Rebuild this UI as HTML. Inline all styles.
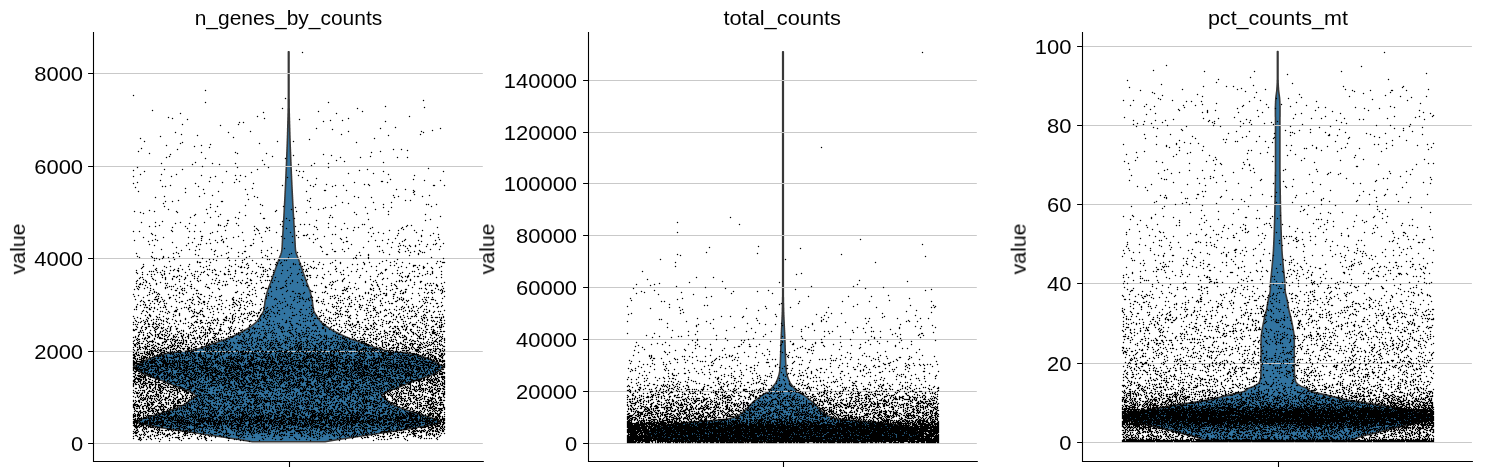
<!DOCTYPE html><html><head><meta charset="utf-8"><title>violin</title><style>html,body{margin:0;padding:0;background:#fff}svg{display:block}text{font-family:"Liberation Sans",sans-serif;fill:#000}.t{opacity:.999}</style></head><body>
<svg width="1502" height="476" viewBox="0 0 1502 476">
<rect width="1502" height="476" fill="#fff"/>
<path d="M288.4,51.7L288.4,52.2L288.4,52.7L288.4,53.2L288.4,53.7L288.4,54.2L288.4,54.7L288.4,55.2L288.4,55.7L288.4,56.2L288.4,56.7L288.4,57.2L288.4,57.7L288.4,58.2L288.4,58.7L288.4,59.2L288.4,59.7L288.4,60.2L288.4,60.7L288.4,61.2L288.4,61.7L288.4,62.2L288.4,62.7L288.4,63.2L288.4,63.7L288.4,64.2L288.4,64.7L288.4,65.2L288.4,65.7L288.4,66.2L288.4,66.7L288.4,67.2L288.4,67.7L288.4,68.2L288.4,68.7L288.4,69.2L288.4,69.7L288.4,70.2L288.4,70.7L288.4,71.2L288.4,71.7L288.4,72.2L288.4,72.7L288.4,73.2L288.4,73.7L288.4,74.2L288.4,74.7L288.4,75.2L288.4,75.7L288.4,76.2L288.4,76.7L288.4,77.2L288.4,77.7L288.4,78.2L288.4,78.7L288.4,79.2L288.4,79.7L288.4,80.2L288.4,80.7L288.4,81.2L288.4,81.7L288.4,82.2L288.4,82.7L288.4,83.2L288.4,83.7L288.4,84.2L288.4,84.7L288.4,85.2L288.4,85.7L288.4,86.2L288.4,86.7L288.4,87.2L288.4,87.7L288.4,88.2L288.4,88.7L288.4,89.2L288.4,89.7L288.4,90.2L288.4,90.7L288.4,91.2L288.4,91.7L288.4,92.2L288.4,92.7L288.4,93.2L288.4,93.7L288.4,94.2L288.4,94.7L288.4,95.2L288.4,95.7L288.4,96.2L288.4,96.7L288.4,97.2L288.4,97.7L288.4,98.2L288.4,98.7L288.3,99.2L288.3,99.7L288.3,100.2L288.3,100.7L288.3,101.2L288.3,101.7L288.3,102.2L288.3,102.7L288.3,103.2L288.3,103.7L288.3,104.2L288.3,104.7L288.3,105.2L288.3,105.7L288.3,106.2L288.3,106.7L288.3,107.2L288.3,107.7L288.3,108.2L288.2,108.7L288.2,109.2L288.2,109.7L288.2,110.2L288.2,110.7L288.2,111.2L288.2,111.7L288.2,112.2L288.2,112.7L288.2,113.2L288.1,113.7L288.1,114.2L288.1,114.7L288.1,115.2L288.1,115.7L288.1,116.2L288.1,116.7L288.1,117.2L288.0,117.7L288.0,118.2L288.0,118.7L288.0,119.2L288.0,119.7L288.0,120.2L288.0,120.7L287.9,121.2L287.9,121.7L287.9,122.2L287.9,122.7L287.9,123.2L287.9,123.7L287.9,124.2L287.8,124.7L287.8,125.2L287.8,125.7L287.8,126.2L287.8,126.7L287.8,127.2L287.8,127.7L287.7,128.2L287.7,128.7L287.7,129.2L287.7,129.7L287.7,130.2L287.7,130.7L287.7,131.2L287.7,131.7L287.6,132.2L287.6,132.7L287.6,133.2L287.6,133.7L287.6,134.2L287.6,134.7L287.6,135.2L287.5,135.7L287.5,136.2L287.5,136.7L287.5,137.2L287.5,137.7L287.5,138.2L287.4,138.7L287.4,139.2L287.4,139.7L287.4,140.2L287.4,140.7L287.4,141.2L287.3,141.7L287.3,142.2L287.3,142.7L287.3,143.2L287.3,143.7L287.3,144.2L287.2,144.7L287.2,145.2L287.2,145.7L287.2,146.2L287.2,146.7L287.1,147.2L287.1,147.7L287.1,148.2L287.1,148.7L287.1,149.2L287.0,149.7L287.0,150.2L287.0,150.7L287.0,151.2L287.0,151.7L286.9,152.2L286.9,152.7L286.9,153.2L286.9,153.7L286.9,154.2L286.8,154.7L286.8,155.2L286.8,155.7L286.8,156.2L286.8,156.7L286.7,157.2L286.7,157.7L286.7,158.2L286.7,158.7L286.7,159.2L286.6,159.7L286.6,160.2L286.6,160.7L286.6,161.2L286.6,161.7L286.5,162.2L286.5,162.7L286.5,163.2L286.5,163.7L286.5,164.2L286.4,164.7L286.4,165.2L286.4,165.7L286.4,166.2L286.4,166.7L286.3,167.2L286.3,167.7L286.3,168.2L286.3,168.7L286.2,169.2L286.2,169.7L286.2,170.2L286.2,170.7L286.2,171.2L286.1,171.7L286.1,172.2L286.1,172.7L286.1,173.2L286.1,173.7L286.0,174.2L286.0,174.7L286.0,175.2L286.0,175.7L285.9,176.2L285.9,176.7L285.9,177.2L285.9,177.7L285.9,178.2L285.8,178.7L285.8,179.2L285.8,179.7L285.8,180.2L285.7,180.7L285.7,181.2L285.7,181.7L285.7,182.2L285.6,182.7L285.6,183.2L285.6,183.7L285.6,184.2L285.6,184.7L285.5,185.2L285.5,185.7L285.5,186.2L285.5,186.7L285.4,187.2L285.4,187.7L285.4,188.2L285.4,188.7L285.3,189.2L285.3,189.7L285.3,190.2L285.3,190.7L285.2,191.2L285.2,191.7L285.2,192.2L285.2,192.7L285.1,193.2L285.1,193.7L285.1,194.2L285.1,194.7L285.0,195.2L285.0,195.7L285.0,196.2L285.0,196.7L284.9,197.2L284.9,197.7L284.9,198.2L284.9,198.7L284.8,199.2L284.8,199.7L284.8,200.2L284.8,200.7L284.7,201.2L284.7,201.7L284.7,202.2L284.7,202.7L284.6,203.2L284.6,203.7L284.6,204.2L284.6,204.7L284.5,205.2L284.5,205.7L284.5,206.2L284.4,206.7L284.4,207.2L284.4,207.7L284.4,208.2L284.3,208.7L284.3,209.2L284.3,209.7L284.3,210.2L284.2,210.7L284.2,211.2L284.2,211.7L284.2,212.2L284.1,212.7L284.1,213.2L284.1,213.7L284.0,214.2L284.0,214.7L284.0,215.2L284.0,215.7L283.9,216.2L283.9,216.7L283.9,217.2L283.8,217.7L283.8,218.2L283.8,218.7L283.8,219.2L283.7,219.7L283.7,220.2L283.7,220.7L283.6,221.2L283.6,221.7L283.6,222.2L283.6,222.7L283.5,223.2L283.5,223.7L283.5,224.2L283.4,224.7L283.4,225.2L283.4,225.7L283.3,226.2L283.3,226.7L283.3,227.2L283.3,227.7L283.2,228.2L283.2,228.7L283.2,229.2L283.1,229.7L283.1,230.2L283.1,230.7L283.0,231.2L283.0,231.7L283.0,232.2L282.9,232.7L282.9,233.2L282.9,233.7L282.9,234.2L282.8,234.7L282.8,235.2L282.8,235.7L282.7,236.2L282.7,236.7L282.7,237.2L282.6,237.7L282.6,238.2L282.6,238.7L282.5,239.2L282.5,239.7L282.5,240.2L282.5,240.7L282.4,241.2L282.4,241.7L282.4,242.2L282.4,242.7L282.3,243.2L282.3,243.7L282.3,244.2L282.3,244.7L282.2,245.2L282.2,245.7L282.2,246.2L282.2,246.7L282.1,247.2L282.1,247.7L282.1,248.2L282.0,248.7L282.0,249.2L281.9,249.7L281.9,250.2L281.8,250.7L281.7,251.2L281.6,251.7L281.5,252.2L281.4,252.7L281.2,253.2L281.0,253.7L280.9,254.2L280.7,254.7L280.5,255.2L280.3,255.7L280.1,256.2L279.9,256.7L279.7,257.2L279.5,257.7L279.3,258.2L279.1,258.7L278.9,259.2L278.7,259.7L278.5,260.2L278.3,260.7L278.2,261.2L278.0,261.7L277.8,262.2L277.6,262.7L277.5,263.2L277.3,263.7L277.1,264.2L276.9,264.7L276.8,265.2L276.6,265.7L276.4,266.2L276.2,266.7L276.0,267.2L275.9,267.7L275.7,268.2L275.5,268.7L275.3,269.2L275.2,269.7L275.0,270.2L274.8,270.7L274.6,271.2L274.5,271.7L274.3,272.2L274.1,272.7L273.9,273.2L273.8,273.7L273.6,274.2L273.4,274.7L273.2,275.2L273.0,275.7L272.9,276.2L272.7,276.7L272.5,277.2L272.3,277.7L272.2,278.2L272.0,278.7L271.8,279.2L271.6,279.7L271.5,280.2L271.3,280.7L271.1,281.2L270.9,281.7L270.7,282.2L270.6,282.7L270.4,283.2L270.2,283.7L270.0,284.2L269.8,284.7L269.6,285.2L269.4,285.7L269.2,286.2L269.0,286.7L268.8,287.2L268.6,287.7L268.5,288.2L268.3,288.7L268.1,289.2L267.9,289.7L267.8,290.2L267.6,290.7L267.4,291.2L267.3,291.7L267.1,292.2L267.0,292.7L266.9,293.2L266.7,293.7L266.6,294.2L266.5,294.7L266.3,295.2L266.2,295.7L266.1,296.2L266.0,296.7L265.9,297.2L265.8,297.7L265.7,298.2L265.6,298.7L265.5,299.2L265.4,299.7L265.3,300.2L265.2,300.7L265.1,301.2L265.0,301.7L265.0,302.2L264.9,302.7L264.8,303.2L264.8,303.7L264.7,304.2L264.7,304.7L264.6,305.2L264.5,305.7L264.5,306.2L264.4,306.7L264.3,307.2L264.3,307.7L264.2,308.2L264.1,308.7L264.0,309.2L263.9,309.7L263.8,310.2L263.7,310.7L263.5,311.2L263.3,311.7L263.1,312.2L262.8,312.7L262.5,313.2L262.2,313.7L261.9,314.2L261.6,314.7L261.2,315.2L260.9,315.7L260.6,316.2L260.3,316.7L259.9,317.2L259.6,317.7L259.3,318.2L258.9,318.7L258.6,319.2L258.2,319.7L257.8,320.2L257.5,320.7L257.0,321.2L256.6,321.7L256.2,322.2L255.7,322.7L255.2,323.2L254.6,323.7L254.0,324.2L253.4,324.7L252.7,325.2L252.0,325.7L251.3,326.2L250.5,326.7L249.7,327.2L249.0,327.7L248.2,328.2L247.4,328.7L246.5,329.2L245.7,329.7L244.8,330.2L244.0,330.7L243.0,331.2L242.1,331.7L241.2,332.2L240.2,332.7L239.2,333.2L238.2,333.7L237.2,334.2L236.2,334.7L235.1,335.2L234.1,335.7L233.0,336.2L231.9,336.7L230.8,337.2L229.6,337.7L228.4,338.2L227.2,338.7L225.9,339.2L224.6,339.7L223.2,340.2L221.7,340.7L220.2,341.2L218.7,341.7L217.3,342.2L215.8,342.7L214.4,343.2L213.0,343.7L211.6,344.2L210.2,344.7L208.7,345.2L207.3,345.7L205.8,346.2L204.3,346.7L202.9,347.2L201.5,347.7L200.0,348.2L198.4,348.7L196.7,349.2L194.8,349.7L192.5,350.2L189.6,350.7L185.9,351.2L181.9,351.7L177.7,352.2L173.4,352.7L169.5,353.2L166.0,353.7L163.2,354.2L161.1,354.7L159.2,355.2L157.4,355.7L155.8,356.2L154.3,356.7L152.8,357.2L151.5,357.7L150.2,358.2L149.0,358.7L147.8,359.2L146.7,359.7L145.6,360.2L144.5,360.7L143.5,361.2L142.6,361.7L141.7,362.2L140.8,362.7L139.9,363.2L139.0,363.7L138.1,364.2L137.1,364.7L136.0,365.2L135.0,365.7L134.2,366.2L133.7,366.7L133.6,367.2L134.0,367.7L134.6,368.2L135.3,368.7L136.1,369.2L136.8,369.7L137.4,370.2L138.1,370.7L138.8,371.2L139.5,371.7L140.3,372.2L141.1,372.7L142.1,373.2L143.1,373.7L144.2,374.2L145.4,374.7L146.7,375.2L148.1,375.7L149.4,376.2L150.9,376.7L152.3,377.2L153.8,377.7L155.3,378.2L156.8,378.7L158.2,379.2L159.6,379.7L161.0,380.2L162.4,380.7L163.7,381.2L164.9,381.7L166.2,382.2L167.5,382.7L168.7,383.2L170.0,383.7L171.2,384.2L172.5,384.7L173.7,385.2L174.9,385.7L176.1,386.2L177.4,386.7L178.6,387.2L179.8,387.7L181.1,388.2L182.4,388.7L183.8,389.2L185.1,389.7L186.5,390.2L187.8,390.7L189.0,391.2L190.2,391.7L191.3,392.2L192.2,392.7L193.0,393.2L193.7,393.7L194.3,394.2L194.9,394.7L195.3,395.2L195.5,395.7L195.4,396.2L194.9,396.7L194.1,397.2L193.4,397.7L192.8,398.2L192.2,398.7L191.6,399.2L191.0,399.7L190.4,400.2L189.8,400.7L189.1,401.2L188.5,401.7L187.8,402.2L187.1,402.7L186.4,403.2L185.6,403.7L184.8,404.2L183.9,404.7L183.0,405.2L181.9,405.7L180.8,406.2L179.7,406.7L178.4,407.2L177.2,407.7L175.8,408.2L174.4,408.7L173.0,409.2L171.6,409.7L170.1,410.2L168.6,410.7L167.1,411.2L165.6,411.7L164.1,412.2L162.6,412.7L161.0,413.2L159.4,413.7L157.7,414.2L156.0,414.7L154.2,415.2L152.5,415.7L150.8,416.2L149.1,416.7L147.5,417.2L146.0,417.7L144.4,418.2L142.8,418.7L141.3,419.2L140.1,419.7L139.1,420.2L138.2,420.7L137.5,421.2L137.3,421.7L137.9,422.2L138.9,422.7L140.2,423.2L141.7,423.7L143.7,424.2L146.0,424.7L148.6,425.2L151.2,425.7L153.7,426.2L156.4,426.7L159.2,427.2L162.0,427.7L165.0,428.2L168.0,428.7L171.0,429.2L174.1,429.7L177.3,430.2L180.6,430.7L184.0,431.2L187.4,431.7L190.8,432.2L194.1,432.7L197.5,433.2L200.8,433.7L204.1,434.2L207.4,434.7L210.8,435.2L214.1,435.7L217.4,436.2L220.8,436.7L224.2,437.2L227.6,437.7L230.9,438.2L234.2,438.7L237.4,439.2L240.5,439.7L243.5,440.2L246.5,440.7L249.4,441.2L252.3,441.7L252.3,441.8L325.1,441.8L325.1,441.7L328.0,441.2L330.9,440.7L333.9,440.2L336.9,439.7L340.0,439.2L343.2,438.7L346.5,438.2L349.8,437.7L353.2,437.2L356.6,436.7L360.0,436.2L363.3,435.7L366.6,435.2L370.0,434.7L373.3,434.2L376.6,433.7L379.9,433.2L383.3,432.7L386.6,432.2L390.0,431.7L393.4,431.2L396.8,430.7L400.1,430.2L403.3,429.7L406.4,429.2L409.4,428.7L412.4,428.2L415.4,427.7L418.2,427.2L421.0,426.7L423.7,426.2L426.2,425.7L428.8,425.2L431.4,424.7L433.7,424.2L435.7,423.7L437.2,423.2L438.5,422.7L439.5,422.2L440.1,421.7L439.9,421.2L439.2,420.7L438.3,420.2L437.3,419.7L436.1,419.2L434.6,418.7L433.0,418.2L431.4,417.7L429.9,417.2L428.3,416.7L426.6,416.2L424.9,415.7L423.2,415.2L421.4,414.7L419.7,414.2L418.0,413.7L416.4,413.2L414.8,412.7L413.3,412.2L411.8,411.7L410.3,411.2L408.8,410.7L407.3,410.2L405.8,409.7L404.4,409.2L403.0,408.7L401.6,408.2L400.2,407.7L399.0,407.2L397.7,406.7L396.6,406.2L395.5,405.7L394.4,405.2L393.5,404.7L392.6,404.2L391.8,403.7L391.0,403.2L390.3,402.7L389.6,402.2L388.9,401.7L388.3,401.2L387.6,400.7L387.0,400.2L386.4,399.7L385.8,399.2L385.2,398.7L384.6,398.2L384.0,397.7L383.3,397.2L382.5,396.7L382.0,396.2L381.9,395.7L382.1,395.2L382.5,394.7L383.1,394.2L383.7,393.7L384.4,393.2L385.2,392.7L386.1,392.2L387.2,391.7L388.4,391.2L389.6,390.7L390.9,390.2L392.3,389.7L393.6,389.2L395.0,388.7L396.3,388.2L397.6,387.7L398.8,387.2L400.0,386.7L401.3,386.2L402.5,385.7L403.7,385.2L404.9,384.7L406.2,384.2L407.4,383.7L408.7,383.2L409.9,382.7L411.2,382.2L412.5,381.7L413.7,381.2L415.0,380.7L416.4,380.2L417.8,379.7L419.2,379.2L420.6,378.7L422.1,378.2L423.6,377.7L425.1,377.2L426.5,376.7L428.0,376.2L429.3,375.7L430.7,375.2L432.0,374.7L433.2,374.2L434.3,373.7L435.3,373.2L436.3,372.7L437.1,372.2L437.9,371.7L438.6,371.2L439.3,370.7L440.0,370.2L440.6,369.7L441.3,369.2L442.1,368.7L442.8,368.2L443.4,367.7L443.8,367.2L443.7,366.7L443.2,366.2L442.4,365.7L441.4,365.2L440.3,364.7L439.3,364.2L438.4,363.7L437.5,363.2L436.6,362.7L435.7,362.2L434.8,361.7L433.9,361.2L432.9,360.7L431.8,360.2L430.7,359.7L429.6,359.2L428.4,358.7L427.2,358.2L425.9,357.7L424.6,357.2L423.1,356.7L421.6,356.2L420.0,355.7L418.2,355.2L416.3,354.7L414.2,354.2L411.4,353.7L407.9,353.2L404.0,352.7L399.7,352.2L395.5,351.7L391.5,351.2L387.8,350.7L384.9,350.2L382.6,349.7L380.7,349.2L379.0,348.7L377.4,348.2L375.9,347.7L374.5,347.2L373.1,346.7L371.6,346.2L370.1,345.7L368.7,345.2L367.2,344.7L365.8,344.2L364.4,343.7L363.0,343.2L361.6,342.7L360.1,342.2L358.7,341.7L357.2,341.2L355.7,340.7L354.2,340.2L352.8,339.7L351.5,339.2L350.2,338.7L349.0,338.2L347.8,337.7L346.6,337.2L345.5,336.7L344.4,336.2L343.3,335.7L342.3,335.2L341.2,334.7L340.2,334.2L339.2,333.7L338.2,333.2L337.2,332.7L336.2,332.2L335.3,331.7L334.4,331.2L333.4,330.7L332.6,330.2L331.7,329.7L330.9,329.2L330.0,328.7L329.2,328.2L328.4,327.7L327.7,327.2L326.9,326.7L326.1,326.2L325.4,325.7L324.7,325.2L324.0,324.7L323.4,324.2L322.8,323.7L322.2,323.2L321.7,322.7L321.2,322.2L320.8,321.7L320.4,321.2L319.9,320.7L319.6,320.2L319.2,319.7L318.8,319.2L318.5,318.7L318.1,318.2L317.8,317.7L317.5,317.2L317.1,316.7L316.8,316.2L316.5,315.7L316.2,315.2L315.8,314.7L315.5,314.2L315.2,313.7L314.9,313.2L314.6,312.7L314.3,312.2L314.1,311.7L313.9,311.2L313.7,310.7L313.6,310.2L313.5,309.7L313.4,309.2L313.3,308.7L313.2,308.2L313.1,307.7L313.1,307.2L313.0,306.7L312.9,306.2L312.9,305.7L312.8,305.2L312.7,304.7L312.7,304.2L312.6,303.7L312.6,303.2L312.5,302.7L312.4,302.2L312.4,301.7L312.3,301.2L312.2,300.7L312.1,300.2L312.0,299.7L311.9,299.2L311.8,298.7L311.7,298.2L311.6,297.7L311.5,297.2L311.4,296.7L311.3,296.2L311.2,295.7L311.1,295.2L310.9,294.7L310.8,294.2L310.7,293.7L310.5,293.2L310.4,292.7L310.3,292.2L310.1,291.7L310.0,291.2L309.8,290.7L309.6,290.2L309.5,289.7L309.3,289.2L309.1,288.7L308.9,288.2L308.8,287.7L308.6,287.2L308.4,286.7L308.2,286.2L308.0,285.7L307.8,285.2L307.6,284.7L307.4,284.2L307.2,283.7L307.0,283.2L306.8,282.7L306.7,282.2L306.5,281.7L306.3,281.2L306.1,280.7L305.9,280.2L305.8,279.7L305.6,279.2L305.4,278.7L305.2,278.2L305.1,277.7L304.9,277.2L304.7,276.7L304.5,276.2L304.4,275.7L304.2,275.2L304.0,274.7L303.8,274.2L303.6,273.7L303.5,273.2L303.3,272.7L303.1,272.2L302.9,271.7L302.8,271.2L302.6,270.7L302.4,270.2L302.2,269.7L302.1,269.2L301.9,268.7L301.7,268.2L301.5,267.7L301.4,267.2L301.2,266.7L301.0,266.2L300.8,265.7L300.6,265.2L300.5,264.7L300.3,264.2L300.1,263.7L299.9,263.2L299.8,262.7L299.6,262.2L299.4,261.7L299.2,261.2L299.1,260.7L298.9,260.2L298.7,259.7L298.5,259.2L298.3,258.7L298.1,258.2L297.9,257.7L297.7,257.2L297.5,256.7L297.3,256.2L297.1,255.7L296.9,255.2L296.7,254.7L296.5,254.2L296.4,253.7L296.2,253.2L296.0,252.7L295.9,252.2L295.8,251.7L295.7,251.2L295.6,250.7L295.5,250.2L295.5,249.7L295.4,249.2L295.4,248.7L295.3,248.2L295.3,247.7L295.3,247.2L295.2,246.7L295.2,246.2L295.2,245.7L295.2,245.2L295.1,244.7L295.1,244.2L295.1,243.7L295.1,243.2L295.0,242.7L295.0,242.2L295.0,241.7L295.0,241.2L294.9,240.7L294.9,240.2L294.9,239.7L294.9,239.2L294.8,238.7L294.8,238.2L294.8,237.7L294.7,237.2L294.7,236.7L294.7,236.2L294.6,235.7L294.6,235.2L294.6,234.7L294.5,234.2L294.5,233.7L294.5,233.2L294.5,232.7L294.4,232.2L294.4,231.7L294.4,231.2L294.3,230.7L294.3,230.2L294.3,229.7L294.2,229.2L294.2,228.7L294.2,228.2L294.1,227.7L294.1,227.2L294.1,226.7L294.1,226.2L294.0,225.7L294.0,225.2L294.0,224.7L293.9,224.2L293.9,223.7L293.9,223.2L293.8,222.7L293.8,222.2L293.8,221.7L293.8,221.2L293.7,220.7L293.7,220.2L293.7,219.7L293.6,219.2L293.6,218.7L293.6,218.2L293.6,217.7L293.5,217.2L293.5,216.7L293.5,216.2L293.4,215.7L293.4,215.2L293.4,214.7L293.4,214.2L293.3,213.7L293.3,213.2L293.3,212.7L293.2,212.2L293.2,211.7L293.2,211.2L293.2,210.7L293.1,210.2L293.1,209.7L293.1,209.2L293.1,208.7L293.0,208.2L293.0,207.7L293.0,207.2L293.0,206.7L292.9,206.2L292.9,205.7L292.9,205.2L292.8,204.7L292.8,204.2L292.8,203.7L292.8,203.2L292.7,202.7L292.7,202.2L292.7,201.7L292.7,201.2L292.6,200.7L292.6,200.2L292.6,199.7L292.6,199.2L292.5,198.7L292.5,198.2L292.5,197.7L292.5,197.2L292.4,196.7L292.4,196.2L292.4,195.7L292.4,195.2L292.3,194.7L292.3,194.2L292.3,193.7L292.3,193.2L292.2,192.7L292.2,192.2L292.2,191.7L292.2,191.2L292.1,190.7L292.1,190.2L292.1,189.7L292.1,189.2L292.0,188.7L292.0,188.2L292.0,187.7L292.0,187.2L291.9,186.7L291.9,186.2L291.9,185.7L291.9,185.2L291.8,184.7L291.8,184.2L291.8,183.7L291.8,183.2L291.8,182.7L291.7,182.2L291.7,181.7L291.7,181.2L291.7,180.7L291.6,180.2L291.6,179.7L291.6,179.2L291.6,178.7L291.5,178.2L291.5,177.7L291.5,177.2L291.5,176.7L291.5,176.2L291.4,175.7L291.4,175.2L291.4,174.7L291.4,174.2L291.3,173.7L291.3,173.2L291.3,172.7L291.3,172.2L291.3,171.7L291.2,171.2L291.2,170.7L291.2,170.2L291.2,169.7L291.2,169.2L291.1,168.7L291.1,168.2L291.1,167.7L291.1,167.2L291.0,166.7L291.0,166.2L291.0,165.7L291.0,165.2L291.0,164.7L290.9,164.2L290.9,163.7L290.9,163.2L290.9,162.7L290.9,162.2L290.8,161.7L290.8,161.2L290.8,160.7L290.8,160.2L290.8,159.7L290.7,159.2L290.7,158.7L290.7,158.2L290.7,157.7L290.7,157.2L290.6,156.7L290.6,156.2L290.6,155.7L290.6,155.2L290.6,154.7L290.5,154.2L290.5,153.7L290.5,153.2L290.5,152.7L290.5,152.2L290.4,151.7L290.4,151.2L290.4,150.7L290.4,150.2L290.4,149.7L290.3,149.2L290.3,148.7L290.3,148.2L290.3,147.7L290.3,147.2L290.2,146.7L290.2,146.2L290.2,145.7L290.2,145.2L290.2,144.7L290.1,144.2L290.1,143.7L290.1,143.2L290.1,142.7L290.1,142.2L290.1,141.7L290.0,141.2L290.0,140.7L290.0,140.2L290.0,139.7L290.0,139.2L290.0,138.7L289.9,138.2L289.9,137.7L289.9,137.2L289.9,136.7L289.9,136.2L289.9,135.7L289.8,135.2L289.8,134.7L289.8,134.2L289.8,133.7L289.8,133.2L289.8,132.7L289.8,132.2L289.7,131.7L289.7,131.2L289.7,130.7L289.7,130.2L289.7,129.7L289.7,129.2L289.7,128.7L289.7,128.2L289.6,127.7L289.6,127.2L289.6,126.7L289.6,126.2L289.6,125.7L289.6,125.2L289.6,124.7L289.5,124.2L289.5,123.7L289.5,123.2L289.5,122.7L289.5,122.2L289.5,121.7L289.5,121.2L289.4,120.7L289.4,120.2L289.4,119.7L289.4,119.2L289.4,118.7L289.4,118.2L289.4,117.7L289.3,117.2L289.3,116.7L289.3,116.2L289.3,115.7L289.3,115.2L289.3,114.7L289.3,114.2L289.3,113.7L289.2,113.2L289.2,112.7L289.2,112.2L289.2,111.7L289.2,111.2L289.2,110.7L289.2,110.2L289.2,109.7L289.2,109.2L289.2,108.7L289.1,108.2L289.1,107.7L289.1,107.2L289.1,106.7L289.1,106.2L289.1,105.7L289.1,105.2L289.1,104.7L289.1,104.2L289.1,103.7L289.1,103.2L289.1,102.7L289.1,102.2L289.1,101.7L289.1,101.2L289.1,100.7L289.1,100.2L289.1,99.7L289.1,99.2L289.0,98.7L289.0,98.2L289.0,97.7L289.0,97.2L289.0,96.7L289.0,96.2L289.0,95.7L289.0,95.2L289.0,94.7L289.0,94.2L289.0,93.7L289.0,93.2L289.0,92.7L289.0,92.2L289.0,91.7L289.0,91.2L289.0,90.7L289.0,90.2L289.0,89.7L289.0,89.2L289.0,88.7L289.0,88.2L289.0,87.7L289.0,87.2L289.0,86.7L289.0,86.2L289.0,85.7L289.0,85.2L289.0,84.7L289.0,84.2L289.0,83.7L289.0,83.2L289.0,82.7L289.0,82.2L289.0,81.7L289.0,81.2L289.0,80.7L289.0,80.2L289.0,79.7L289.0,79.2L289.0,78.7L289.0,78.2L289.0,77.7L289.0,77.2L289.0,76.7L289.0,76.2L289.0,75.7L289.0,75.2L289.0,74.7L289.0,74.2L289.0,73.7L289.0,73.2L289.0,72.7L289.0,72.2L289.0,71.7L289.0,71.2L289.0,70.7L289.0,70.2L289.0,69.7L289.0,69.2L289.0,68.7L289.0,68.2L289.0,67.7L289.0,67.2L289.0,66.7L289.0,66.2L289.0,65.7L289.0,65.2L289.0,64.7L289.0,64.2L289.0,63.7L289.0,63.2L289.0,62.7L289.0,62.2L289.0,61.7L289.0,61.2L289.0,60.7L289.0,60.2L289.0,59.7L289.0,59.2L289.0,58.7L289.0,58.2L289.0,57.7L289.0,57.2L289.0,56.7L289.0,56.2L289.0,55.7L289.0,55.2L289.0,54.7L289.0,54.2L289.0,53.7L289.0,53.2L289.0,52.7L289.0,52.2L289.0,51.7Z" fill="#3274a1" stroke="#383838" stroke-width="1.6" stroke-linejoin="round"/>
<path d="M94.0 443.5H482.8" stroke="#c9c9c9" stroke-width="1"/>
<path d="M94.0 351.5H482.8" stroke="#c9c9c9" stroke-width="1"/>
<path d="M94.0 258.5H482.8" stroke="#c9c9c9" stroke-width="1"/>
<path d="M94.0 166.5H482.8" stroke="#c9c9c9" stroke-width="1"/>
<path d="M94.0 73.5H482.8" stroke="#c9c9c9" stroke-width="1"/>
<g transform="translate(0,.5)" stroke="#000" stroke-width="1" fill="none" shape-rendering="crispEdges"><path id="d0" d="M205 90h1M133 95h1M285 98h1M423 100h1M205 102h1m122 0h1M385 106h1M424 107h1M282 108h1m74 0h1M152 110h1M318 111h1m43 0h1M263 112h1M180 113h1m155 0h1M257 116h1m151 0h1M168 117h1M172 118h1m91 0h1m83 0h1M187 119h1m111 0h1M330 120h1m11 0h1M323 121h1m61 0h1M239 122h1m3 0h1M182 124h1m55 0h1M220 125h1M395 127h1M316 128h1m63 0h1m59 0h1M332 129h1M432 130h1M250 131h1m97 0h1m72 0h1M175 132h1m52 0h1m194 0h1M181 134h1m159 0h1m78 0h1M197 135h1m190 0h1M160 136h1M233 137h1M140 138h1m233 0h1M309 139h1M144 141h1m132 0h1m15 0h1M182 142h1m173 0h1M180 143h1m78 0h1M210 144h1M166 145h1m34 0h1M194 146h1M209 147h1M141 148h1M177 149h1m215 0h1m7 0h1M407 150h1M138 151h1m241 0h1M201 152h1m33 0h1m135 0h1M149 153h1m87 0h1m28 0h1M170 154h1m152 0h1M293 155h1m37 0h1M169 156h1m102 0h1m97 0h1M166 157h1m173 0h1m19 0h1m36 0h1m9 0h1M205 158h1m79 0h1M262 160h1m73 0h1M344 161h1M195 162h1m187 0h1M161 163h1m50 0h1m22 0h1m78 0h1m13 0h1M192 164h1m26 0h1m44 0h1m33 0h1M311 165h1M202 166h1M137 167h1m99 0h1m30 0h1m59 0h1M428 168h1M164 169h1m17 0h1m74 0h1m109 0h1M133 170h1m162 0h1m62 0h1M144 171h1m81 0h1m72 0h1m3 0h1m79 0h1m59 0h1M251 172h1M348 173h1m24 0h1M140 174h1m20 0h1m14 0h1m211 0h1M201 175h1m33 0h1m4 0h1m57 0h1m115 0h1M133 176h1m37 0h1m43 0h1m29 0h1M210 177h1m76 0h1m14 0h1M316 178h1M236 179h1m153 0h1m22 0h1M160 180h1m146 0h1m116 0h1m15 0h1M209 181h1m29 0h1m141 0h2M137 182h1m84 0h1m11 0h1m119 0h1m32 0h1M133 183h1m61 0h1m57 0h1M315 184h1m10 0h1m37 0h1m3 0h1M170 185h1m111 0h1m27 0h1m24 0h1m7 0h1m25 0h1m63 0h2m9 0h1M162 186h1m2 0h1m32 0h1m114 0h1m18 0h1M135 187h1M185 188h1m66 0h1M203 189h1m41 0h1m150 0h1m8 0h1M324 190h2m20 0h1m66 0h1M138 191h1m79 0h1m87 0h1m107 0h1M185 192h1m227 0h1M204 193h1M247 194h1m166 0h1M212 195h1m180 0h1m35 0h1M164 196h1m34 0h1m54 0h1m81 0h1m17 0h1m43 0h1m23 0h1M155 197h1m101 0h1m100 0h1m12 0h1m22 0h1M310 198h1M248 199h1M178 200h1m128 0h1m97 0h1m4 0h1M165 201h1m6 0h1m48 0h2m86 0h1M342 202h1m30 0h1m17 0h1M163 203h1m184 0h1M210 204h1m49 0h1m122 0h1m42 0h1m1 0h1m7 0h1M245 205h1m16 0h1m72 0h1M164 206h1m52 0h1m65 0h1m147 0h1M210 207h1m84 0h1m14 0h1m14 0h1m5 0h1m33 0h1m17 0h1m7 0h1M323 208h1M168 209h1m37 0h1m84 0h1m26 0h1m56 0h1M149 210h1m126 0h1M134 211h1m19 0h1m21 0h1m38 0h1m59 0h1m20 0h1m91 0h1M140 212h1m36 0h1m61 0h1m66 0h1m47 0h1M143 213h1m63 0h1m52 0h1m106 0h1M195 214h1m24 0h1m135 0h1m31 0h1m36 0h1M194 215h1m50 0h1m84 0h1M218 216h1m221 0h1M190 217h1m19 0h1m24 0h1m93 0h1m2 0h1M238 218h1m24 0h2m21 0h1m7 0h1M368 219h1m61 0h1M227 220h2m60 0h1m26 0h1m108 0h1M162 221h1m119 0h1M141 222h1m13 0h1m24 0h1m23 0h1M175 223h1m13 0h1m37 0h1m8 0h1m91 0h1m15 0h1M218 224h1m61 0h1m19 0h1m3 0h1m4 0h1m52 0h1m1 0h1M159 225h1m35 0h1m22 0h1m1 0h1m5 0h1m11 0h1m168 0h1m3 0h1M149 226h1m5 0h1m29 0h1m38 0h1m29 0h1m27 0h1m12 0h1m18 0h1m20 0h1m70 0h1M172 227h1m93 0h1m2 0h1m46 0h1m11 0h1m25 0h1m3 0h1m13 0h1m29 0h1m34 0h1M187 228h1m68 0h1m10 0h1m18 0h1m60 0h1m22 0h1m30 0h1M257 229h1m59 0h1m23 0h1m61 0h1M171 230h1m53 0h1m28 0h1m3 0h1m10 0h1m83 0h1m35 0h1m8 0h1m15 0h1m7 0h1M133 231h1m5 0h1m32 0h1m16 0h1m4 0h1m5 0h1m16 0h1m47 0h1m32 0h1M212 232h1m29 0h1m33 0h1m13 0h1m77 0h1m9 0h1m37 0h1M151 233h1m58 0h1m48 0h1m113 0h1m9 0h1m14 0h1m34 0h1M152 234h1m102 0h1m51 0h1m5 0h1m18 0h1m2 0h1m102 0h1M155 235h1m140 0h1m6 0h2m1 0h1m90 0h1m23 0h1m8 0h1M201 236h2m18 0h1m16 0h1m42 0h1m10 0h1m31 0h1m46 0h1m49 0h1M143 237h1m19 0h1m24 0h1m44 0h1m27 0h1m36 0h1m47 0h1m91 0h1M194 238h1m6 0h1m24 0h1m57 0h1m24 0h1m7 0h1m22 0h1m54 0h1M155 239h1m53 0h1m12 0h1m30 0h1m61 0h1m25 0h1m46 0h1m16 0h1m33 0h1M134 240h1m17 0h1m4 0h1m43 0h1m13 0h1m5 0h1m21 0h1m131 0h1m6 0h1m21 0h1m13 0h1m16 0h1M148 241h1m74 0h1m38 0h1m83 0h2m20 0h1m33 0h1m18 0h1M172 242h1m19 0h1m24 0h1m5 0h1m68 0h1m20 0h1m29 0h1m48 0h1M188 243h1m17 0h1m3 0h1m42 0h1m77 0h1m55 0h1m11 0h1m36 0h1m6 0h1M149 244h1m48 0h1m1 0h1m150 0h1m67 0h1m7 0h1m5 0h1m1 0h1M154 245h1m31 0h1m63 0h2m148 0h1m2 0h1m5 0h1m5 0h1M196 246h1m30 0h1m17 0h1m74 0h1m56 0h1m1 0h1m18 0h1m6 0h1m4 0h1m4 0h1m10 0h1m13 0h1M176 247h1m94 0h1m49 0h1m41 0h1m27 0h1M231 248h1m52 0h1m63 0h1m58 0h1M161 249h1m27 0h1m9 0h1m11 0h1m120 0h1m9 0h1m56 0h1m30 0h1m8 0h1M181 250h1m13 0h1m19 0h1m45 0h1m5 0h1m9 0h1m104 0h1m25 0h1m10 0h1M214 251h1m29 0h2m76 0h1m11 0h2m8 0h1m34 0h1m18 0h1m6 0h1m8 0h1m5 0h1M152 252h1m23 0h1m51 0h1m9 0h1m22 0h1m35 0h1m61 0h1m23 0h1m15 0h1m10 0h1m11 0h1m1 0h1M136 253h1m36 0h1m4 0h1m47 0h1m15 0h1m28 0h1m19 0h1m126 0h1M195 254h1m18 0h1m74 0h1m36 0h2m40 0h1m20 0h1m28 0h1M198 255h1m22 0h1m43 0h1m90 0h1m3 0h1m7 0h1m40 0h1M137 256h1m13 0h1m11 0h1m15 0h1m37 0h1m20 0h1m10 0h1m17 0h1m32 0h1M139 257h1m12 0h1m10 0h1m4 0h1m4 0h1m54 0h1m17 0h1m15 0h1m25 0h1m66 0h1m12 0h1m62 0h1M154 258h1m1 0h1m5 0h1m39 0h1m24 0h1m125 0h1m2 0h1m11 0h1m74 0h1M159 259h1m14 0h1m34 0h1m3 0h1m30 0h1m22 0h1m1 0h1m4 0h1m122 0h1M154 260h1m61 0h1m12 0h1m5 0h1m6 0h1m9 0h1m26 0h1m4 0h1m1 0h1m48 0h1m50 0h1M169 261h1m27 0h1m8 0h1m106 0h1m68 0h1m11 0h1m42 0h1m2 0h1M197 262h1m1 0h2m9 0h1m31 0h1m33 0h1m4 0h1m22 0h1m14 0h1m12 0h1m7 0h1m22 0h1m5 0h1m20 0h1m11 0h1m39 0h3M247 263h1m8 0h1m20 0h1m2 0h1m12 0h1m6 0h1m29 0h1m9 0h1m23 0h1m14 0h1m16 0h1m12 0h1m17 0h1m8 0h1M143 264h1m45 0h1m45 0h1m10 0h1m14 0h1m8 0h1m4 0h1m17 0h1m1 0h1m3 0h1m7 0h1m10 0h1m4 0h1m28 0h1m4 0h1m6 0h1M153 265h1m26 0h1m28 0h1m19 0h1m18 0h1m27 0h1m5 0h1m21 0h1m85 0h1m3 0h1m18 0h3m3 0h1M143 266h1m20 0h1m5 0h1m17 0h1m11 0h1m5 0h1m24 0h1m6 0h1m2 0h1m16 0h1m43 0h1m7 0h1m24 0h1m35 0h1m4 0h1m24 0h1m11 0h1m9 0h1m17 0h1M142 267h1m23 0h1m36 0h1m21 0h1m14 0h2m2 0h1m3 0h1m11 0h1m1 0h2m26 0h1m20 0h1m2 0h1m32 0h1m50 0h1m7 0h1m10 0h1m5 0h2m6 0h1m7 0h1M141 268h1m14 0h1m21 0h1m68 0h1m21 0h1m38 0h1m4 0h1m2 0h1m5 0h1m13 0h1m25 0h1m60 0h1m8 0h1M155 269h1m18 0h1m7 0h1m6 0h1m17 0h1m1 0h1m4 0h1m13 0h1m36 0h1m4 0h1m28 0h1m3 0h1m2 0h1m28 0h1m21 0h1m27 0h2m31 0h1M136 270h1m19 0h1m5 0h1m7 0h1m2 0h1m3 0h2m33 0h1m2 0h1m19 0h1m27 0h1m3 0h1m5 0h1m8 0h1m4 0h1m18 0h1m36 0h1m32 0h1m8 0h1m11 0h1M149 271h1m1 0h1m1 0h1m10 0h1m13 0h1m16 0h1m1 0h1m6 0h1m15 0h1m7 0h2m5 0h1m16 0h1m10 0h1m1 0h1m39 0h1m1 0h1m20 0h1m7 0h1m14 0h1m4 0h1m9 0h1m45 0h1m1 0h1m12 0h1m4 0h1m8 0h1M136 272h1m5 0h1m14 0h1m2 0h1m24 0h1m15 0h1m1 0h1m8 0h1m28 0h2m13 0h1m16 0h1m27 0h1m38 0h1m40 0h1m20 0h1m29 0h1M137 273h1m26 0h1m4 0h1m21 0h1m32 0h1m10 0h1m11 0h1m3 0h1m3 0h1m25 0h1m9 0h1m6 0h1m81 0h1m1 0h1m9 0h1m4 0h1m2 0h1m8 0h1m9 0h1m7 0h1m4 0h1M142 274h1m4 0h1m3 0h1m2 0h1m6 0h1m2 0h1m29 0h1m5 0h1m6 0h1m7 0h2m7 0h2m2 0h1m1 0h1m15 0h1m14 0h1m1 0h1m3 0h1m5 0h1m23 0h1m26 0h1m5 0h1m10 0h1m1 0h1m34 0h1m46 0h1m4 0h1m10 0h1M162 275h1m16 0h1m7 0h1m4 0h1m15 0h1m9 0h1m71 0h1m11 0h1m3 0h2m1 0h2m6 0h1m30 0h1m11 0h1m38 0h1m8 0h1m13 0h1M151 276h1m21 0h2m2 0h1m3 0h1m12 0h1m3 0h1m35 0h1m22 0h1m4 0h1m4 0h2m2 0h1m35 0h1m62 0h1m6 0h1m23 0h1m3 0h1m1 0h2m5 0h1m2 0h2M140 277h1m1 0h1m19 0h1m2 0h1m10 0h1m8 0h1m74 0h1m14 0h1m12 0h1m21 0h1m5 0h1m5 0h1m36 0h1m42 0h1m4 0h1m28 0h1m4 0h1M139 278h1m12 0h1m12 0h1m6 0h1m12 0h1m8 0h1m2 0h1m18 0h1m13 0h1m1 0h1m14 0h1m24 0h1m50 0h1m20 0h1m38 0h1m3 0h1M143 279h1m9 0h1m11 0h1m6 0h1m6 0h1m4 0h1m27 0h1m37 0h1m50 0h1m5 0h1m35 0h1m26 0h1m11 0h1m27 0h1M137 280h1m7 0h1m9 0h1m41 0h1m2 0h1m14 0h1m3 0h1m13 0h1m4 0h1m3 0h1m7 0h2m8 0h1m4 0h1m1 0h1m1 0h1m1 0h1m2 0h1m11 0h1m5 0h1m9 0h1m3 0h1m30 0h1m4 0h1m32 0h1m23 0h1m1 0h1m4 0h1m3 0h1M136 281h1m9 0h1m32 0h1m10 0h1m7 0h1m24 0h1m2 0h1m9 0h1m41 0h1m6 0h1m6 0h1m39 0h1m2 0h1m6 0h1m22 0h1m7 0h1m22 0h1m2 0h1m2 0h1m2 0h1m14 0h2M143 282h1m2 0h1m13 0h1m57 0h2m20 0h1m5 0h2m13 0h1m10 0h1m24 0h1m32 0h1m2 0h1m15 0h1m15 0h1m10 0h1m37 0h1m5 0h1m23 0h1M136 283h1m3 0h1m8 0h1m6 0h1m8 0h1m1 0h1m16 0h1m26 0h1m2 0h1m26 0h1m3 0h1m5 0h1m4 0h1m29 0h1m3 0h1m12 0h1m17 0h1m33 0h1m35 0h1m35 0h1m2 0h1m2 0h1m7 0h1M139 284h2m1 0h1m13 0h1m18 0h1m15 0h1m14 0h1m10 0h1m7 0h1m1 0h1m101 0h1m2 0h1m38 0h1m5 0h1m4 0h1m11 0h1m19 0h1m10 0h1m10 0h1M145 285h1m4 0h1m15 0h1m20 0h1m34 0h1m2 0h1m10 0h1m11 0h2m35 0h1m17 0h1m2 0h1m7 0h1m1 0h1m14 0h1m40 0h1m4 0h1m13 0h1m3 0h1m12 0h1m16 0h1m3 0h1m1 0h1m4 0h2M136 286h1m1 0h1m30 0h1m1 0h1m1 0h1m6 0h1m9 0h2m13 0h1m64 0h1m15 0h1m20 0h1m17 0h1m22 0h1m29 0h1m7 0h1m9 0h1m40 0h1m4 0h1M139 287h1m7 0h1m17 0h1m1 0h1m39 0h2m38 0h1m6 0h1m7 0h2m6 0h1m5 0h1m5 0h2m41 0h2m17 0h1m9 0h1m57 0h1M137 288h1m6 0h1m5 0h1m14 0h1m11 0h1m4 0h1m1 0h1m6 0h1m2 0h1m14 0h1m8 0h1m42 0h1m3 0h2m1 0h1m11 0h2m49 0h1m14 0h2m2 0h1m7 0h1m11 0h1m2 0h1m5 0h1m16 0h2m21 0h1m1 0h1m3 0h1m9 0h1m7 0h1M134 289h1m3 0h1m14 0h1m17 0h1m9 0h1m37 0h1m32 0h1m23 0h1m58 0h1m8 0h1m1 0h1m9 0h1m13 0h2m7 0h1m6 0h1m5 0h1m12 0h2m19 0h1m11 0h1m2 0h1M150 290h1m24 0h2m5 0h1m1 0h1m11 0h2m57 0h1m31 0h1m22 0h1m31 0h2m1 0h1m27 0h1m16 0h1m10 0h1m29 0h2m7 0h1m1 0h1M154 291h1m82 0h1m11 0h1m21 0h1m14 0h1m5 0h2m17 0h2m12 0h1m21 0h1m32 0h1m19 0h1m4 0h1m36 0h1m1 0h1M149 292h1m4 0h1m1 0h1m22 0h1m6 0h1m25 0h1m22 0h2m6 0h1m60 0h1m10 0h1m6 0h1m1 0h1m40 0h1m2 0h1m26 0h1m7 0h1m1 0h1m18 0h1m3 0h1m2 0h1m2 0h1m7 0h1M152 293h1m5 0h1m20 0h1m2 0h1m13 0h1m1 0h1m56 0h1m8 0h1m3 0h1m26 0h1m2 0h2m3 0h1m23 0h1m14 0h2m8 0h1m12 0h1m2 0h1m14 0h2m1 0h1m13 0h1m1 0h2m8 0h1m5 0h1m8 0h1m4 0h1m8 0h1M133 294h1m15 0h1m7 0h1m1 0h1m8 0h1m14 0h1m9 0h1m6 0h2m39 0h1m5 0h2m3 0h1m29 0h1m17 0h1m70 0h1m4 0h1m3 0h1m5 0h1m6 0h2M138 295h1m8 0h1m25 0h1m2 0h1m32 0h1m11 0h1m27 0h1m18 0h1m65 0h1m2 0h1m21 0h1m14 0h1m3 0h1m6 0h2m32 0h1M134 296h1m21 0h1m1 0h1m38 0h1m6 0h1m6 0h1m7 0h2m35 0h1m9 0h1m4 0h1m18 0h1m6 0h1m1 0h1m11 0h1m18 0h1m1 0h1m7 0h1m8 0h1m9 0h1m2 0h1m11 0h1m18 0h1m50 0h1M143 297h1m11 0h1m5 0h1m7 0h2m8 0h1m12 0h1m5 0h1m16 0h1m17 0h1m12 0h1m47 0h1m7 0h1m7 0h1m1 0h1m5 0h1m16 0h1m12 0h1m6 0h1m20 0h1m20 0h1m3 0h1m22 0h1m1 0h1m1 0h1m3 0h1M158 298h1m10 0h1m29 0h1m9 0h1m22 0h1m6 0h1m1 0h1m24 0h1m8 0h1m8 0h1m14 0h2m1 0h1m5 0h1m21 0h1m3 0h1m3 0h1m5 0h1m4 0h1m13 0h1m6 0h1m11 0h1m10 0h1m5 0h1m3 0h1m7 0h1m30 0h1M135 299h1m18 0h4m4 0h1m12 0h1m13 0h2m2 0h1m6 0h1m18 0h1m12 0h2m27 0h1m12 0h1m1 0h1m17 0h1m8 0h1m2 0h1m1 0h1m14 0h1m23 0h1m7 0h1m4 0h1m11 0h1m1 0h1m24 0h1m1 0h1m1 0h1m18 0h1m2 0h1m5 0h3M141 300h1m6 0h2m7 0h1m6 0h1m22 0h1m4 0h1m23 0h1m4 0h1m4 0h1m6 0h1m2 0h1m4 0h1m8 0h1m42 0h1m15 0h1m2 0h1m3 0h2m20 0h1m1 0h1m1 0h1m8 0h1m15 0h1m2 0h1m9 0h1m16 0h1m4 0h1m3 0h1m1 0h1m17 0h1m8 0h1M140 301h1m2 0h1m8 0h1m4 0h1m2 0h1m2 0h1m12 0h1m4 0h2m15 0h1m4 0h2m3 0h1m29 0h1m4 0h1m3 0h1m3 0h1m10 0h1m16 0h1m5 0h1m13 0h1m5 0h1m10 0h1m4 0h1m1 0h1m33 0h1m22 0h1m7 0h1m6 0h2m10 0h1m11 0h1m3 0h1M144 302h1m14 0h1m19 0h1m11 0h1m7 0h1m3 0h2m28 0h2m4 0h1m6 0h1m35 0h1m14 0h1m20 0h1m17 0h1m3 0h1m10 0h1m17 0h1m2 0h1m12 0h1m18 0h1m20 0h1m1 0h1m13 0h1M150 303h1m3 0h1m9 0h1m1 0h1m18 0h1m6 0h1m8 0h1m5 0h1m14 0h1m12 0h1m13 0h1m2 0h1m24 0h1m2 0h1m41 0h1m5 0h1m8 0h1m5 0h1m5 0h1m31 0h1m7 0h1m1 0h2m31 0h1m5 0h1m5 0h2M137 304h1m5 0h1m1 0h1m12 0h1m35 0h1m3 0h1m5 0h1m13 0h2m12 0h2m2 0h1m3 0h1m14 0h1m4 0h1m26 0h1m3 0h1m32 0h1m7 0h1m16 0h1m4 0h1m4 0h1m6 0h1m39 0h1m5 0h1M140 305h1m4 0h1m3 0h1m14 0h1m24 0h1m39 0h1m7 0h1m2 0h1m3 0h1m7 0h1m22 0h1m11 0h1m15 0h1m7 0h1m48 0h1m1 0h1m5 0h1m1 0h1m9 0h1m1 0h1m39 0h1m19 0h1M136 306h1m28 0h1m5 0h1m35 0h1m3 0h1m2 0h1m6 0h1m12 0h1m12 0h1m24 0h1m12 0h1m4 0h1m41 0h1m1 0h1m1 0h1m1 0h1m6 0h1m2 0h1m1 0h2m7 0h1m13 0h1m22 0h1m5 0h1m5 0h1m4 0h1m2 0h1m4 0h1m4 0h1m6 0h1m4 0h1m2 0h1M136 307h1m7 0h1m1 0h2m3 0h1m2 0h1m5 0h1m2 0h1m1 0h1m10 0h1m7 0h1m1 0h1m2 0h2m34 0h1m6 0h1m7 0h1m22 0h1m3 0h1m5 0h1m3 0h1m14 0h1m16 0h1m2 0h1m20 0h1m7 0h1m17 0h1m1 0h1m13 0h1m25 0h1m2 0h1m3 0h1m4 0h1m6 0h1m16 0h1M149 308h1m4 0h1m26 0h1m6 0h1m13 0h1m4 0h1m4 0h1m4 0h1m21 0h1m4 0h1m16 0h1m4 0h1m15 0h1m7 0h1m3 0h1m18 0h1m22 0h1m3 0h1m25 0h2m5 0h2m28 0h1m7 0h1m6 0h1M134 309h1m1 0h1m12 0h2m6 0h1m8 0h1m10 0h1m10 0h1m5 0h1m14 0h1m7 0h1m3 0h1m7 0h1m15 0h1m14 0h1m3 0h1m5 0h1m29 0h2m4 0h1m4 0h1m14 0h1m20 0h1m7 0h1m4 0h1m13 0h1m10 0h1m3 0h1m4 0h1m4 0h1m1 0h1m22 0h1m1 0h1M143 310h1m31 0h2m14 0h1m8 0h2m32 0h1m3 0h2m20 0h1m7 0h1m9 0h2m41 0h1m4 0h1m10 0h1m2 0h1m23 0h1m2 0h1m5 0h1m1 0h1m8 0h1m1 0h1m9 0h1m8 0h1m3 0h1m2 0h1m4 0h1m11 0h1m14 0h1M142 311h1m3 0h1m6 0h1m6 0h1m1 0h1m5 0h1m5 0h3m12 0h1m2 0h1m1 0h1m5 0h1m1 0h1m10 0h1m37 0h1m1 0h1m11 0h1m1 0h1m3 0h1m27 0h1m11 0h1m6 0h1m9 0h1m10 0h1m5 0h2m1 0h1m8 0h1m12 0h1m9 0h1m22 0h1m5 0h1m1 0h1m2 0h1m8 0h1m5 0h1m4 0h1m3 0h1m1 0h1M147 312h1m17 0h1m3 0h1m24 0h1m1 0h1m2 0h1m10 0h1m7 0h1m30 0h1m4 0h1m3 0h2m6 0h2m5 0h1m3 0h1m14 0h1m7 0h1m12 0h1m6 0h1m9 0h1m4 0h1m11 0h1m20 0h1m7 0h2m2 0h1m9 0h1m27 0h1m7 0h2m5 0h1M141 313h1m25 0h1m11 0h1m13 0h1m3 0h2m24 0h1m6 0h1m4 0h1m5 0h1m2 0h1m2 0h1m1 0h1m1 0h1m4 0h1m1 0h1m6 0h1m3 0h1m4 0h1m2 0h1m6 0h1m24 0h1m2 0h1m10 0h1m12 0h2m2 0h1m25 0h1m11 0h1m9 0h1m2 0h1m7 0h1m7 0h1m7 0h1M149 314h1m9 0h1m13 0h1m5 0h1m20 0h1m1 0h1m10 0h1m19 0h1m7 0h1m1 0h1m6 0h1m10 0h1m1 0h1m15 0h1m16 0h1m5 0h1m8 0h1m21 0h1m1 0h1m2 0h1m1 0h1m1 0h1m13 0h1m19 0h1m16 0h1m4 0h1m17 0h1m7 0h1m14 0h1m2 0h1M145 315h1m3 0h2m24 0h1m3 0h1m14 0h1m8 0h1m28 0h1m15 0h1m4 0h2m2 0h1m2 0h1m3 0h1m2 0h2m23 0h3m5 0h1m4 0h1m6 0h1m3 0h1m4 0h1m1 0h1m21 0h1m1 0h1m2 0h1m6 0h1m8 0h1m3 0h2m13 0h2m6 0h1m9 0h1m11 0h1m7 0h1m1 0h1m5 0h1M133 316h1m16 0h1m5 0h1m6 0h1m9 0h1m18 0h2m2 0h2m5 0h2m21 0h1m5 0h1m2 0h1m4 0h1m11 0h1m4 0h1m2 0h1m3 0h1m5 0h1m4 0h1m32 0h1m2 0h1m7 0h2m17 0h1m2 0h1m7 0h1m25 0h1m2 0h1m5 0h1m6 0h1m4 0h1m3 0h1m6 0h1m3 0h2m1 0h1m1 0h1m4 0h1m21 0h1M137 317h1m9 0h1m9 0h1m1 0h1m31 0h1m16 0h1m3 0h1m12 0h2m5 0h1m5 0h1m8 0h1m15 0h1m3 0h1m21 0h1m35 0h1m3 0h1m7 0h1m10 0h2m20 0h1m2 0h1m22 0h1m3 0h1m3 0h1m18 0h2m1 0h1m4 0h2m2 0h3m1 0h1m1 0h1m1 0h1M134 318h1m5 0h1m7 0h1m17 0h1m1 0h1m16 0h1m31 0h1m8 0h1m2 0h1m2 0h1m1 0h1m9 0h2m13 0h1m5 0h1m25 0h1m11 0h1m1 0h1m8 0h2m1 0h1m1 0h1m9 0h1m1 0h1m3 0h1m14 0h1m5 0h1m10 0h1m40 0h1m1 0h1m10 0h1m2 0h1m16 0h1M146 319h1m6 0h1m2 0h1m1 0h1m1 0h1m6 0h1m4 0h1m12 0h1m11 0h1m16 0h1m2 0h1m5 0h2m7 0h1m6 0h1m7 0h1m12 0h1m5 0h1m15 0h1m41 0h1m2 0h1m36 0h2m15 0h1m11 0h1m1 0h1m5 0h2m19 0h1m4 0h1m12 0h1M135 320h1m7 0h1m3 0h1m3 0h1m9 0h1m1 0h1m11 0h1m4 0h1m19 0h2m4 0h1m4 0h1m1 0h1m1 0h1m2 0h1m5 0h3m1 0h1m5 0h1m7 0h1m7 0h2m3 0h1m4 0h1m8 0h1m16 0h1m12 0h1m7 0h1m2 0h1m2 0h1m15 0h1m3 0h1m1 0h1m3 0h1m8 0h1m19 0h1m4 0h1m4 0h1m4 0h1m34 0h1m3 0h1m4 0h1m3 0h1m1 0h1m6 0h2m2 0h1M136 321h1m4 0h1m3 0h1m1 0h1m8 0h1m6 0h1m2 0h1m9 0h1m3 0h1m14 0h2m3 0h1m29 0h1m2 0h1m8 0h1m6 0h1m8 0h1m10 0h1m3 0h1m12 0h1m2 0h2m12 0h1m1 0h1m4 0h1m10 0h1m2 0h1m5 0h1m15 0h1m2 0h1m7 0h2m27 0h1m2 0h2m6 0h1m5 0h1m1 0h1m18 0h1m7 0h1m1 0h1m2 0h1M133 322h1m4 0h1m1 0h1m3 0h1m8 0h1m13 0h1m20 0h1m5 0h1m1 0h2m3 0h2m5 0h2m2 0h1m4 0h1m5 0h1m6 0h1m1 0h1m5 0h1m4 0h1m19 0h1m3 0h1m17 0h2m39 0h1m30 0h2m3 0h1m11 0h1m7 0h1m6 0h1m2 0h1m5 0h1m11 0h1m5 0h1m3 0h1m18 0h1m1 0h1M145 323h1m2 0h1m4 0h1m1 0h1m3 0h1m1 0h1m7 0h1m4 0h1m8 0h1m1 0h1m5 0h1m8 0h1m4 0h1m1 0h1m2 0h1m2 0h1m3 0h1m14 0h1m44 0h1m1 0h1m10 0h1m5 0h2m16 0h1m8 0h1m4 0h1m2 0h1m4 0h1m7 0h1m1 0h1m5 0h1m15 0h1m4 0h1m1 0h1m10 0h1m1 0h1m14 0h1m5 0h1m12 0h1m3 0h1m9 0h1m7 0h1M133 324h1m1 0h1m1 0h1m6 0h1m3 0h2m2 0h2m2 0h1m1 0h1m4 0h1m14 0h1m13 0h1m27 0h2m1 0h1m26 0h1m7 0h1m7 0h2m1 0h1m4 0h1m16 0h1m6 0h1m1 0h1m13 0h1m7 0h1m1 0h2m10 0h1m2 0h1m8 0h1m1 0h1m1 0h1m3 0h1m2 0h1m13 0h1m2 0h1m5 0h1m23 0h1m5 0h4m8 0h1m10 0h2m4 0h2M159 325h1m31 0h1m1 0h1m16 0h1m5 0h1m25 0h1m6 0h1m18 0h1m2 0h1m6 0h1m12 0h2m7 0h1m4 0h1m6 0h2m1 0h2m6 0h2m8 0h2m10 0h1m3 0h2m3 0h2m9 0h1m4 0h2m8 0h1m23 0h1m7 0h1m13 0h1m1 0h1m10 0h1m1 0h1M136 326h1m5 0h1m5 0h2m2 0h1m3 0h2m10 0h1m2 0h1m3 0h1m12 0h1m9 0h1m3 0h1m4 0h1m12 0h1m10 0h1m17 0h1m12 0h2m15 0h1m2 0h1m48 0h1m7 0h1m13 0h1m5 0h1m11 0h1m2 0h1m7 0h1m7 0h1m3 0h2m1 0h1m3 0h2m1 0h1m2 0h1m5 0h1m3 0h1m7 0h1m6 0h2m5 0h1m1 0h1m1 0h1M137 327h1m3 0h1m3 0h2m6 0h1m1 0h1m2 0h1m2 0h1m1 0h1m6 0h1m19 0h1m4 0h1m5 0h1m1 0h1m5 0h1m18 0h1m1 0h1m4 0h1m17 0h1m19 0h1m4 0h1m2 0h1m1 0h1m5 0h1m2 0h1m10 0h1m3 0h2m8 0h1m4 0h2m6 0h1m10 0h1m3 0h1m5 0h1m3 0h1m5 0h1m3 0h2m6 0h1m15 0h1m5 0h1m6 0h1m3 0h1m10 0h1m1 0h1m5 0h1m5 0h1m5 0h1m1 0h3M141 328h1m4 0h1m7 0h1m2 0h1m3 0h2m4 0h1m2 0h1m5 0h2m11 0h1m3 0h1m5 0h1m3 0h1m5 0h3m2 0h1m5 0h1m8 0h1m1 0h1m7 0h1m12 0h1m1 0h2m1 0h1m1 0h1m4 0h1m4 0h1m10 0h1m2 0h1m12 0h1m9 0h1m2 0h1m7 0h1m4 0h2m35 0h1m7 0h1m2 0h1m3 0h1m17 0h2m3 0h2m7 0h1m14 0h1M133 329h1m1 0h2m8 0h1m9 0h2m8 0h1m4 0h1m5 0h1m28 0h1m2 0h2m2 0h1m6 0h2m8 0h1m4 0h1m7 0h1m5 0h2m4 0h1m19 0h1m6 0h1m10 0h1m2 0h1m29 0h1m3 0h1m3 0h1m3 0h1m9 0h1m4 0h1m10 0h1m2 0h3m3 0h1m3 0h2m20 0h1m4 0h1m1 0h2m3 0h2m14 0h2m3 0h1m1 0h1m6 0h1M133 330h2m5 0h1m1 0h1m7 0h1m3 0h1m8 0h1m2 0h1m3 0h1m10 0h1m1 0h1m10 0h1m1 0h1m4 0h1m3 0h1m3 0h1m9 0h3m8 0h1m2 0h1m6 0h2m2 0h1m4 0h1m11 0h1m1 0h1m1 0h1m2 0h1m3 0h1m15 0h3m10 0h1m4 0h1m5 0h1m2 0h1m9 0h1m12 0h1m3 0h1m6 0h1m7 0h1m26 0h1m10 0h1m3 0h1m5 0h1m4 0h1m6 0h1m1 0h1m3 0h1m9 0h2M140 331h1m14 0h1m4 0h1m1 0h1m4 0h1m1 0h1m7 0h1m1 0h1m3 0h1m9 0h1m1 0h1m14 0h1m2 0h1m10 0h1m5 0h1m2 0h1m14 0h1m7 0h1m14 0h1m9 0h2m1 0h1m2 0h1m7 0h1m10 0h1m1 0h1m2 0h1m2 0h1m1 0h1m2 0h1m5 0h1m7 0h1m7 0h1m3 0h1m4 0h1m8 0h1m4 0h2m9 0h1m4 0h1m3 0h1m4 0h2m2 0h2m16 0h1m13 0h1m6 0h2m3 0h1m2 0h2m1 0h2M138 332h2m1 0h1m1 0h1m5 0h1m5 0h1m4 0h1m4 0h1m12 0h1m11 0h1m1 0h1m7 0h2m1 0h1m1 0h1m1 0h1m2 0h1m7 0h1m10 0h1m8 0h1m3 0h1m3 0h2m4 0h1m1 0h1m4 0h1m5 0h1m2 0h1m1 0h1m2 0h1m8 0h1m6 0h2m5 0h1m5 0h2m36 0h1m3 0h1m8 0h3m14 0h1m2 0h1m11 0h2m6 0h2m1 0h1m1 0h1m1 0h1m6 0h1m4 0h2m4 0h1m3 0h1m3 0h1m2 0h1m2 0h4M147 333h1m2 0h1m8 0h1m7 0h1m3 0h1m8 0h2m4 0h1m9 0h1m8 0h1m1 0h1m1 0h1m3 0h4m1 0h1m3 0h1m3 0h1m1 0h1m5 0h1m1 0h1m1 0h1m10 0h1m1 0h1m2 0h1m3 0h1m5 0h1m1 0h1m5 0h1m1 0h1m1 0h1m13 0h2m6 0h2m5 0h2m2 0h1m26 0h1m22 0h1m4 0h1m13 0h1m1 0h1m3 0h1m2 0h1m8 0h2m2 0h1m7 0h1m4 0h1m1 0h1m9 0h1m6 0h3m2 0h1m1 0h1M139 334h1m3 0h1m7 0h1m3 0h1m1 0h2m2 0h2m1 0h1m4 0h1m5 0h1m1 0h1m5 0h1m4 0h1m1 0h1m13 0h2m9 0h1m1 0h1m2 0h1m5 0h1m3 0h1m5 0h1m1 0h1m1 0h1m2 0h1m6 0h1m9 0h1m4 0h1m26 0h1m3 0h1m2 0h1m2 0h1m1 0h1m8 0h1m5 0h1m18 0h2m11 0h2m2 0h1m7 0h1m1 0h1m2 0h1m2 0h1m4 0h1m2 0h1m9 0h1m3 0h1m2 0h1m1 0h1m14 0h1m2 0h1m3 0h1m1 0h1m7 0h1m4 0h2m5 0h1M138 335h1m4 0h1m3 0h1m4 0h1m2 0h1m2 0h1m3 0h1m2 0h2m2 0h1m3 0h1m7 0h1m1 0h1m4 0h1m2 0h1m1 0h1m5 0h1m3 0h1m3 0h1m6 0h1m24 0h1m4 0h1m5 0h1m15 0h1m5 0h1m2 0h1m7 0h1m9 0h1m4 0h1m1 0h1m7 0h1m7 0h1m1 0h1m1 0h1m3 0h1m1 0h1m6 0h1m1 0h1m18 0h1m7 0h1m6 0h2m2 0h1m11 0h1m1 0h1m4 0h1m9 0h1m1 0h1m12 0h1m2 0h1m10 0h1m4 0h1m1 0h1M135 336h1m2 0h1m9 0h2m5 0h1m2 0h1m5 0h1m3 0h1m4 0h2m1 0h1m4 0h2m4 0h2m10 0h1m2 0h1m2 0h1m1 0h1m7 0h1m12 0h1m1 0h1m1 0h2m8 0h1m1 0h1m4 0h1m9 0h1m4 0h1m14 0h1m5 0h1m5 0h1m1 0h1m5 0h1m3 0h2m1 0h2m3 0h1m9 0h1m2 0h1m1 0h1m8 0h1m1 0h1m5 0h1m8 0h1m23 0h2m3 0h1m1 0h1m10 0h1m4 0h1m4 0h2m5 0h1m6 0h2m3 0h1m1 0h1m14 0h1m1 0h1M133 337h1m1 0h1m9 0h1m2 0h2m7 0h1m1 0h2m6 0h1m5 0h1m1 0h1m2 0h1m3 0h1m2 0h1m2 0h1m5 0h1m2 0h1m1 0h2m4 0h1m6 0h3m6 0h1m1 0h1m7 0h2m10 0h1m8 0h1m4 0h1m5 0h3m5 0h1m1 0h1m13 0h1m1 0h1m6 0h1m4 0h1m5 0h1m4 0h2m6 0h1m4 0h2m5 0h1m4 0h1m2 0h1m1 0h1m2 0h1m1 0h1m4 0h1m4 0h1m2 0h1m2 0h1m6 0h1m10 0h1m3 0h1m4 0h2m3 0h1m4 0h1m1 0h2m2 0h1m12 0h1m5 0h1m4 0h1m3 0h1m4 0h1m1 0h1M137 338h1m4 0h1m1 0h2m1 0h1m6 0h1m4 0h4m1 0h1m6 0h1m10 0h1m5 0h1m3 0h3m2 0h1m3 0h1m11 0h1m2 0h1m1 0h1m7 0h1m9 0h1m6 0h1m2 0h1m2 0h1m1 0h1m3 0h1m1 0h1m5 0h1m2 0h1m9 0h1m8 0h1m1 0h1m7 0h1m3 0h1m11 0h1m2 0h2m10 0h1m1 0h1m1 0h2m3 0h1m6 0h3m4 0h1m4 0h1m9 0h1m2 0h1m5 0h1m1 0h2m2 0h1m7 0h1m18 0h1m10 0h1m1 0h3m1 0h1m8 0h1m4 0h1m4 0h1m1 0h1M136 339h1m1 0h2m4 0h1m9 0h1m9 0h2m1 0h2m1 0h1m1 0h3m2 0h1m5 0h1m11 0h1m4 0h1m3 0h1m3 0h1m1 0h1m3 0h2m2 0h1m2 0h1m4 0h1m2 0h1m14 0h1m3 0h1m3 0h1m4 0h1m1 0h3m13 0h1m4 0h1m6 0h1m1 0h1m10 0h1m5 0h1m11 0h1m4 0h2m1 0h1m4 0h1m6 0h1m1 0h1m3 0h1m1 0h1m2 0h1m3 0h1m1 0h1m4 0h3m1 0h1m8 0h1m1 0h1m2 0h1m6 0h1m5 0h1m1 0h1m1 0h1m8 0h3m3 0h1m12 0h1m4 0h1m7 0h1m4 0h1m2 0h1M134 340h1m2 0h1m8 0h1m5 0h1m13 0h1m5 0h1m2 0h3m1 0h1m1 0h1m1 0h1m1 0h2m3 0h1m13 0h1m3 0h1m7 0h1m1 0h2m3 0h1m1 0h1m12 0h1m1 0h2m4 0h1m1 0h1m3 0h1m4 0h1m1 0h1m1 0h2m5 0h1m2 0h1m1 0h1m2 0h1m6 0h1m6 0h1m2 0h1m2 0h1m10 0h1m2 0h1m3 0h1m1 0h2m27 0h2m9 0h1m1 0h2m7 0h1m2 0h1m5 0h1m5 0h1m6 0h1m1 0h1m4 0h1m6 0h1m5 0h1m2 0h2m3 0h1m14 0h1m2 0h1m3 0h2m3 0h1M133 341h1m5 0h1m3 0h1m3 0h1m1 0h5m10 0h3m3 0h1m3 0h2m7 0h1m2 0h1m8 0h2m2 0h1m8 0h1m2 0h2m1 0h1m8 0h1m2 0h2m13 0h3m1 0h1m5 0h1m4 0h1m10 0h1m7 0h3m7 0h2m1 0h1m6 0h2m3 0h2m3 0h1m1 0h2m3 0h1m8 0h2m3 0h1m1 0h1m4 0h2m1 0h2m5 0h1m3 0h1m2 0h1m10 0h4m1 0h1m4 0h1m9 0h1m8 0h1m1 0h2m9 0h1m7 0h1m2 0h2m2 0h1m8 0h1m6 0h3m2 0h1m1 0h1M137 342h2m9 0h1m3 0h1m2 0h1m6 0h2m1 0h1m5 0h1m3 0h1m2 0h1m1 0h2m1 0h1m2 0h1m3 0h2m3 0h1m4 0h1m1 0h1m4 0h1m3 0h2m11 0h1m5 0h1m2 0h1m3 0h4m3 0h1m6 0h1m2 0h1m8 0h1m1 0h1m4 0h3m6 0h1m4 0h3m4 0h1m6 0h2m3 0h1m2 0h2m12 0h2m3 0h1m4 0h3m5 0h1m1 0h1m1 0h1m1 0h3m2 0h1m2 0h1m1 0h1m6 0h2m1 0h1m4 0h2m2 0h1m8 0h1m1 0h3m9 0h1m3 0h1m4 0h1m1 0h1m12 0h1m2 0h1m2 0h1m2 0h1m1 0h1m1 0h1m3 0h1m6 0h1M133 343h1m2 0h1m1 0h2m1 0h2m4 0h1m9 0h2m3 0h1m8 0h1m2 0h1m2 0h1m1 0h2m1 0h2m9 0h1m3 0h1m2 0h1m3 0h1m1 0h2m1 0h1m3 0h1m1 0h1m9 0h2m3 0h1m3 0h1m3 0h2m1 0h1m2 0h1m1 0h1m2 0h1m1 0h1m5 0h2m2 0h1m3 0h1m1 0h1m2 0h1m2 0h1m1 0h1m1 0h2m3 0h1m2 0h1m1 0h1m5 0h1m1 0h2m1 0h1m2 0h1m4 0h1m2 0h1m1 0h1m4 0h2m1 0h1m1 0h1m1 0h1m1 0h1m6 0h1m2 0h1m1 0h2m3 0h1m4 0h1m1 0h2m7 0h1m2 0h1m1 0h4m8 0h2m5 0h1m5 0h1m8 0h2m1 0h2m8 0h3m1 0h2m5 0h1m2 0h1m2 0h1m4 0h2m5 0h1M134 344h2m1 0h1m7 0h1m3 0h1m3 0h1m4 0h2m4 0h1m2 0h1m4 0h1m1 0h1m7 0h1m2 0h2m1 0h1m3 0h1m1 0h1m3 0h1m2 0h1m2 0h1m1 0h1m1 0h1m1 0h1m3 0h3m1 0h2m1 0h1m1 0h1m1 0h1m3 0h1m12 0h1m2 0h1m1 0h1m4 0h1m5 0h1m5 0h1m4 0h2m1 0h1m5 0h2m1 0h1m8 0h1m6 0h1m2 0h2m1 0h1m3 0h1m4 0h1m5 0h1m2 0h1m1 0h1m6 0h2m5 0h1m1 0h1m1 0h1m1 0h1m3 0h1m1 0h1m6 0h1m1 0h1m6 0h4m2 0h1m4 0h1m5 0h1m2 0h1m2 0h2m3 0h1m1 0h1m2 0h1m3 0h2m1 0h1m3 0h2m1 0h2m3 0h1m1 0h2m1 0h1m6 0h1m1 0h1m2 0h1m2 0h1m1 0h1m1 0h1M134 345h2m3 0h1m7 0h1m3 0h2m2 0h1m5 0h2m6 0h2m1 0h2m1 0h1m1 0h2m1 0h1m10 0h1m14 0h1m1 0h1m9 0h1m1 0h1m3 0h1m1 0h2m2 0h1m20 0h1m4 0h1m3 0h1m1 0h1m2 0h1m1 0h1m2 0h2m2 0h1m2 0h2m1 0h1m4 0h1m9 0h3m1 0h2m6 0h1m1 0h1m3 0h1m1 0h1m3 0h2m3 0h1m1 0h1m1 0h1m1 0h1m2 0h1m3 0h1m4 0h1m1 0h1m3 0h1m3 0h1m1 0h1m1 0h1m2 0h1m4 0h1m1 0h4m2 0h1m5 0h1m3 0h1m3 0h1m1 0h1m3 0h2m4 0h1m5 0h1m5 0h1m1 0h1m6 0h2m4 0h2m1 0h1m1 0h1m9 0h1m1 0h1M135 346h1m3 0h1m4 0h2m1 0h3m4 0h1m1 0h1m11 0h1m2 0h2m1 0h1m2 0h2m2 0h1m3 0h1m1 0h1m3 0h1m3 0h2m4 0h2m2 0h1m3 0h1m3 0h2m2 0h1m5 0h2m2 0h1m1 0h1m2 0h1m4 0h1m4 0h1m4 0h1m7 0h1m1 0h1m8 0h1m3 0h1m16 0h1m2 0h1m3 0h1m2 0h1m1 0h1m1 0h1m1 0h1m2 0h1m3 0h1m3 0h2m3 0h1m5 0h2m2 0h1m6 0h1m3 0h1m1 0h3m1 0h1m2 0h1m2 0h2m1 0h1m1 0h1m1 0h2m7 0h1m7 0h1m5 0h1m3 0h1m10 0h1m4 0h1m2 0h2m5 0h1m5 0h1m4 0h1m3 0h1m5 0h1m1 0h1m1 0h1m5 0h2M133 347h1m3 0h1m1 0h2m1 0h1m2 0h2m5 0h2m4 0h1m1 0h1m3 0h1m2 0h2m1 0h2m5 0h1m1 0h1m8 0h2m3 0h2m6 0h1m4 0h3m1 0h2m3 0h2m1 0h2m1 0h4m3 0h1m2 0h2m10 0h3m2 0h2m2 0h1m2 0h2m2 0h2m4 0h1m3 0h1m2 0h3m3 0h3m8 0h1m2 0h1m1 0h1m1 0h1m1 0h4m13 0h2m2 0h1m1 0h1m2 0h1m1 0h1m7 0h1m1 0h1m3 0h1m2 0h1m1 0h1m2 0h2m5 0h3m5 0h1m1 0h1m13 0h2m2 0h2m6 0h1m1 0h2m1 0h3m5 0h1m1 0h1m1 0h1m2 0h1m1 0h1m3 0h5m2 0h2M139 348h1m3 0h1m1 0h2m4 0h1m1 0h2m2 0h1m4 0h2m1 0h2m1 0h1m4 0h2m1 0h1m3 0h1m1 0h3m2 0h3m1 0h1m3 0h2m4 0h2m2 0h1m1 0h1m1 0h1m1 0h1m1 0h1m2 0h1m1 0h1m2 0h2m2 0h1m4 0h1m10 0h1m5 0h1m5 0h1m6 0h2m5 0h1m1 0h1m1 0h1m1 0h1m1 0h1m5 0h2m7 0h3m2 0h1m2 0h1m1 0h2m2 0h4m2 0h1m1 0h1m1 0h2m1 0h1m6 0h3m2 0h2m8 0h1m1 0h1m1 0h1m2 0h1m1 0h6m2 0h2m4 0h5m1 0h1m1 0h1m1 0h6m3 0h1m4 0h1m2 0h2m1 0h2m2 0h1m4 0h3m1 0h2m2 0h1m1 0h1m2 0h1m4 0h1m2 0h1m10 0h1m1 0h1m1 0h2m3 0h1M133 349h1m3 0h2m1 0h1m4 0h1m1 0h1m1 0h1m5 0h1m2 0h1m1 0h2m4 0h1m3 0h1m1 0h2m1 0h1m7 0h1m3 0h2m2 0h1m1 0h1m1 0h1m7 0h1m1 0h1m1 0h2m2 0h1m6 0h1m3 0h1m3 0h1m3 0h1m4 0h1m10 0h1m1 0h3m9 0h1m6 0h2m3 0h1m2 0h2m8 0h1m3 0h2m1 0h1m2 0h1m2 0h4m2 0h1m3 0h2m4 0h2m4 0h2m7 0h1m4 0h2m1 0h1m3 0h2m2 0h1m3 0h3m2 0h1m1 0h2m2 0h4m1 0h1m3 0h1m1 0h2m1 0h1m2 0h1m2 0h1m1 0h1m6 0h1m6 0h1m1 0h1m10 0h1m2 0h1m2 0h4m1 0h1m6 0h5m3 0h2m2 0h2m3 0h1M134 350h1m2 0h1m12 0h3m1 0h2m1 0h1m1 0h3m1 0h2m5 0h1m5 0h1m1 0h3m7 0h2m5 0h2m8 0h1m1 0h1m3 0h1m1 0h2m3 0h1m4 0h1m4 0h1m7 0h2m5 0h1m5 0h1m5 0h1m1 0h2m3 0h1m16 0h1m1 0h1m4 0h2m9 0h2m7 0h1m1 0h1m4 0h3m1 0h1m3 0h1m2 0h2m5 0h2m2 0h2m1 0h2m16 0h2m1 0h1m1 0h1m3 0h2m4 0h3m1 0h2m3 0h1m6 0h1m1 0h1m1 0h2m3 0h1m5 0h3m1 0h3m6 0h4m6 0h1m4 0h1m2 0h1m1 0h1m4 0h1m1 0h1m1 0h1M144 351h1m2 0h1m1 0h1m1 0h1m1 0h1m1 0h2m3 0h1m3 0h1m1 0h1m3 0h1m1 0h1m1 0h1m2 0h2m1 0h2m3 0h5m1 0h3m6 0h1m5 0h2m1 0h1m2 0h2m3 0h1m3 0h1m4 0h2m3 0h2m3 0h1m1 0h1m1 0h4m1 0h1m2 0h1m3 0h1m1 0h3m1 0h1m2 0h3m1 0h2m3 0h2m2 0h1m1 0h6m2 0h3m3 0h1m5 0h1m1 0h1m2 0h3m2 0h1m4 0h1m3 0h1m2 0h3m3 0h1m5 0h2m1 0h2m1 0h1m1 0h1m6 0h1m1 0h1m10 0h2m3 0h1m1 0h1m1 0h2m1 0h2m2 0h1m4 0h1m1 0h1m2 0h3m1 0h1m1 0h1m2 0h1m1 0h3m2 0h1m5 0h1m9 0h2m1 0h1m3 0h1m3 0h1m6 0h2m4 0h1m2 0h1M133 352h1m2 0h1m1 0h1m5 0h1m1 0h2m1 0h1m1 0h2m4 0h2m2 0h4m2 0h2m1 0h2m1 0h1m2 0h1m1 0h3m4 0h1m1 0h1m2 0h2m8 0h1m3 0h1m5 0h1m4 0h1m4 0h2m1 0h2m1 0h1m1 0h2m2 0h1m5 0h1m1 0h3m2 0h2m1 0h1m3 0h1m8 0h1m3 0h2m2 0h3m3 0h1m6 0h1m1 0h3m2 0h1m1 0h1m3 0h1m1 0h1m1 0h1m3 0h1m1 0h1m4 0h1m2 0h1m3 0h1m2 0h1m2 0h2m2 0h1m2 0h1m2 0h2m4 0h1m1 0h3m2 0h1m1 0h1m2 0h1m2 0h1m1 0h1m2 0h1m1 0h1m2 0h1m6 0h1m5 0h1m2 0h4m4 0h6m1 0h1m1 0h3m1 0h2m4 0h1m1 0h2m7 0h1m1 0h1m7 0h1m1 0h1m1 0h1m6 0h1M135 353h2m3 0h3m1 0h1m2 0h3m1 0h3m6 0h2m2 0h2m3 0h3m1 0h1m6 0h1m4 0h1m1 0h1m2 0h1m1 0h3m1 0h1m2 0h2m3 0h1m2 0h5m3 0h1m2 0h1m1 0h1m3 0h1m3 0h1m4 0h1m4 0h1m3 0h4m1 0h2m2 0h5m3 0h1m2 0h1m1 0h1m5 0h1m5 0h1m2 0h2m3 0h1m3 0h1m1 0h3m11 0h2m1 0h1m1 0h2m3 0h1m2 0h3m2 0h1m4 0h1m2 0h1m3 0h1m4 0h1m2 0h1m1 0h1m1 0h1m3 0h2m6 0h4m1 0h2m3 0h1m3 0h2m4 0h1m3 0h4m3 0h3m1 0h1m4 0h1m4 0h1m1 0h2m5 0h3m1 0h1m6 0h1m2 0h3m6 0h2m4 0h2m1 0h1M133 354h2m1 0h1m1 0h1m6 0h2m1 0h3m1 0h2m3 0h1m1 0h1m1 0h1m8 0h1m1 0h2m2 0h1m1 0h1m2 0h2m3 0h1m1 0h1m1 0h1m2 0h2m3 0h3m4 0h1m4 0h3m2 0h1m2 0h1m1 0h2m1 0h1m7 0h1m3 0h1m1 0h1m3 0h4m2 0h1m5 0h1m2 0h1m3 0h1m2 0h1m1 0h2m1 0h2m5 0h1m2 0h1m1 0h1m1 0h1m2 0h1m1 0h1m1 0h2m3 0h4m1 0h2m5 0h2m1 0h1m2 0h2m1 0h1m1 0h1m5 0h1m1 0h1m2 0h1m1 0h2m1 0h1m5 0h2m1 0h1m14 0h1m1 0h1m2 0h1m1 0h2m3 0h1m1 0h1m1 0h1m8 0h4m2 0h5m4 0h1m1 0h1m2 0h1m5 0h1m3 0h7m3 0h2m1 0h1m3 0h3m6 0h1m2 0h2m1 0h1M133 355h2m2 0h3m2 0h1m4 0h1m2 0h1m1 0h1m1 0h1m1 0h2m1 0h2m1 0h2m2 0h1m7 0h1m2 0h1m1 0h1m1 0h3m1 0h4m2 0h1m2 0h2m2 0h4m1 0h1m1 0h1m8 0h1m2 0h2m2 0h1m8 0h1m8 0h1m10 0h1m2 0h1m1 0h3m6 0h2m2 0h1m2 0h1m3 0h1m2 0h2m3 0h1m1 0h1m2 0h1m1 0h1m6 0h1m2 0h2m1 0h1m3 0h2m1 0h4m2 0h2m1 0h3m3 0h4m1 0h4m3 0h1m1 0h1m7 0h2m6 0h4m1 0h1m3 0h1m1 0h1m3 0h2m1 0h2m3 0h1m2 0h3m2 0h5m2 0h1m1 0h1m2 0h1m1 0h1m1 0h3m1 0h3m1 0h4m3 0h1m2 0h1m1 0h1m1 0h2m2 0h1m1 0h1m1 0h2m5 0h3m1 0h1M134 356h2m5 0h1m1 0h3m3 0h1m4 0h1m2 0h4m1 0h3m1 0h1m6 0h1m1 0h5m1 0h1m3 0h1m3 0h2m1 0h1m2 0h1m2 0h4m3 0h1m5 0h1m2 0h4m1 0h1m8 0h2m1 0h1m2 0h1m1 0h3m2 0h2m4 0h2m1 0h2m1 0h1m2 0h4m1 0h1m1 0h2m2 0h1m1 0h1m2 0h1m2 0h1m1 0h1m1 0h8m1 0h3m2 0h2m1 0h1m3 0h1m3 0h1m1 0h5m1 0h2m1 0h1m2 0h3m5 0h1m2 0h1m1 0h1m1 0h4m3 0h2m4 0h1m2 0h2m3 0h1m5 0h5m14 0h1m2 0h2m1 0h1m8 0h1m1 0h1m3 0h2m3 0h1m3 0h2m3 0h1m2 0h4m7 0h1m2 0h2m1 0h2m3 0h2m1 0h1M133 357h2m4 0h1m1 0h1m1 0h5m1 0h1m2 0h2m4 0h1m4 0h2m1 0h2m1 0h3m1 0h4m2 0h1m2 0h1m1 0h1m3 0h1m3 0h1m1 0h1m5 0h1m1 0h2m2 0h1m3 0h1m3 0h4m4 0h1m3 0h1m1 0h1m1 0h2m1 0h2m2 0h1m1 0h1m1 0h1m1 0h1m3 0h1m3 0h3m6 0h1m1 0h5m1 0h3m1 0h1m2 0h1m1 0h2m2 0h1m2 0h1m1 0h2m4 0h1m3 0h3m4 0h2m1 0h3m1 0h2m1 0h3m2 0h1m1 0h3m3 0h1m2 0h1m3 0h2m1 0h3m3 0h1m2 0h2m2 0h1m1 0h1m3 0h2m2 0h1m2 0h2m1 0h2m6 0h2m3 0h2m3 0h1m1 0h2m1 0h1m1 0h1m1 0h1m1 0h1m2 0h2m2 0h1m1 0h5m4 0h1m1 0h2m1 0h1m3 0h1m1 0h1m3 0h2m1 0h1m1 0h1m1 0h2m5 0h2M133 358h3m1 0h1m3 0h4m1 0h1m3 0h1m3 0h2m1 0h2m1 0h1m1 0h2m3 0h1m3 0h3m5 0h2m1 0h1m1 0h1m1 0h1m3 0h1m2 0h1m4 0h1m2 0h5m2 0h3m4 0h1m3 0h1m2 0h1m3 0h8m1 0h2m3 0h1m1 0h2m1 0h1m1 0h2m2 0h3m1 0h2m4 0h2m2 0h1m2 0h3m1 0h2m3 0h1m1 0h1m1 0h1m4 0h2m2 0h3m1 0h1m2 0h1m4 0h2m1 0h3m1 0h1m4 0h4m1 0h1m2 0h1m1 0h4m1 0h1m2 0h1m1 0h1m1 0h2m1 0h4m5 0h2m7 0h1m2 0h1m2 0h1m1 0h1m5 0h1m1 0h2m1 0h6m1 0h3m1 0h1m5 0h1m2 0h2m1 0h3m2 0h1m1 0h1m1 0h1m2 0h3m1 0h1m2 0h3m1 0h1m1 0h2m1 0h2m1 0h1m3 0h3m1 0h1m3 0h1M135 359h1m1 0h1m1 0h3m1 0h1m6 0h1m1 0h3m6 0h2m1 0h1m2 0h1m6 0h1m4 0h1m12 0h1m1 0h3m1 0h1m3 0h1m1 0h2m1 0h4m1 0h4m4 0h1m2 0h1m6 0h4m2 0h4m1 0h2m1 0h1m2 0h1m2 0h5m11 0h3m1 0h1m1 0h1m1 0h1m2 0h2m1 0h1m2 0h1m4 0h1m1 0h3m6 0h1m3 0h3m5 0h1m4 0h1m1 0h5m3 0h1m1 0h1m1 0h2m1 0h1m2 0h2m5 0h1m1 0h3m1 0h3m1 0h3m2 0h3m3 0h1m3 0h2m2 0h1m2 0h2m1 0h1m1 0h3m1 0h1m1 0h7m9 0h2m1 0h3m1 0h1m1 0h3m1 0h1m4 0h1m1 0h1m1 0h2m2 0h1m1 0h2m1 0h1m1 0h2m2 0h2M133 360h1m2 0h1m4 0h4m2 0h1m3 0h2m1 0h3m2 0h3m1 0h3m1 0h1m1 0h2m1 0h1m1 0h1m1 0h1m1 0h1m1 0h1m1 0h3m3 0h3m1 0h1m1 0h2m3 0h1m3 0h1m1 0h1m2 0h1m2 0h1m5 0h1m2 0h1m2 0h1m1 0h1m1 0h2m1 0h1m3 0h2m1 0h6m1 0h1m3 0h2m1 0h2m4 0h1m2 0h1m1 0h1m4 0h1m3 0h2m4 0h1m1 0h1m3 0h3m1 0h1m2 0h1m2 0h8m1 0h3m1 0h1m1 0h1m1 0h2m4 0h2m2 0h1m1 0h5m3 0h1m2 0h1m1 0h3m1 0h2m4 0h3m2 0h2m1 0h2m3 0h2m1 0h4m2 0h1m1 0h7m2 0h1m1 0h2m1 0h2m1 0h1m3 0h1m2 0h1m2 0h2m1 0h2m2 0h1m4 0h3m1 0h1m1 0h1m1 0h2m1 0h1m3 0h1m7 0h1m1 0h2m1 0h2m1 0h2m1 0h3M133 361h2m1 0h6m1 0h1m2 0h2m1 0h7m1 0h1m3 0h5m1 0h1m1 0h1m2 0h2m1 0h2m1 0h2m2 0h1m1 0h5m3 0h3m6 0h1m1 0h3m1 0h1m1 0h1m1 0h1m3 0h4m3 0h4m4 0h1m1 0h1m2 0h4m1 0h2m1 0h1m3 0h4m3 0h1m1 0h1m2 0h1m2 0h3m1 0h3m1 0h5m4 0h4m3 0h1m1 0h1m2 0h3m2 0h1m3 0h1m1 0h1m1 0h4m2 0h5m1 0h5m2 0h2m3 0h1m1 0h6m1 0h1m1 0h1m5 0h1m1 0h3m4 0h1m1 0h2m1 0h4m3 0h2m1 0h1m3 0h1m1 0h1m1 0h2m1 0h2m6 0h2m3 0h1m4 0h1m2 0h3m1 0h2m1 0h1m7 0h3m1 0h3m1 0h3m2 0h1m2 0h2m2 0h2m1 0h6M133 362h4m3 0h4m1 0h2m2 0h6m3 0h1m3 0h5m2 0h1m2 0h1m1 0h4m1 0h4m1 0h4m2 0h1m3 0h4m1 0h2m2 0h6m1 0h1m1 0h1m2 0h3m1 0h2m2 0h1m1 0h1m1 0h3m1 0h3m3 0h1m3 0h1m7 0h3m4 0h4m1 0h3m3 0h1m2 0h6m3 0h4m1 0h3m1 0h1m1 0h2m3 0h1m2 0h4m2 0h2m6 0h1m1 0h1m2 0h1m8 0h2m2 0h2m1 0h1m2 0h1m1 0h2m2 0h4m1 0h2m2 0h1m2 0h3m1 0h2m2 0h1m1 0h1m2 0h1m3 0h1m2 0h6m1 0h1m1 0h1m1 0h1m1 0h1m2 0h1m2 0h1m2 0h2m1 0h3m2 0h1m3 0h2m1 0h1m1 0h5m3 0h2m2 0h8m5 0h1m3 0h1M133 363h6m3 0h1m2 0h1m1 0h2m1 0h3m1 0h3m6 0h12m2 0h1m1 0h1m2 0h2m2 0h3m3 0h2m1 0h3m3 0h1m1 0h2m1 0h2m4 0h2m1 0h1m1 0h4m1 0h3m1 0h2m5 0h2m2 0h2m4 0h1m1 0h1m2 0h4m1 0h4m1 0h2m1 0h1m1 0h6m2 0h1m2 0h3m1 0h1m1 0h1m1 0h1m2 0h7m1 0h1m1 0h1m3 0h1m2 0h2m2 0h1m2 0h1m1 0h1m1 0h2m1 0h1m1 0h2m1 0h4m1 0h4m1 0h2m3 0h1m1 0h5m2 0h3m1 0h1m1 0h2m1 0h4m1 0h3m5 0h1m1 0h1m1 0h1m1 0h5m1 0h1m5 0h2m1 0h4m1 0h1m1 0h1m4 0h1m3 0h2m2 0h3m5 0h1m2 0h2m1 0h3m3 0h1m2 0h3m1 0h1m1 0h2m5 0h1M133 364h2m2 0h7m1 0h1m2 0h1m6 0h2m2 0h2m1 0h2m1 0h4m1 0h1m2 0h2m2 0h1m1 0h2m3 0h2m2 0h1m2 0h1m3 0h1m1 0h3m4 0h1m1 0h1m1 0h2m1 0h1m1 0h1m4 0h1m1 0h1m2 0h1m2 0h4m1 0h1m1 0h1m1 0h1m3 0h1m5 0h1m1 0h1m1 0h5m1 0h5m1 0h2m2 0h2m2 0h5m2 0h1m1 0h2m2 0h3m1 0h2m3 0h3m1 0h1m1 0h1m1 0h1m4 0h1m4 0h1m2 0h1m5 0h1m1 0h1m2 0h1m6 0h5m1 0h2m2 0h1m1 0h2m1 0h2m2 0h1m2 0h1m1 0h2m1 0h1m2 0h3m1 0h1m5 0h2m1 0h2m4 0h1m2 0h2m3 0h1m4 0h6m1 0h1m1 0h2m1 0h7m3 0h1m2 0h2m4 0h1m1 0h4m1 0h1m3 0h2m1 0h2m2 0h1m1 0h2M133 365h1m2 0h1m2 0h4m3 0h3m2 0h2m1 0h1m1 0h2m2 0h1m1 0h2m1 0h3m2 0h3m1 0h2m1 0h1m1 0h2m1 0h3m1 0h2m2 0h2m1 0h1m1 0h1m3 0h2m1 0h6m3 0h2m4 0h1m3 0h2m1 0h2m2 0h1m2 0h2m1 0h1m1 0h3m1 0h1m3 0h3m2 0h5m1 0h1m3 0h4m1 0h3m2 0h1m1 0h1m3 0h2m6 0h1m5 0h2m3 0h3m1 0h5m1 0h3m1 0h2m2 0h1m1 0h1m4 0h1m2 0h2m1 0h3m1 0h5m2 0h1m5 0h1m1 0h1m8 0h2m1 0h1m1 0h4m2 0h4m2 0h4m2 0h1m2 0h1m1 0h6m1 0h4m1 0h1m2 0h2m1 0h1m1 0h2m2 0h2m2 0h5m1 0h1m4 0h5m1 0h3m1 0h2m1 0h1m2 0h1m1 0h2m1 0h2m1 0h1M136 366h1m1 0h1m3 0h3m2 0h2m1 0h9m1 0h4m1 0h3m1 0h1m2 0h2m3 0h1m1 0h1m4 0h1m1 0h5m1 0h2m3 0h1m1 0h4m2 0h1m4 0h1m8 0h1m3 0h1m1 0h6m1 0h2m1 0h1m1 0h4m1 0h4m1 0h4m1 0h2m3 0h1m3 0h3m1 0h1m1 0h4m2 0h3m1 0h1m2 0h5m1 0h1m1 0h1m2 0h2m1 0h1m2 0h6m1 0h4m1 0h1m2 0h1m1 0h1m1 0h1m2 0h1m1 0h1m1 0h4m1 0h1m1 0h5m2 0h2m3 0h3m1 0h2m2 0h1m1 0h1m1 0h3m1 0h1m2 0h2m1 0h4m1 0h1m2 0h1m2 0h1m1 0h2m2 0h1m2 0h1m1 0h2m2 0h5m1 0h2m1 0h5m1 0h2m1 0h1m1 0h2m1 0h2m1 0h3m4 0h1m4 0h3m1 0h2m4 0h2m3 0h2M133 367h6m1 0h2m4 0h2m1 0h1m1 0h1m5 0h4m3 0h1m2 0h1m1 0h3m1 0h2m1 0h1m1 0h3m2 0h5m6 0h2m1 0h2m1 0h4m1 0h3m1 0h3m1 0h1m1 0h1m2 0h1m1 0h1m5 0h2m2 0h9m1 0h1m3 0h5m4 0h4m3 0h1m3 0h3m1 0h1m1 0h1m1 0h2m2 0h3m2 0h2m2 0h1m2 0h1m2 0h2m3 0h5m1 0h2m2 0h3m2 0h5m1 0h1m1 0h1m1 0h3m2 0h1m1 0h3m2 0h3m1 0h1m1 0h2m3 0h3m1 0h1m2 0h1m2 0h1m2 0h5m1 0h5m1 0h2m2 0h4m2 0h1m2 0h1m1 0h1m1 0h1m1 0h2m1 0h1m2 0h5m5 0h4m2 0h2m1 0h1m2 0h1m1 0h3m1 0h2m1 0h2m1 0h3m4 0h5m1 0h2m1 0h1M133 368h5m1 0h1m3 0h3m2 0h2m1 0h3m1 0h1m1 0h2m1 0h1m4 0h3m3 0h1m3 0h3m1 0h3m3 0h3m1 0h1m1 0h4m4 0h1m1 0h9m2 0h1m1 0h2m2 0h1m6 0h3m1 0h3m1 0h1m1 0h1m1 0h5m3 0h1m1 0h2m1 0h2m1 0h1m7 0h1m3 0h3m1 0h1m3 0h1m1 0h1m2 0h1m1 0h3m4 0h1m4 0h2m5 0h1m1 0h1m5 0h3m2 0h1m3 0h2m1 0h2m1 0h1m3 0h3m1 0h8m3 0h6m3 0h2m2 0h2m1 0h3m2 0h1m1 0h3m1 0h1m2 0h6m1 0h1m5 0h1m2 0h3m1 0h1m1 0h1m1 0h2m1 0h2m1 0h2m2 0h1m1 0h2m1 0h1m1 0h2m2 0h5m2 0h2m1 0h1m2 0h1m1 0h2m2 0h1m1 0h1M133 369h1m1 0h8m1 0h5m6 0h1m1 0h2m2 0h2m3 0h1m1 0h1m2 0h2m1 0h3m2 0h3m1 0h2m1 0h1m1 0h4m1 0h1m3 0h1m1 0h2m1 0h1m2 0h3m2 0h2m1 0h1m1 0h2m4 0h1m2 0h2m3 0h1m1 0h1m1 0h5m1 0h3m1 0h1m1 0h1m5 0h1m1 0h6m2 0h1m2 0h1m1 0h1m5 0h1m1 0h1m5 0h2m3 0h1m2 0h2m2 0h1m1 0h2m2 0h3m4 0h1m3 0h1m3 0h2m1 0h3m1 0h1m2 0h1m1 0h1m4 0h2m1 0h1m2 0h2m3 0h1m2 0h2m1 0h2m1 0h1m1 0h1m1 0h3m1 0h1m1 0h1m1 0h2m1 0h4m7 0h2m9 0h1m4 0h1m2 0h2m3 0h1m1 0h2m4 0h1m2 0h2m2 0h6m2 0h2m3 0h1m5 0h5m3 0h2M133 370h1m2 0h2m2 0h3m1 0h4m3 0h1m2 0h5m4 0h5m3 0h1m6 0h1m3 0h6m4 0h2m1 0h1m1 0h1m3 0h3m2 0h4m1 0h2m1 0h4m1 0h1m4 0h3m1 0h4m2 0h2m4 0h3m1 0h1m3 0h1m4 0h1m1 0h1m1 0h2m1 0h1m3 0h1m3 0h2m2 0h8m1 0h4m3 0h3m1 0h4m4 0h1m2 0h1m3 0h1m1 0h2m1 0h1m1 0h1m2 0h1m1 0h5m1 0h1m1 0h1m1 0h1m3 0h1m2 0h2m1 0h1m7 0h1m2 0h1m1 0h5m1 0h2m1 0h1m1 0h1m2 0h1m1 0h2m1 0h2m2 0h2m1 0h1m1 0h6m1 0h1m2 0h2m2 0h2m2 0h1m1 0h1m1 0h2m1 0h1m1 0h2m3 0h1m4 0h1m1 0h1m1 0h1m2 0h1m2 0h1m1 0h1m2 0h1m1 0h2m3 0h2M134 371h3m1 0h2m1 0h1m2 0h1m3 0h1m1 0h2m1 0h1m1 0h2m1 0h1m1 0h4m8 0h1m4 0h2m1 0h2m2 0h1m1 0h1m2 0h1m2 0h3m6 0h1m3 0h3m4 0h1m1 0h2m1 0h2m1 0h1m4 0h2m1 0h2m3 0h1m2 0h1m2 0h1m2 0h1m3 0h2m1 0h2m2 0h3m3 0h6m1 0h3m2 0h1m1 0h1m3 0h2m1 0h3m2 0h5m3 0h2m1 0h2m5 0h2m1 0h2m1 0h8m6 0h1m5 0h3m1 0h1m1 0h1m2 0h1m2 0h2m2 0h4m2 0h1m1 0h1m3 0h1m4 0h3m4 0h1m1 0h1m2 0h1m1 0h3m3 0h1m1 0h2m1 0h2m2 0h1m5 0h2m4 0h4m2 0h3m1 0h1m4 0h2m1 0h2m1 0h1m1 0h2m2 0h1m1 0h2m1 0h1m1 0h1m2 0h2M135 372h1m5 0h2m1 0h2m1 0h1m7 0h2m1 0h4m2 0h1m1 0h2m2 0h1m1 0h1m9 0h3m1 0h1m1 0h2m4 0h5m2 0h1m1 0h3m3 0h8m2 0h3m1 0h1m1 0h1m3 0h4m1 0h1m2 0h2m2 0h2m1 0h8m1 0h1m1 0h2m2 0h3m1 0h1m4 0h1m1 0h2m1 0h1m2 0h1m2 0h1m1 0h1m1 0h3m1 0h2m2 0h2m2 0h1m3 0h3m2 0h1m1 0h1m3 0h2m1 0h6m3 0h1m5 0h4m1 0h3m4 0h1m1 0h6m2 0h1m1 0h1m2 0h2m1 0h4m1 0h5m2 0h1m2 0h3m6 0h2m1 0h2m2 0h1m2 0h1m1 0h2m1 0h2m1 0h2m2 0h1m2 0h2m2 0h3m2 0h3m6 0h1m1 0h1m2 0h1m2 0h1m1 0h2m2 0h1m2 0h3M133 373h2m3 0h2m2 0h2m1 0h3m1 0h1m2 0h2m3 0h1m1 0h2m2 0h3m1 0h1m1 0h2m1 0h1m3 0h6m1 0h1m3 0h1m2 0h2m2 0h1m1 0h1m1 0h3m3 0h1m1 0h3m1 0h1m1 0h1m2 0h1m1 0h3m1 0h2m1 0h1m1 0h5m4 0h5m2 0h2m1 0h1m2 0h3m1 0h2m2 0h1m2 0h1m2 0h3m2 0h1m1 0h2m1 0h1m1 0h1m1 0h3m3 0h4m1 0h3m4 0h1m2 0h5m1 0h3m3 0h1m4 0h1m2 0h4m1 0h1m3 0h1m1 0h2m1 0h3m2 0h1m1 0h1m1 0h1m2 0h2m1 0h1m2 0h1m1 0h1m2 0h2m1 0h4m1 0h3m2 0h3m3 0h1m1 0h2m1 0h1m1 0h1m3 0h4m3 0h2m3 0h4m2 0h2m1 0h5m1 0h2m1 0h1m1 0h1m3 0h2m1 0h1m1 0h2m3 0h2m1 0h1m1 0h1m1 0h1m1 0h4m1 0h1M135 374h1m5 0h1m5 0h4m1 0h4m2 0h2m4 0h2m1 0h3m1 0h1m2 0h1m1 0h1m1 0h3m2 0h6m2 0h1m1 0h1m1 0h2m1 0h2m1 0h1m1 0h1m3 0h2m1 0h2m4 0h4m1 0h1m3 0h3m3 0h3m2 0h1m1 0h2m1 0h2m1 0h4m2 0h1m2 0h1m10 0h1m2 0h3m1 0h1m1 0h1m2 0h1m2 0h2m2 0h2m2 0h2m2 0h1m3 0h1m1 0h1m1 0h1m1 0h1m1 0h2m2 0h1m4 0h1m1 0h1m2 0h1m3 0h2m1 0h2m1 0h3m1 0h1m1 0h1m1 0h5m5 0h4m2 0h1m1 0h1m4 0h1m1 0h2m1 0h2m1 0h2m2 0h2m2 0h7m3 0h1m4 0h1m2 0h1m2 0h1m5 0h2m2 0h2m1 0h4m4 0h1m2 0h2m1 0h3m3 0h1m4 0h4m2 0h4M135 375h1m1 0h4m1 0h1m1 0h2m3 0h3m1 0h1m3 0h1m5 0h1m3 0h4m1 0h1m4 0h1m1 0h1m4 0h3m3 0h1m1 0h1m2 0h1m1 0h1m3 0h2m2 0h4m1 0h3m2 0h2m3 0h2m1 0h1m1 0h4m1 0h2m2 0h1m1 0h2m3 0h1m1 0h4m2 0h1m2 0h1m1 0h1m1 0h1m2 0h1m2 0h1m1 0h1m4 0h2m1 0h3m4 0h1m1 0h1m1 0h2m5 0h3m2 0h3m2 0h1m3 0h1m1 0h1m4 0h11m2 0h3m1 0h3m1 0h1m1 0h1m4 0h3m1 0h2m1 0h1m1 0h1m1 0h2m3 0h1m1 0h3m1 0h9m1 0h5m1 0h2m1 0h3m1 0h2m1 0h4m2 0h3m2 0h2m4 0h9m1 0h2m2 0h1m3 0h2m1 0h1m1 0h3m3 0h2m2 0h1M133 376h2m3 0h4m1 0h3m2 0h1m1 0h2m1 0h1m2 0h3m2 0h2m1 0h1m1 0h2m1 0h1m1 0h5m1 0h2m2 0h1m3 0h4m2 0h1m2 0h2m2 0h2m1 0h1m3 0h2m1 0h1m3 0h6m9 0h1m4 0h4m2 0h2m1 0h2m2 0h1m6 0h3m3 0h2m1 0h3m1 0h2m3 0h3m1 0h3m2 0h1m3 0h1m1 0h1m2 0h2m3 0h1m3 0h5m3 0h1m1 0h2m1 0h2m1 0h2m3 0h1m3 0h3m2 0h5m2 0h1m2 0h1m3 0h1m1 0h1m2 0h4m1 0h2m3 0h1m3 0h3m1 0h1m5 0h2m1 0h1m3 0h4m2 0h3m6 0h1m1 0h3m3 0h1m4 0h2m1 0h1m1 0h1m1 0h1m3 0h1m1 0h1m3 0h1m6 0h1m1 0h1m2 0h1m2 0h1m3 0h4M134 377h1m1 0h1m3 0h6m4 0h1m1 0h3m1 0h3m2 0h1m2 0h1m1 0h2m3 0h2m1 0h2m2 0h1m3 0h1m1 0h2m2 0h3m2 0h2m1 0h1m1 0h1m1 0h1m2 0h1m1 0h1m2 0h1m1 0h1m1 0h2m3 0h1m2 0h1m2 0h2m2 0h3m1 0h3m2 0h2m3 0h2m1 0h1m3 0h1m1 0h1m3 0h3m5 0h4m1 0h1m2 0h1m1 0h1m1 0h1m2 0h2m2 0h1m2 0h1m1 0h1m1 0h1m1 0h2m1 0h1m3 0h1m8 0h1m4 0h1m2 0h1m1 0h2m1 0h3m2 0h1m1 0h3m1 0h1m2 0h1m3 0h1m1 0h1m2 0h1m1 0h1m3 0h1m1 0h1m1 0h1m1 0h1m2 0h1m1 0h2m1 0h1m3 0h1m1 0h1m3 0h1m1 0h1m1 0h7m3 0h2m1 0h2m8 0h4m2 0h2m3 0h1m2 0h5m6 0h1m2 0h2m2 0h1m3 0h1m2 0h2m1 0h4M135 378h5m3 0h1m1 0h1m2 0h1m8 0h3m2 0h1m1 0h3m2 0h1m1 0h1m1 0h1m2 0h2m3 0h2m2 0h1m3 0h4m2 0h1m2 0h1m6 0h1m2 0h1m2 0h1m1 0h3m2 0h1m2 0h1m1 0h3m2 0h1m1 0h3m1 0h5m4 0h2m4 0h3m9 0h6m2 0h1m1 0h2m3 0h1m6 0h1m2 0h2m1 0h1m1 0h4m5 0h1m1 0h1m4 0h1m1 0h2m2 0h1m2 0h1m1 0h2m2 0h4m5 0h1m4 0h2m1 0h3m3 0h1m5 0h1m1 0h5m1 0h1m1 0h1m2 0h3m1 0h1m1 0h1m1 0h1m1 0h3m5 0h1m1 0h1m1 0h1m1 0h3m4 0h1m9 0h1m4 0h1m6 0h1m3 0h1m1 0h2m2 0h1m2 0h1m2 0h1m1 0h3m4 0h1m1 0h1M134 379h2m1 0h5m1 0h1m1 0h2m2 0h2m4 0h2m2 0h1m4 0h1m4 0h1m2 0h1m5 0h2m3 0h3m4 0h6m1 0h1m3 0h1m2 0h2m2 0h1m3 0h3m4 0h4m1 0h1m1 0h1m2 0h1m1 0h1m2 0h1m1 0h2m1 0h1m3 0h3m3 0h1m1 0h1m1 0h2m1 0h2m1 0h1m1 0h1m1 0h3m7 0h1m1 0h1m1 0h2m1 0h5m1 0h1m1 0h2m3 0h1m3 0h1m1 0h3m1 0h1m3 0h1m5 0h1m2 0h2m1 0h1m1 0h1m2 0h1m1 0h2m3 0h2m5 0h1m2 0h1m1 0h1m1 0h2m2 0h1m1 0h1m5 0h1m4 0h2m1 0h1m3 0h2m2 0h1m1 0h1m4 0h3m3 0h1m1 0h2m1 0h3m2 0h1m1 0h3m1 0h1m1 0h1m2 0h1m1 0h4m3 0h1m1 0h4m1 0h2m1 0h4m1 0h2m1 0h3m1 0h1m3 0h2M133 380h2m3 0h1m1 0h2m3 0h2m5 0h1m2 0h1m2 0h2m4 0h1m2 0h2m9 0h1m1 0h1m1 0h1m4 0h3m1 0h1m2 0h2m4 0h1m4 0h2m5 0h4m1 0h2m5 0h3m1 0h1m1 0h1m1 0h1m2 0h2m1 0h1m1 0h4m2 0h1m3 0h1m1 0h4m1 0h2m1 0h2m1 0h3m7 0h1m1 0h1m5 0h1m1 0h3m1 0h2m1 0h1m2 0h1m1 0h1m1 0h2m1 0h4m3 0h1m4 0h1m4 0h3m3 0h2m7 0h3m1 0h4m1 0h1m2 0h5m1 0h4m1 0h1m6 0h3m3 0h1m1 0h2m3 0h3m2 0h1m3 0h1m1 0h1m1 0h1m1 0h1m1 0h2m2 0h2m1 0h1m1 0h1m1 0h3m5 0h10m2 0h2m2 0h1m1 0h4m1 0h1m1 0h1m1 0h2m4 0h1M133 381h3m2 0h3m2 0h2m3 0h2m4 0h2m2 0h1m5 0h2m1 0h1m1 0h1m2 0h3m2 0h1m1 0h1m2 0h2m2 0h1m1 0h2m1 0h1m5 0h2m4 0h1m6 0h3m3 0h1m2 0h2m1 0h2m1 0h1m2 0h2m6 0h1m1 0h1m1 0h2m1 0h1m2 0h2m4 0h3m2 0h2m5 0h4m1 0h1m1 0h1m4 0h1m2 0h3m1 0h1m2 0h1m5 0h2m1 0h1m3 0h2m1 0h2m1 0h6m6 0h1m1 0h2m1 0h1m2 0h1m2 0h1m2 0h5m1 0h1m1 0h2m5 0h1m4 0h3m5 0h2m1 0h1m2 0h2m5 0h1m5 0h2m2 0h2m1 0h1m1 0h2m1 0h2m1 0h2m2 0h1m2 0h4m1 0h1m2 0h1m1 0h2m1 0h1m4 0h2m1 0h2m5 0h1m1 0h1m1 0h2m3 0h3m1 0h1m2 0h1M134 382h1m1 0h2m2 0h1m2 0h1m1 0h1m2 0h5m2 0h5m3 0h2m5 0h2m2 0h4m1 0h1m2 0h1m1 0h2m3 0h1m2 0h1m4 0h1m1 0h1m8 0h1m1 0h2m4 0h1m1 0h1m2 0h1m2 0h2m3 0h1m4 0h1m2 0h2m2 0h1m2 0h1m1 0h2m3 0h1m1 0h1m1 0h1m1 0h3m6 0h1m3 0h3m1 0h1m2 0h1m1 0h1m1 0h2m5 0h3m5 0h4m2 0h1m4 0h4m4 0h1m1 0h1m1 0h3m1 0h2m2 0h2m4 0h1m3 0h1m1 0h2m5 0h1m2 0h1m3 0h1m3 0h2m1 0h1m2 0h2m5 0h7m2 0h2m2 0h1m5 0h1m1 0h2m3 0h1m1 0h1m1 0h1m1 0h1m2 0h3m1 0h2m2 0h1m2 0h1m2 0h1m6 0h2m1 0h2m2 0h3m1 0h1m4 0h1m1 0h1M133 383h1m1 0h1m4 0h1m1 0h6m3 0h1m3 0h1m5 0h2m2 0h1m1 0h1m1 0h2m4 0h1m4 0h4m1 0h1m3 0h1m4 0h2m3 0h3m1 0h1m1 0h1m1 0h1m1 0h1m2 0h4m1 0h1m1 0h1m1 0h1m2 0h1m1 0h4m4 0h1m3 0h2m1 0h2m2 0h1m2 0h5m2 0h3m4 0h3m1 0h3m1 0h1m2 0h1m4 0h1m1 0h2m2 0h1m3 0h2m4 0h1m1 0h1m2 0h1m6 0h2m6 0h1m2 0h1m6 0h2m2 0h3m1 0h1m2 0h1m2 0h1m4 0h2m1 0h2m3 0h4m5 0h1m1 0h2m2 0h1m2 0h1m1 0h1m1 0h1m2 0h2m4 0h1m5 0h1m5 0h3m2 0h1m1 0h1m6 0h3m5 0h1m2 0h1m2 0h1m4 0h1m2 0h3m3 0h1m3 0h1m1 0h3M133 384h1m1 0h2m1 0h1m2 0h2m2 0h1m3 0h5m1 0h2m1 0h3m2 0h2m3 0h1m2 0h1m4 0h1m1 0h2m4 0h1m1 0h1m2 0h2m1 0h1m2 0h2m1 0h1m3 0h1m8 0h1m6 0h1m3 0h4m3 0h3m2 0h1m4 0h1m2 0h4m1 0h3m2 0h1m5 0h1m1 0h1m4 0h1m3 0h1m1 0h2m3 0h1m1 0h1m1 0h1m5 0h1m2 0h1m1 0h1m1 0h4m1 0h3m5 0h5m3 0h2m2 0h1m2 0h1m1 0h2m3 0h1m1 0h1m1 0h2m1 0h3m2 0h1m2 0h1m1 0h2m4 0h1m1 0h1m1 0h4m7 0h1m5 0h3m8 0h1m5 0h3m4 0h1m2 0h5m4 0h3m8 0h1m1 0h1m2 0h1m1 0h1m5 0h1m1 0h2m2 0h1m1 0h1m1 0h1m1 0h1M133 385h1m5 0h1m3 0h2m1 0h1m2 0h1m2 0h1m2 0h1m2 0h3m4 0h2m1 0h1m4 0h1m1 0h1m10 0h1m3 0h1m1 0h2m1 0h1m2 0h1m1 0h1m3 0h2m2 0h1m1 0h5m1 0h1m1 0h1m3 0h2m4 0h1m1 0h2m3 0h2m1 0h1m4 0h2m4 0h2m1 0h3m2 0h1m5 0h2m2 0h1m4 0h1m1 0h1m4 0h1m5 0h2m1 0h3m1 0h2m1 0h2m1 0h2m7 0h2m1 0h2m3 0h3m4 0h3m2 0h1m2 0h1m3 0h3m2 0h2m3 0h1m6 0h2m3 0h2m4 0h1m4 0h3m1 0h1m2 0h1m1 0h1m2 0h3m3 0h3m2 0h2m1 0h1m2 0h1m2 0h3m2 0h1m5 0h1m1 0h1m5 0h3m1 0h1m2 0h1m1 0h1m5 0h5m3 0h2M133 386h1m5 0h1m1 0h1m1 0h1m2 0h1m2 0h2m4 0h1m2 0h1m1 0h3m4 0h1m2 0h1m2 0h4m2 0h2m4 0h1m3 0h5m3 0h1m4 0h3m3 0h2m1 0h1m3 0h2m8 0h1m2 0h2m2 0h1m3 0h1m1 0h7m9 0h1m1 0h1m3 0h1m3 0h2m2 0h3m3 0h1m1 0h1m2 0h1m8 0h1m2 0h2m1 0h1m2 0h2m1 0h3m1 0h1m1 0h2m3 0h3m1 0h1m4 0h1m2 0h2m1 0h1m2 0h1m3 0h1m1 0h1m12 0h2m2 0h1m2 0h1m2 0h2m4 0h2m3 0h1m6 0h2m1 0h1m3 0h2m1 0h1m1 0h1m2 0h4m2 0h1m2 0h1m4 0h1m1 0h1m2 0h1m2 0h1m1 0h2m1 0h1m1 0h1m8 0h1m1 0h1m5 0h1m1 0h1m3 0h2M139 387h1m1 0h3m3 0h1m1 0h2m3 0h2m2 0h2m1 0h1m1 0h3m1 0h2m1 0h4m1 0h1m4 0h3m4 0h3m1 0h1m3 0h1m4 0h1m1 0h1m1 0h1m2 0h1m1 0h1m9 0h1m4 0h3m1 0h2m5 0h2m2 0h2m1 0h1m2 0h5m3 0h1m2 0h5m6 0h2m2 0h4m1 0h3m1 0h1m1 0h1m2 0h1m1 0h2m1 0h1m2 0h2m1 0h2m1 0h1m2 0h1m1 0h1m1 0h1m1 0h1m2 0h2m2 0h1m2 0h2m4 0h1m2 0h2m2 0h1m1 0h2m3 0h1m3 0h2m5 0h1m1 0h3m1 0h2m1 0h1m2 0h2m2 0h3m2 0h1m1 0h2m1 0h1m2 0h1m2 0h1m1 0h1m5 0h1m1 0h3m2 0h1m6 0h1m1 0h2m1 0h1m1 0h1m3 0h1m1 0h1m2 0h2m7 0h2m1 0h2m2 0h1m8 0h1M135 388h2m3 0h1m6 0h1m2 0h1m2 0h1m1 0h1m3 0h2m1 0h2m10 0h1m1 0h1m1 0h4m1 0h2m4 0h3m3 0h3m1 0h1m14 0h1m2 0h1m1 0h1m4 0h1m2 0h1m2 0h2m1 0h1m6 0h2m2 0h2m2 0h5m2 0h2m1 0h1m1 0h2m1 0h1m2 0h1m1 0h2m6 0h1m5 0h5m2 0h1m2 0h1m5 0h1m4 0h1m1 0h1m4 0h1m5 0h3m3 0h2m1 0h1m2 0h3m2 0h2m1 0h3m1 0h2m1 0h1m1 0h1m4 0h1m2 0h3m1 0h1m1 0h1m10 0h1m2 0h1m2 0h2m1 0h4m1 0h1m2 0h1m2 0h1m4 0h4m2 0h2m1 0h1m2 0h1m1 0h2m3 0h1m4 0h1m1 0h3m1 0h2m3 0h1m3 0h1m2 0h4m1 0h2M146 389h1m5 0h1m2 0h1m1 0h1m1 0h2m2 0h1m1 0h1m4 0h3m3 0h2m1 0h1m2 0h1m4 0h3m7 0h2m1 0h3m1 0h2m1 0h1m5 0h1m7 0h1m1 0h1m4 0h1m1 0h1m4 0h4m2 0h1m1 0h1m3 0h1m1 0h1m4 0h1m4 0h1m1 0h3m2 0h1m1 0h3m2 0h1m9 0h1m2 0h2m2 0h1m9 0h1m2 0h3m12 0h1m1 0h1m3 0h1m1 0h1m1 0h3m5 0h4m7 0h1m2 0h5m6 0h1m1 0h1m2 0h1m3 0h1m2 0h2m2 0h2m2 0h1m2 0h1m2 0h1m1 0h1m1 0h2m1 0h1m1 0h1m1 0h1m7 0h1m3 0h1m1 0h3m1 0h1m1 0h3m1 0h2m1 0h1m1 0h1m1 0h1m2 0h1m1 0h2m1 0h1m2 0h1m2 0h2M133 390h1m4 0h1m1 0h1m1 0h3m4 0h1m2 0h2m4 0h3m1 0h1m3 0h1m1 0h1m4 0h5m1 0h1m2 0h5m3 0h1m3 0h2m3 0h5m3 0h1m1 0h1m13 0h1m1 0h3m3 0h4m2 0h1m3 0h3m1 0h1m2 0h1m1 0h1m2 0h1m1 0h2m1 0h1m4 0h2m4 0h3m6 0h1m1 0h1m7 0h1m1 0h1m1 0h2m6 0h6m1 0h2m1 0h4m3 0h3m1 0h1m2 0h1m1 0h3m5 0h1m3 0h1m2 0h1m5 0h1m1 0h4m2 0h1m1 0h2m1 0h1m2 0h1m1 0h1m1 0h3m4 0h1m5 0h1m1 0h1m4 0h2m1 0h2m5 0h1m3 0h1m1 0h1m2 0h2m1 0h1m4 0h2m1 0h1m3 0h1m1 0h1m1 0h1m3 0h1m1 0h2m3 0h1m1 0h2M135 391h1m8 0h1m3 0h4m2 0h1m1 0h1m3 0h2m5 0h1m1 0h2m1 0h1m4 0h1m1 0h2m3 0h3m6 0h3m5 0h2m1 0h2m7 0h1m2 0h3m1 0h2m2 0h1m7 0h1m2 0h1m13 0h1m4 0h2m3 0h1m1 0h1m8 0h1m1 0h2m2 0h1m3 0h1m4 0h3m1 0h2m3 0h1m5 0h2m1 0h1m5 0h3m1 0h1m1 0h1m1 0h2m5 0h1m1 0h3m1 0h1m1 0h2m1 0h2m2 0h6m4 0h3m6 0h2m5 0h1m4 0h1m2 0h1m1 0h4m1 0h1m4 0h1m1 0h2m1 0h1m4 0h1m2 0h1m2 0h2m6 0h3m3 0h2m2 0h2m2 0h1m4 0h5m4 0h3m2 0h1m1 0h1M133 392h1m2 0h2m1 0h1m2 0h1m1 0h1m2 0h1m4 0h2m2 0h1m2 0h2m1 0h1m7 0h2m2 0h1m2 0h2m5 0h1m1 0h3m1 0h1m3 0h1m1 0h1m1 0h1m5 0h1m1 0h2m8 0h2m6 0h1m1 0h1m2 0h1m1 0h1m4 0h1m9 0h3m1 0h2m1 0h2m2 0h1m4 0h2m4 0h1m6 0h1m4 0h1m1 0h3m1 0h1m1 0h1m8 0h1m4 0h1m3 0h1m3 0h3m3 0h1m1 0h1m2 0h1m2 0h2m1 0h3m1 0h2m2 0h2m3 0h2m2 0h1m1 0h2m1 0h3m3 0h1m2 0h1m3 0h2m1 0h3m1 0h3m6 0h1m2 0h2m1 0h1m1 0h1m2 0h1m2 0h1m3 0h2m2 0h1m2 0h1m4 0h1m2 0h1m10 0h1m2 0h1m4 0h1m1 0h1m2 0h2m7 0h1M134 393h1m1 0h3m2 0h2m4 0h2m7 0h1m3 0h2m2 0h1m1 0h1m2 0h1m4 0h1m2 0h1m2 0h1m5 0h3m2 0h2m6 0h2m18 0h1m1 0h1m4 0h1m4 0h1m1 0h2m2 0h1m6 0h1m27 0h1m4 0h1m8 0h1m3 0h1m2 0h1m2 0h1m8 0h2m4 0h1m1 0h1m2 0h2m1 0h2m5 0h1m3 0h1m2 0h1m2 0h3m3 0h1m1 0h1m1 0h3m2 0h1m1 0h1m2 0h2m1 0h2m1 0h1m3 0h2m1 0h1m2 0h2m1 0h1m4 0h1m3 0h2m1 0h1m2 0h1m3 0h1m1 0h2m1 0h1m1 0h1m1 0h4m1 0h1m1 0h2m1 0h1m13 0h1m5 0h3m2 0h1m2 0h4M140 394h2m4 0h1m8 0h4m10 0h1m2 0h2m3 0h1m3 0h1m3 0h1m6 0h1m4 0h1m2 0h1m2 0h1m1 0h2m1 0h2m2 0h2m2 0h1m2 0h2m1 0h1m8 0h1m4 0h1m4 0h1m1 0h1m3 0h2m1 0h1m1 0h2m2 0h1m1 0h1m5 0h1m1 0h2m4 0h1m8 0h1m3 0h1m7 0h1m2 0h1m5 0h2m4 0h1m2 0h2m2 0h1m1 0h1m2 0h2m5 0h1m2 0h1m1 0h3m1 0h5m1 0h1m1 0h1m1 0h1m3 0h1m6 0h1m1 0h3m1 0h5m1 0h2m7 0h1m2 0h1m1 0h2m2 0h3m1 0h1m1 0h1m2 0h1m2 0h1m1 0h1m6 0h1m4 0h1m4 0h2m2 0h1m8 0h3m4 0h1m4 0h2M137 395h1m2 0h2m1 0h1m2 0h2m2 0h2m1 0h1m2 0h1m1 0h1m1 0h1m2 0h1m5 0h1m4 0h2m6 0h1m2 0h1m1 0h1m2 0h3m3 0h1m1 0h4m2 0h1m2 0h4m3 0h1m2 0h1m1 0h2m1 0h1m4 0h1m6 0h1m1 0h6m1 0h1m3 0h2m2 0h7m2 0h1m4 0h1m1 0h1m3 0h1m2 0h2m4 0h1m1 0h1m2 0h1m2 0h2m1 0h1m1 0h1m2 0h1m1 0h1m1 0h1m1 0h2m1 0h2m2 0h1m4 0h1m11 0h1m1 0h2m3 0h1m1 0h1m3 0h1m1 0h1m3 0h1m2 0h1m1 0h1m2 0h1m5 0h1m2 0h2m1 0h1m1 0h1m3 0h2m3 0h1m1 0h1m2 0h1m2 0h1m3 0h1m1 0h1m1 0h1m3 0h1m2 0h1m8 0h1m1 0h5m1 0h1m2 0h1m2 0h1m9 0h2m1 0h1m7 0h1M133 396h1m3 0h1m1 0h1m6 0h1m1 0h1m1 0h1m1 0h1m1 0h2m1 0h2m1 0h1m2 0h1m4 0h2m1 0h1m5 0h1m4 0h2m2 0h1m4 0h1m1 0h1m2 0h2m1 0h1m3 0h1m5 0h1m1 0h1m2 0h1m1 0h1m1 0h2m2 0h1m1 0h5m1 0h2m2 0h1m3 0h1m3 0h1m3 0h1m5 0h1m1 0h2m19 0h3m1 0h1m1 0h1m5 0h1m4 0h1m4 0h1m2 0h1m1 0h1m2 0h4m2 0h2m5 0h1m4 0h4m3 0h4m6 0h1m1 0h1m1 0h3m5 0h3m2 0h2m1 0h1m1 0h2m5 0h1m3 0h1m2 0h2m4 0h4m5 0h2m2 0h1m1 0h2m1 0h2m2 0h2m9 0h1m5 0h1m2 0h3m8 0h1m3 0h1m3 0h1M135 397h1m2 0h1m2 0h1m1 0h1m1 0h1m2 0h1m1 0h1m7 0h1m2 0h1m3 0h2m1 0h1m4 0h1m2 0h2m4 0h1m3 0h1m2 0h1m1 0h1m2 0h2m3 0h1m1 0h2m1 0h1m1 0h1m1 0h1m1 0h4m6 0h1m1 0h1m4 0h2m1 0h1m2 0h1m1 0h1m2 0h2m8 0h2m1 0h5m1 0h1m1 0h1m1 0h2m3 0h1m1 0h1m1 0h1m2 0h1m3 0h1m6 0h1m4 0h1m6 0h1m2 0h1m4 0h1m3 0h2m1 0h2m2 0h1m1 0h1m6 0h1m1 0h1m4 0h2m3 0h1m2 0h3m4 0h1m3 0h1m4 0h1m2 0h1m3 0h1m1 0h1m3 0h1m8 0h1m6 0h2m6 0h1m3 0h1m2 0h1m1 0h1m6 0h2m3 0h2m1 0h1m2 0h2m3 0h1m3 0h1m1 0h1m1 0h1m5 0h4m2 0h1M140 398h1m1 0h1m1 0h2m1 0h1m1 0h4m1 0h1m1 0h1m3 0h1m4 0h3m6 0h2m4 0h1m1 0h2m1 0h3m3 0h1m1 0h1m2 0h1m3 0h1m3 0h1m3 0h2m2 0h2m6 0h1m2 0h3m3 0h1m10 0h1m1 0h1m1 0h1m3 0h3m4 0h1m1 0h1m2 0h1m3 0h1m2 0h3m5 0h1m4 0h1m4 0h1m8 0h4m3 0h1m3 0h1m3 0h1m4 0h3m1 0h2m1 0h2m1 0h1m5 0h1m7 0h2m2 0h1m1 0h1m5 0h1m1 0h1m2 0h1m2 0h1m5 0h1m1 0h1m7 0h1m1 0h1m3 0h2m2 0h2m1 0h1m4 0h1m1 0h1m3 0h1m1 0h4m1 0h1m2 0h1m1 0h1m2 0h1m2 0h3m3 0h1m1 0h1m5 0h5m3 0h1m1 0h1M140 399h2m1 0h3m1 0h1m3 0h1m2 0h1m2 0h1m1 0h1m2 0h1m1 0h2m3 0h2m2 0h1m1 0h1m2 0h4m3 0h1m3 0h1m1 0h1m1 0h1m1 0h3m3 0h1m1 0h1m4 0h1m1 0h2m2 0h1m1 0h1m1 0h1m8 0h2m4 0h1m1 0h2m2 0h1m2 0h1m11 0h1m1 0h1m1 0h1m1 0h1m1 0h1m1 0h1m4 0h1m7 0h1m5 0h1m2 0h2m3 0h1m2 0h1m4 0h1m1 0h1m7 0h1m1 0h1m1 0h1m5 0h1m1 0h1m2 0h3m1 0h1m1 0h2m2 0h1m2 0h1m4 0h1m1 0h1m5 0h1m3 0h2m1 0h1m3 0h1m1 0h2m1 0h1m2 0h1m7 0h2m1 0h2m2 0h3m6 0h3m1 0h1m3 0h1m2 0h1m4 0h2m4 0h2m3 0h2m2 0h1m2 0h2m2 0h2m2 0h1m4 0h2M133 400h1m1 0h1m2 0h2m2 0h2m3 0h1m3 0h1m3 0h1m2 0h2m1 0h1m3 0h1m2 0h1m1 0h1m2 0h1m3 0h2m4 0h1m1 0h1m2 0h1m8 0h1m2 0h1m1 0h1m2 0h1m9 0h2m5 0h2m1 0h1m1 0h1m1 0h2m1 0h1m2 0h2m1 0h1m2 0h1m4 0h1m3 0h2m3 0h3m1 0h1m1 0h1m1 0h5m2 0h1m1 0h4m1 0h1m1 0h3m6 0h1m3 0h3m2 0h1m1 0h1m4 0h1m1 0h2m2 0h5m5 0h2m1 0h1m1 0h2m3 0h1m2 0h2m3 0h1m5 0h1m2 0h1m1 0h1m6 0h2m4 0h2m1 0h3m1 0h3m2 0h1m6 0h1m4 0h1m5 0h1m2 0h2m1 0h1m2 0h2m1 0h2m1 0h1m2 0h1m5 0h2m1 0h1m8 0h4m3 0h1m3 0h3m1 0h2M133 401h1m2 0h1m1 0h2m6 0h1m2 0h1m3 0h1m2 0h1m3 0h1m11 0h3m2 0h3m2 0h1m1 0h2m2 0h1m4 0h1m2 0h1m1 0h1m1 0h1m1 0h1m3 0h1m6 0h2m4 0h1m3 0h3m4 0h4m3 0h1m1 0h1m2 0h2m10 0h3m2 0h1m1 0h1m2 0h7m1 0h1m1 0h1m1 0h5m2 0h4m1 0h2m5 0h1m1 0h1m1 0h1m2 0h1m2 0h1m2 0h1m5 0h1m6 0h1m6 0h1m3 0h1m15 0h3m8 0h1m2 0h2m1 0h5m3 0h4m3 0h1m3 0h1m2 0h1m1 0h1m5 0h2m1 0h1m1 0h1m3 0h1m1 0h1m3 0h2m2 0h1m8 0h1m1 0h5m1 0h1m1 0h1m2 0h1M135 402h1m3 0h1m1 0h1m5 0h1m2 0h5m4 0h1m1 0h1m3 0h2m1 0h1m2 0h1m1 0h1m3 0h4m5 0h2m3 0h1m1 0h3m2 0h1m2 0h3m3 0h2m1 0h1m5 0h1m2 0h1m1 0h1m1 0h1m2 0h1m5 0h2m2 0h2m5 0h1m2 0h1m2 0h1m4 0h1m1 0h2m2 0h2m3 0h2m3 0h1m3 0h2m4 0h2m1 0h2m1 0h1m4 0h2m1 0h1m1 0h1m4 0h1m5 0h2m1 0h1m1 0h1m3 0h2m3 0h1m2 0h1m1 0h1m9 0h2m1 0h1m1 0h1m4 0h2m4 0h2m3 0h1m2 0h1m2 0h1m1 0h2m3 0h2m1 0h2m2 0h1m1 0h1m2 0h3m1 0h1m1 0h1m2 0h2m1 0h1m1 0h1m4 0h1m11 0h2m2 0h1m1 0h2m6 0h2m3 0h1m1 0h3m1 0h1m1 0h3M134 403h1m9 0h2m1 0h2m2 0h2m5 0h3m5 0h1m1 0h1m2 0h3m1 0h1m1 0h2m1 0h1m3 0h1m1 0h1m1 0h2m1 0h1m5 0h1m1 0h1m2 0h1m2 0h1m2 0h2m12 0h1m6 0h1m2 0h3m1 0h1m1 0h1m1 0h3m4 0h4m2 0h4m1 0h2m3 0h1m6 0h1m1 0h1m2 0h2m8 0h1m3 0h1m2 0h1m1 0h1m2 0h2m2 0h2m1 0h2m1 0h2m1 0h1m4 0h1m1 0h1m2 0h1m2 0h2m6 0h1m1 0h1m1 0h2m4 0h2m4 0h1m1 0h1m1 0h1m4 0h1m1 0h3m2 0h2m1 0h1m3 0h1m4 0h4m2 0h1m3 0h1m2 0h1m1 0h2m1 0h4m6 0h1m2 0h3m1 0h1m1 0h1m2 0h1m1 0h1m3 0h1m3 0h1m1 0h2m2 0h3m3 0h1m2 0h1M133 404h5m3 0h1m5 0h3m1 0h3m7 0h3m2 0h1m1 0h1m5 0h2m11 0h1m1 0h2m1 0h1m1 0h1m3 0h1m2 0h4m5 0h1m2 0h1m1 0h1m8 0h1m6 0h1m2 0h2m12 0h1m1 0h2m1 0h1m3 0h2m3 0h1m1 0h1m5 0h1m2 0h1m9 0h1m1 0h1m1 0h1m1 0h3m4 0h1m1 0h2m1 0h2m2 0h3m1 0h1m1 0h1m1 0h1m1 0h1m1 0h4m3 0h2m1 0h2m1 0h1m4 0h1m3 0h2m1 0h1m5 0h2m3 0h1m1 0h1m1 0h1m3 0h1m8 0h1m1 0h2m5 0h1m1 0h1m4 0h2m2 0h1m5 0h2m2 0h4m1 0h1m1 0h1m1 0h1m3 0h1m3 0h1m1 0h2m7 0h4m1 0h1m1 0h2m2 0h5M133 405h3m1 0h2m1 0h1m3 0h2m1 0h3m2 0h1m4 0h1m3 0h1m1 0h1m6 0h1m2 0h13m1 0h1m1 0h2m5 0h1m2 0h2m1 0h1m1 0h1m1 0h1m2 0h2m3 0h1m1 0h1m1 0h1m1 0h2m2 0h1m2 0h1m2 0h2m4 0h2m1 0h3m2 0h1m2 0h1m2 0h2m2 0h1m1 0h1m6 0h1m8 0h1m2 0h2m1 0h2m2 0h2m1 0h1m2 0h1m1 0h1m1 0h1m1 0h1m1 0h2m5 0h1m2 0h1m6 0h1m4 0h4m6 0h1m6 0h1m2 0h2m2 0h3m3 0h2m2 0h1m3 0h2m4 0h1m1 0h1m1 0h2m1 0h2m2 0h1m1 0h3m3 0h1m7 0h1m1 0h1m4 0h1m5 0h1m2 0h2m1 0h1m8 0h1m2 0h2m1 0h5m2 0h1m2 0h1m3 0h1m2 0h1m2 0h1M133 406h1m2 0h4m2 0h2m2 0h2m3 0h1m3 0h2m1 0h5m1 0h2m7 0h3m1 0h1m7 0h1m1 0h1m2 0h1m3 0h1m3 0h1m4 0h2m1 0h3m1 0h2m6 0h1m1 0h1m2 0h2m1 0h1m6 0h1m1 0h1m10 0h2m7 0h1m5 0h1m1 0h2m1 0h1m2 0h1m5 0h1m3 0h1m3 0h1m2 0h1m1 0h2m4 0h1m7 0h1m2 0h1m1 0h3m3 0h1m1 0h3m2 0h1m2 0h1m1 0h3m4 0h3m4 0h1m1 0h1m3 0h2m2 0h1m5 0h1m1 0h2m3 0h1m1 0h2m7 0h4m11 0h2m4 0h1m2 0h1m1 0h1m4 0h3m8 0h1m1 0h1m1 0h3m4 0h1m3 0h1m1 0h3m8 0h1M133 407h2m4 0h1m2 0h1m3 0h1m1 0h1m1 0h1m3 0h1m4 0h2m2 0h1m1 0h2m3 0h2m1 0h2m6 0h1m1 0h1m2 0h2m6 0h2m1 0h2m3 0h1m5 0h1m1 0h1m1 0h1m6 0h1m4 0h2m6 0h2m6 0h1m1 0h1m1 0h2m1 0h2m1 0h1m3 0h3m1 0h2m4 0h1m1 0h1m2 0h1m1 0h1m3 0h1m1 0h1m2 0h1m1 0h1m1 0h3m1 0h3m1 0h2m2 0h3m7 0h3m2 0h1m1 0h1m4 0h1m5 0h1m1 0h1m2 0h1m3 0h2m3 0h2m2 0h1m1 0h1m1 0h1m5 0h1m2 0h1m4 0h1m3 0h2m1 0h1m6 0h1m3 0h1m1 0h2m2 0h3m5 0h2m4 0h1m3 0h2m3 0h2m2 0h1m4 0h2m5 0h1m2 0h1m1 0h5m2 0h2m6 0h2M134 408h1m1 0h2m1 0h1m2 0h2m2 0h1m1 0h2m1 0h4m5 0h1m2 0h1m4 0h1m1 0h1m2 0h3m1 0h1m1 0h1m1 0h1m1 0h3m1 0h4m5 0h4m1 0h1m6 0h1m1 0h1m2 0h3m2 0h2m2 0h1m1 0h1m3 0h1m2 0h2m4 0h1m2 0h1m2 0h2m2 0h2m1 0h2m3 0h1m1 0h1m5 0h2m1 0h1m2 0h1m5 0h4m1 0h1m1 0h1m1 0h1m1 0h3m2 0h1m1 0h1m1 0h1m1 0h2m5 0h1m6 0h2m7 0h2m1 0h2m1 0h1m7 0h1m2 0h1m4 0h1m3 0h2m1 0h4m4 0h1m3 0h1m2 0h1m7 0h1m4 0h1m1 0h1m5 0h1m2 0h3m4 0h1m1 0h1m8 0h2m2 0h1m1 0h1m2 0h1m1 0h1m1 0h1m2 0h3m4 0h3m1 0h4m1 0h5m1 0h1M134 409h1m8 0h1m4 0h2m2 0h1m2 0h2m1 0h1m1 0h5m2 0h1m1 0h2m5 0h2m1 0h1m1 0h1m2 0h1m2 0h1m1 0h2m1 0h1m4 0h1m1 0h2m1 0h2m1 0h3m1 0h1m3 0h1m4 0h1m4 0h1m5 0h1m2 0h2m3 0h3m4 0h1m2 0h1m5 0h2m4 0h1m1 0h1m2 0h1m2 0h1m1 0h1m2 0h1m5 0h1m1 0h1m8 0h1m1 0h2m2 0h2m1 0h2m1 0h1m4 0h3m9 0h4m1 0h2m3 0h1m2 0h2m4 0h1m3 0h4m2 0h1m3 0h3m2 0h2m1 0h2m1 0h2m1 0h2m2 0h2m2 0h2m1 0h1m5 0h2m1 0h1m1 0h2m2 0h1m2 0h1m1 0h3m3 0h1m1 0h2m4 0h1m1 0h1m9 0h1m2 0h1m1 0h1m4 0h1m1 0h1m4 0h3m2 0h1M135 410h1m4 0h1m6 0h2m2 0h3m2 0h3m2 0h1m1 0h1m3 0h1m4 0h2m1 0h2m6 0h1m1 0h1m3 0h1m1 0h1m5 0h1m3 0h1m7 0h1m1 0h3m1 0h3m3 0h1m2 0h1m2 0h1m2 0h1m5 0h3m1 0h1m2 0h1m3 0h1m2 0h2m2 0h1m1 0h4m1 0h2m9 0h2m2 0h1m4 0h1m2 0h1m1 0h1m3 0h1m2 0h2m2 0h1m3 0h1m1 0h3m1 0h1m1 0h1m1 0h4m4 0h1m3 0h1m2 0h1m2 0h2m1 0h1m2 0h2m1 0h1m3 0h1m2 0h1m1 0h2m10 0h2m1 0h1m1 0h4m8 0h1m1 0h1m3 0h4m3 0h1m2 0h2m3 0h1m2 0h1m3 0h1m4 0h1m3 0h2m5 0h1m3 0h1m2 0h1m1 0h2m2 0h1m1 0h2m1 0h2m1 0h2M134 411h1m1 0h2m1 0h2m2 0h3m2 0h3m1 0h2m1 0h1m1 0h1m4 0h3m1 0h4m2 0h1m7 0h2m8 0h2m1 0h3m1 0h1m1 0h1m1 0h1m1 0h1m4 0h1m1 0h2m2 0h1m1 0h1m7 0h2m1 0h3m1 0h1m2 0h2m3 0h1m2 0h1m1 0h2m1 0h1m1 0h1m2 0h2m1 0h1m3 0h1m1 0h1m3 0h2m6 0h1m3 0h4m2 0h1m1 0h4m1 0h1m1 0h3m2 0h1m1 0h2m2 0h1m2 0h1m1 0h4m1 0h3m4 0h1m2 0h1m2 0h1m2 0h4m4 0h4m3 0h2m2 0h2m2 0h2m3 0h1m3 0h1m1 0h1m1 0h1m1 0h1m2 0h1m1 0h1m2 0h1m3 0h1m3 0h1m4 0h2m3 0h4m2 0h1m5 0h1m6 0h2m2 0h2m1 0h1m1 0h1m2 0h1m3 0h1m3 0h1m1 0h1m2 0h1m2 0h1M138 412h1m1 0h3m2 0h2m6 0h1m3 0h2m3 0h2m2 0h1m1 0h3m2 0h1m1 0h1m1 0h1m1 0h1m1 0h2m1 0h1m1 0h1m1 0h1m2 0h1m3 0h1m1 0h1m3 0h1m1 0h1m1 0h1m2 0h1m3 0h3m1 0h1m1 0h1m4 0h1m2 0h3m1 0h2m2 0h1m1 0h2m1 0h5m1 0h1m2 0h1m2 0h1m1 0h1m2 0h4m2 0h1m6 0h2m5 0h4m4 0h3m1 0h2m4 0h2m1 0h2m1 0h1m4 0h1m2 0h1m2 0h4m2 0h1m2 0h2m2 0h1m1 0h1m2 0h1m1 0h1m1 0h1m1 0h4m1 0h3m1 0h1m4 0h2m1 0h2m2 0h4m2 0h3m7 0h4m2 0h2m1 0h4m2 0h2m3 0h1m3 0h1m2 0h1m1 0h1m4 0h2m1 0h2m3 0h3m1 0h3m2 0h1m6 0h1m4 0h1m4 0h2m2 0h1M134 413h1m3 0h1m1 0h1m2 0h1m1 0h1m2 0h1m3 0h1m1 0h1m1 0h1m1 0h2m1 0h2m1 0h1m1 0h6m3 0h1m2 0h1m3 0h1m1 0h1m1 0h1m4 0h1m2 0h1m1 0h1m1 0h1m1 0h1m1 0h2m2 0h4m2 0h1m1 0h1m2 0h2m5 0h1m1 0h2m7 0h1m1 0h1m1 0h1m1 0h3m2 0h1m2 0h3m1 0h1m3 0h2m1 0h1m1 0h1m2 0h1m2 0h1m1 0h3m1 0h1m2 0h2m4 0h1m1 0h2m2 0h1m2 0h2m3 0h1m2 0h1m1 0h1m5 0h1m1 0h1m1 0h1m2 0h2m1 0h3m1 0h2m3 0h2m1 0h2m1 0h1m7 0h2m5 0h3m1 0h1m1 0h1m1 0h2m1 0h1m2 0h2m8 0h2m1 0h1m3 0h4m4 0h1m1 0h1m2 0h3m4 0h2m1 0h1m2 0h1m1 0h7m3 0h3m1 0h1m5 0h1m1 0h5m1 0h3m1 0h2M133 414h1m1 0h1m1 0h3m3 0h1m3 0h1m7 0h2m2 0h2m1 0h4m1 0h3m5 0h2m5 0h1m4 0h1m2 0h1m1 0h2m1 0h1m1 0h3m4 0h1m1 0h1m1 0h1m1 0h2m2 0h2m1 0h1m3 0h2m1 0h2m4 0h4m3 0h1m4 0h5m1 0h2m2 0h1m1 0h1m5 0h1m2 0h1m2 0h3m3 0h1m2 0h1m3 0h1m1 0h2m3 0h4m2 0h3m3 0h1m2 0h2m1 0h1m3 0h1m3 0h4m2 0h2m1 0h3m1 0h8m2 0h2m2 0h3m1 0h3m1 0h1m3 0h2m2 0h4m1 0h2m1 0h1m2 0h4m5 0h1m1 0h1m1 0h1m8 0h1m2 0h3m1 0h3m1 0h2m1 0h2m2 0h1m1 0h4m1 0h2m2 0h1m1 0h1m2 0h1m2 0h1m2 0h4m1 0h1m3 0h3m4 0h1M133 415h3m1 0h4m2 0h1m1 0h1m1 0h5m3 0h2m1 0h2m4 0h1m2 0h2m5 0h4m1 0h1m3 0h1m2 0h3m2 0h1m1 0h1m1 0h1m2 0h2m1 0h3m2 0h1m2 0h3m2 0h2m7 0h1m4 0h1m1 0h2m3 0h1m3 0h1m2 0h3m1 0h2m3 0h1m4 0h1m2 0h1m1 0h3m1 0h1m2 0h4m2 0h5m3 0h3m2 0h1m1 0h1m2 0h6m4 0h3m6 0h5m1 0h6m1 0h1m2 0h2m2 0h3m4 0h2m1 0h1m4 0h3m1 0h5m2 0h2m2 0h1m2 0h4m2 0h4m4 0h2m3 0h5m1 0h1m1 0h2m2 0h2m2 0h1m2 0h3m1 0h2m1 0h5m1 0h3m1 0h2m1 0h2m1 0h1m2 0h3m1 0h2m3 0h3M133 416h3m1 0h1m1 0h1m3 0h1m2 0h1m1 0h1m2 0h1m1 0h2m2 0h1m1 0h4m3 0h2m2 0h2m1 0h4m1 0h1m1 0h2m1 0h1m2 0h1m2 0h4m1 0h3m1 0h2m1 0h1m8 0h7m2 0h2m1 0h1m1 0h1m1 0h1m1 0h3m1 0h2m1 0h1m1 0h1m1 0h1m1 0h3m1 0h4m2 0h1m2 0h1m1 0h8m1 0h1m2 0h1m1 0h2m2 0h1m2 0h1m3 0h5m6 0h3m1 0h1m2 0h2m4 0h1m1 0h1m2 0h7m1 0h1m2 0h3m2 0h2m1 0h1m4 0h6m2 0h2m2 0h1m4 0h1m1 0h1m1 0h3m1 0h2m1 0h2m2 0h1m2 0h3m1 0h4m2 0h1m2 0h2m1 0h3m1 0h2m1 0h1m3 0h3m1 0h2m1 0h3m1 0h1m1 0h9m2 0h2m1 0h1m3 0h2m3 0h2m1 0h2m1 0h3m1 0h1m1 0h1M133 417h1m4 0h1m2 0h1m1 0h3m2 0h1m1 0h1m2 0h6m2 0h5m1 0h3m1 0h3m1 0h2m1 0h2m1 0h4m2 0h2m1 0h1m1 0h5m1 0h1m2 0h1m1 0h1m1 0h1m1 0h3m2 0h2m4 0h4m1 0h2m1 0h1m2 0h1m1 0h4m3 0h2m1 0h2m1 0h2m1 0h1m1 0h2m1 0h1m1 0h5m1 0h3m1 0h1m1 0h3m1 0h1m3 0h2m1 0h5m1 0h1m1 0h1m3 0h3m1 0h1m1 0h2m3 0h2m3 0h2m3 0h3m1 0h2m2 0h4m1 0h6m3 0h5m1 0h2m1 0h2m1 0h5m1 0h5m1 0h5m1 0h1m1 0h1m2 0h3m3 0h1m2 0h1m1 0h4m1 0h1m1 0h2m3 0h1m2 0h1m1 0h12m2 0h3m3 0h2m3 0h1m1 0h1m2 0h1m1 0h1m7 0h3m1 0h1m2 0h1M135 418h1m1 0h5m1 0h4m1 0h4m1 0h2m1 0h1m1 0h4m2 0h3m1 0h6m1 0h1m1 0h1m1 0h1m1 0h2m2 0h4m4 0h1m1 0h1m2 0h1m1 0h7m1 0h5m3 0h1m2 0h3m1 0h1m2 0h1m2 0h2m1 0h2m1 0h3m1 0h6m1 0h2m1 0h2m2 0h1m1 0h4m1 0h2m1 0h2m1 0h4m4 0h6m1 0h1m1 0h2m1 0h4m1 0h7m1 0h3m1 0h1m1 0h3m1 0h2m1 0h1m1 0h1m4 0h3m1 0h6m4 0h2m1 0h3m3 0h3m1 0h3m1 0h3m1 0h6m4 0h1m2 0h3m1 0h2m3 0h1m1 0h5m1 0h5m1 0h3m2 0h11m3 0h4m1 0h4m2 0h1m1 0h9m1 0h1m1 0h1m1 0h2m1 0h1m2 0h3M133 419h3m1 0h1m1 0h1m1 0h1m7 0h1m1 0h1m1 0h2m1 0h3m1 0h2m2 0h1m3 0h2m1 0h3m1 0h1m1 0h2m1 0h2m1 0h2m5 0h1m1 0h1m1 0h1m1 0h5m1 0h4m2 0h3m1 0h2m2 0h2m2 0h1m1 0h1m1 0h1m4 0h1m4 0h9m1 0h1m3 0h7m2 0h5m1 0h1m4 0h1m1 0h2m1 0h2m1 0h2m3 0h4m2 0h5m3 0h3m1 0h7m1 0h4m1 0h2m4 0h1m1 0h3m1 0h1m1 0h1m1 0h1m1 0h1m1 0h1m2 0h1m1 0h2m1 0h2m1 0h1m2 0h3m1 0h3m2 0h2m1 0h2m3 0h1m2 0h1m3 0h5m1 0h1m1 0h4m1 0h1m3 0h5m1 0h3m1 0h2m1 0h2m4 0h1m1 0h2m1 0h7m1 0h2m1 0h1m1 0h1m1 0h2m1 0h1m3 0h6m1 0h5M134 420h5m1 0h2m3 0h1m1 0h4m1 0h3m2 0h1m3 0h3m2 0h5m1 0h1m1 0h10m1 0h4m2 0h1m2 0h1m1 0h1m1 0h5m1 0h7m1 0h1m1 0h4m1 0h2m2 0h1m1 0h4m1 0h1m1 0h4m1 0h2m1 0h3m1 0h6m1 0h1m1 0h1m1 0h9m1 0h3m1 0h5m1 0h1m3 0h4m2 0h2m2 0h3m1 0h5m4 0h2m1 0h2m2 0h14m1 0h1m1 0h1m1 0h6m1 0h3m2 0h6m1 0h2m1 0h9m2 0h3m1 0h1m1 0h4m1 0h4m1 0h1m1 0h2m2 0h4m1 0h4m1 0h1m1 0h5m2 0h1m3 0h1m1 0h6m1 0h3m1 0h4m2 0h5m1 0h5m1 0h1m2 0h2m1 0h2M133 421h5m1 0h1m4 0h4m1 0h2m2 0h1m2 0h8m3 0h1m2 0h2m5 0h3m1 0h3m1 0h1m1 0h1m1 0h1m3 0h2m2 0h8m1 0h9m1 0h1m1 0h8m1 0h2m1 0h3m1 0h2m2 0h1m1 0h4m1 0h2m2 0h3m2 0h6m1 0h1m1 0h5m1 0h4m1 0h8m1 0h3m2 0h1m1 0h3m2 0h1m1 0h1m1 0h2m1 0h2m1 0h2m1 0h2m1 0h3m1 0h1m1 0h1m1 0h1m1 0h1m3 0h2m1 0h2m1 0h1m1 0h3m2 0h2m3 0h2m1 0h5m1 0h5m1 0h6m1 0h5m1 0h3m2 0h3m4 0h4m7 0h2m1 0h12m3 0h2m2 0h5m1 0h9m1 0h2m3 0h3m1 0h1m1 0h1M133 422h5m2 0h1m1 0h1m1 0h4m1 0h5m1 0h9m1 0h1m1 0h1m4 0h10m1 0h9m2 0h1m4 0h1m1 0h3m2 0h3m1 0h1m2 0h3m2 0h4m2 0h2m1 0h1m3 0h1m1 0h1m1 0h2m2 0h3m2 0h1m4 0h1m1 0h1m1 0h1m1 0h3m2 0h2m3 0h2m2 0h3m1 0h3m2 0h1m1 0h4m1 0h1m2 0h2m1 0h6m2 0h1m4 0h1m1 0h2m1 0h1m1 0h6m2 0h2m4 0h2m1 0h4m2 0h1m2 0h1m1 0h2m1 0h2m1 0h1m1 0h3m1 0h7m1 0h2m1 0h4m1 0h4m1 0h1m1 0h6m1 0h1m1 0h2m4 0h3m2 0h1m1 0h2m1 0h1m1 0h1m1 0h7m1 0h8m6 0h3m1 0h4m1 0h1m2 0h1m2 0h1m1 0h3M133 423h2m1 0h2m1 0h9m1 0h6m1 0h3m1 0h1m1 0h2m2 0h1m1 0h2m1 0h1m2 0h2m1 0h1m1 0h4m1 0h1m1 0h5m1 0h3m1 0h5m1 0h1m4 0h2m1 0h2m1 0h9m1 0h1m1 0h3m1 0h4m4 0h1m2 0h5m4 0h2m1 0h5m3 0h2m1 0h2m1 0h1m1 0h4m1 0h1m1 0h3m1 0h6m1 0h1m1 0h5m1 0h3m1 0h4m2 0h2m1 0h1m1 0h4m2 0h1m1 0h3m1 0h3m1 0h3m1 0h3m1 0h3m1 0h5m1 0h2m1 0h2m1 0h1m1 0h1m1 0h3m4 0h3m3 0h1m1 0h2m2 0h2m1 0h1m1 0h1m1 0h3m1 0h1m1 0h2m1 0h3m1 0h2m1 0h1m1 0h1m1 0h1m1 0h4m5 0h2m2 0h2m2 0h3m1 0h2m1 0h1m1 0h3m1 0h2m1 0h7m2 0h2M134 424h1m1 0h1m2 0h5m1 0h1m3 0h3m2 0h4m1 0h1m2 0h4m5 0h2m2 0h1m1 0h1m1 0h1m2 0h4m1 0h1m1 0h1m1 0h1m2 0h7m2 0h2m3 0h1m1 0h2m1 0h3m1 0h3m1 0h1m1 0h1m1 0h2m2 0h3m2 0h7m3 0h2m2 0h5m4 0h3m1 0h4m3 0h1m2 0h2m1 0h1m2 0h1m1 0h1m1 0h2m3 0h4m1 0h5m1 0h2m1 0h1m1 0h1m1 0h5m1 0h2m1 0h2m5 0h6m4 0h2m1 0h2m1 0h2m2 0h4m2 0h3m1 0h3m2 0h1m2 0h2m2 0h1m1 0h1m4 0h5m5 0h2m1 0h1m1 0h3m1 0h2m1 0h1m1 0h2m2 0h3m2 0h2m2 0h5m1 0h4m1 0h1m1 0h2m4 0h3m2 0h2m1 0h2m1 0h2m2 0h1m1 0h2M133 425h4m1 0h2m1 0h3m2 0h2m2 0h1m1 0h2m6 0h6m1 0h2m1 0h2m1 0h1m2 0h2m2 0h2m4 0h2m1 0h1m2 0h6m6 0h3m7 0h2m1 0h1m1 0h1m1 0h1m5 0h1m1 0h1m1 0h3m3 0h4m1 0h2m4 0h2m3 0h1m2 0h3m2 0h1m1 0h2m4 0h1m2 0h1m1 0h3m1 0h3m2 0h4m4 0h1m1 0h1m1 0h1m1 0h1m2 0h1m1 0h5m1 0h1m1 0h1m1 0h1m2 0h4m4 0h3m2 0h5m1 0h1m1 0h2m2 0h2m3 0h2m1 0h1m2 0h4m3 0h3m2 0h1m1 0h2m4 0h4m1 0h2m1 0h1m2 0h3m2 0h1m3 0h3m1 0h1m1 0h1m1 0h2m1 0h1m2 0h4m2 0h1m1 0h1m1 0h3m1 0h1m4 0h1m2 0h1m2 0h3m1 0h2m1 0h3m2 0h1M134 426h5m1 0h2m1 0h1m2 0h1m1 0h3m1 0h1m3 0h1m4 0h2m3 0h2m1 0h3m1 0h1m1 0h1m1 0h4m2 0h3m8 0h1m1 0h2m1 0h2m2 0h4m1 0h2m1 0h4m1 0h1m1 0h1m3 0h1m4 0h2m2 0h2m3 0h7m2 0h2m1 0h3m2 0h1m1 0h2m2 0h1m1 0h4m1 0h1m1 0h1m3 0h3m4 0h2m2 0h2m3 0h1m1 0h1m7 0h8m1 0h2m2 0h1m1 0h6m1 0h4m5 0h1m1 0h1m1 0h1m1 0h3m1 0h1m3 0h2m1 0h1m4 0h2m8 0h1m2 0h4m8 0h2m2 0h1m8 0h2m2 0h1m4 0h1m1 0h4m1 0h8m2 0h1m2 0h1m1 0h1m3 0h5m2 0h2m2 0h5m1 0h2m1 0h1M135 427h3m1 0h1m3 0h3m2 0h1m1 0h4m1 0h1m1 0h3m1 0h2m7 0h2m7 0h1m1 0h2m1 0h1m1 0h1m7 0h1m1 0h1m1 0h6m2 0h1m3 0h1m2 0h1m2 0h3m2 0h2m2 0h1m2 0h1m2 0h1m2 0h1m2 0h2m3 0h1m2 0h1m1 0h2m1 0h3m4 0h4m2 0h2m1 0h3m2 0h1m4 0h2m1 0h2m2 0h3m8 0h1m3 0h1m3 0h2m2 0h1m4 0h2m1 0h4m1 0h2m1 0h1m2 0h2m4 0h1m1 0h1m2 0h1m3 0h1m1 0h1m1 0h1m1 0h1m1 0h1m2 0h1m3 0h3m1 0h2m1 0h2m6 0h1m1 0h3m2 0h2m2 0h1m2 0h2m1 0h3m2 0h1m3 0h3m2 0h1m3 0h3m1 0h2m2 0h1m1 0h1m4 0h6m2 0h3m1 0h2m1 0h1m4 0h1m1 0h1m1 0h1M136 428h1m6 0h1m1 0h2m7 0h1m2 0h1m1 0h1m7 0h1m1 0h2m2 0h1m2 0h4m3 0h3m1 0h1m1 0h1m4 0h2m1 0h1m4 0h1m2 0h1m1 0h1m5 0h1m1 0h1m1 0h3m2 0h1m7 0h6m1 0h2m1 0h2m2 0h1m5 0h2m2 0h1m3 0h1m1 0h1m2 0h5m3 0h1m1 0h2m1 0h1m1 0h1m4 0h2m1 0h3m2 0h2m1 0h2m1 0h2m8 0h1m2 0h1m1 0h1m4 0h1m2 0h2m3 0h6m5 0h1m2 0h1m2 0h1m1 0h3m1 0h1m1 0h1m1 0h1m1 0h1m5 0h1m1 0h3m1 0h1m1 0h3m8 0h1m6 0h4m2 0h1m4 0h1m1 0h1m4 0h3m5 0h5m4 0h1m6 0h1m2 0h3m2 0h2m2 0h2m1 0h1M134 429h1m2 0h1m4 0h1m1 0h1m1 0h1m7 0h1m1 0h1m1 0h2m7 0h5m3 0h1m3 0h2m2 0h1m4 0h3m1 0h3m4 0h1m2 0h1m6 0h1m1 0h1m4 0h1m4 0h3m1 0h1m5 0h1m4 0h3m2 0h1m2 0h1m1 0h1m1 0h1m1 0h2m2 0h1m1 0h2m4 0h1m1 0h3m2 0h1m1 0h2m3 0h1m1 0h2m2 0h1m3 0h3m1 0h2m2 0h1m5 0h1m1 0h1m2 0h1m3 0h1m1 0h1m2 0h1m1 0h1m3 0h6m2 0h1m2 0h1m3 0h1m3 0h1m2 0h2m2 0h1m2 0h1m1 0h1m2 0h1m3 0h1m3 0h1m1 0h3m3 0h1m1 0h1m4 0h1m3 0h1m1 0h1m1 0h2m2 0h2m2 0h1m2 0h2m1 0h1m1 0h1m1 0h4m4 0h2m2 0h1m8 0h1m4 0h3m4 0h2m1 0h1m2 0h1m1 0h1M136 430h2m4 0h1m8 0h2m4 0h1m1 0h1m1 0h2m2 0h2m1 0h1m2 0h1m1 0h1m1 0h2m1 0h1m1 0h1m2 0h1m1 0h3m1 0h3m2 0h1m1 0h1m2 0h1m1 0h2m2 0h1m8 0h4m4 0h1m3 0h1m5 0h1m1 0h1m3 0h1m2 0h4m2 0h3m1 0h1m1 0h1m2 0h1m2 0h1m1 0h1m1 0h1m2 0h1m1 0h2m5 0h1m4 0h6m2 0h3m4 0h10m1 0h1m2 0h1m6 0h1m3 0h2m2 0h1m1 0h1m2 0h2m1 0h1m1 0h1m1 0h1m7 0h1m3 0h1m3 0h3m1 0h1m2 0h1m4 0h1m1 0h1m5 0h5m7 0h1m3 0h2m1 0h1m4 0h2m2 0h2m6 0h2m3 0h2m1 0h2m1 0h1m1 0h3m1 0h1m2 0h1m1 0h1m1 0h2m1 0h1m1 0h1m2 0h1m1 0h2M133 431h1m1 0h1m2 0h1m4 0h1m2 0h1m1 0h1m2 0h3m4 0h1m13 0h1m5 0h1m3 0h1m1 0h3m3 0h1m3 0h1m2 0h1m3 0h1m1 0h1m5 0h1m6 0h1m2 0h2m5 0h1m7 0h1m2 0h1m1 0h2m2 0h1m1 0h1m3 0h2m2 0h1m3 0h3m2 0h1m1 0h1m3 0h1m1 0h1m8 0h2m1 0h2m2 0h1m9 0h4m7 0h1m2 0h1m1 0h1m6 0h1m5 0h1m4 0h2m1 0h1m2 0h1m4 0h1m1 0h1m1 0h2m1 0h3m1 0h1m1 0h1m5 0h1m2 0h2m1 0h1m5 0h1m8 0h9m3 0h1m1 0h2m6 0h1m5 0h1m2 0h4m1 0h2m1 0h2m1 0h2m2 0h1m1 0h1m2 0h2m1 0h4m3 0h2M134 432h4m6 0h1m2 0h1m7 0h1m1 0h2m1 0h1m1 0h1m11 0h1m3 0h2m4 0h2m1 0h1m1 0h1m3 0h3m7 0h3m2 0h1m9 0h2m1 0h1m4 0h1m9 0h1m1 0h1m3 0h1m2 0h1m3 0h2m1 0h1m1 0h1m1 0h1m2 0h2m1 0h1m1 0h3m1 0h1m4 0h1m1 0h1m1 0h1m1 0h1m6 0h1m7 0h1m4 0h2m2 0h1m2 0h1m3 0h1m1 0h1m2 0h1m7 0h1m2 0h1m1 0h2m1 0h1m1 0h1m3 0h1m3 0h3m10 0h2m4 0h2m1 0h1m3 0h1m2 0h2m2 0h1m5 0h2m2 0h1m1 0h1m3 0h1m6 0h1m1 0h1m1 0h3m1 0h1m2 0h1m2 0h1m1 0h1m6 0h2m4 0h2m10 0h2M133 433h1m1 0h2m7 0h1m12 0h1m4 0h1m1 0h1m4 0h1m3 0h3m2 0h1m5 0h4m6 0h1m5 0h1m2 0h1m6 0h1m3 0h3m6 0h1m1 0h4m7 0h1m6 0h1m7 0h1m1 0h2m3 0h1m9 0h3m4 0h1m1 0h1m12 0h3m1 0h1m3 0h1m1 0h2m2 0h1m4 0h2m6 0h1m1 0h1m3 0h2m3 0h1m1 0h1m7 0h1m4 0h1m2 0h1m6 0h3m1 0h1m3 0h1m1 0h1m1 0h2m1 0h1m2 0h1m4 0h1m6 0h1m3 0h1m2 0h2m2 0h1m6 0h1m10 0h5m9 0h1m2 0h2m1 0h1m3 0h1m4 0h1m2 0h1M139 434h1m1 0h1m1 0h1m1 0h1m6 0h1m5 0h1m1 0h1m2 0h2m2 0h3m2 0h1m10 0h1m1 0h1m4 0h1m1 0h1m2 0h1m5 0h1m1 0h1m7 0h2m11 0h1m1 0h1m3 0h1m2 0h1m2 0h1m3 0h2m1 0h1m1 0h1m2 0h1m2 0h1m15 0h1m1 0h1m4 0h1m1 0h1m2 0h1m1 0h2m1 0h1m16 0h1m5 0h2m1 0h1m1 0h2m1 0h1m3 0h1m2 0h1m2 0h1m6 0h1m1 0h1m1 0h1m2 0h1m2 0h2m1 0h2m1 0h1m3 0h1m1 0h1m2 0h1m1 0h1m2 0h1m2 0h3m4 0h1m1 0h1m8 0h1m3 0h1m5 0h2m2 0h1m9 0h1m1 0h2m2 0h2m11 0h1m1 0h1m1 0h1m1 0h1m1 0h1m1 0h1m1 0h1M135 435h2m3 0h1m3 0h1m5 0h1m3 0h1m1 0h2m8 0h2m2 0h1m7 0h1m5 0h2m1 0h1m12 0h1m4 0h1m2 0h1m10 0h2m2 0h1m4 0h2m6 0h4m2 0h1m9 0h1m8 0h2m1 0h1m9 0h1m4 0h2m2 0h2m1 0h1m3 0h3m8 0h2m6 0h2m2 0h1m6 0h1m12 0h2m2 0h1m1 0h1m1 0h1m2 0h1m2 0h2m2 0h1m1 0h1m2 0h1m6 0h1m2 0h1m4 0h1m3 0h1m1 0h2m11 0h1m1 0h1m4 0h2m8 0h1m6 0h2m2 0h1m2 0h1m4 0h1m2 0h1m3 0h2m5 0h1M133 436h1m3 0h1m9 0h2m1 0h1m3 0h1m10 0h1m1 0h1m14 0h1m8 0h1m7 0h1m1 0h1m2 0h1m4 0h1m1 0h1m3 0h1m5 0h1m1 0h1m2 0h1m11 0h1m2 0h1m5 0h1m20 0h1m4 0h2m6 0h1m19 0h1m2 0h1m5 0h1m5 0h1m2 0h1m2 0h1m6 0h1m4 0h1m5 0h1m4 0h1m3 0h1m1 0h1m1 0h1m1 0h1m1 0h1m9 0h1m5 0h1m6 0h1m1 0h3m4 0h1m13 0h1m2 0h1m6 0h1m1 0h1m3 0h3m12 0h1m4 0h1M139 437h2m2 0h1m4 0h1m13 0h1m9 0h1m2 0h5m17 0h1m6 0h2m9 0h1m10 0h2m12 0h1m2 0h2m7 0h1m1 0h1m10 0h1m23 0h1m4 0h1m12 0h1m5 0h2m2 0h1m21 0h1m13 0h1m7 0h1m2 0h2m1 0h2m9 0h1m4 0h1m11 0h1m1 0h2m19 0h1m2 0h1m15 0h1M133 438h1m5 0h2m9 0h1m4 0h1m2 0h1m10 0h1m8 0h1m4 0h1m4 0h2m7 0h1m3 0h1m3 0h2m21 0h2m8 0h1m23 0h1m9 0h1m9 0h1m12 0h1m23 0h1m17 0h1m2 0h1m11 0h1m9 0h1m13 0h1m13 0h2m12 0h1m15 0h1m3 0h1m1 0h1m2 0h1m1 0h1m4 0h1M138 439h2m1 0h1m4 0h1m4 0h1m8 0h1m18 0h1m18 0h1m6 0h1m28 0h1m1 0h1m26 0h1m11 0h1m4 0h2m14 0h1m2 0h1m6 0h1m10 0h1m11 0h3m13 0h1m32 0h1m2 0h1m2 0h1m2 0h1m17 0h1m31 0h1M140 440h1m28 0h1m11 0h1m24 0h1m4 0h1m16 0h1m11 0h1m2 0h1m15 0h1m50 0h1m28 0h1m33 0h1m33 0h1M159 441h1m89 0h1M302 52h1"/>
<use href="#d0" x="1" y="0" opacity="0.13"/>
<use href="#d0" x="-1" y="0" opacity="0.13"/>
<use href="#d0" x="0" y="1" opacity="0.13"/>
<use href="#d0" x="0" y="-1" opacity="0.13"/>
</g>
<path d="M93.5 32.0V462.0M93.0 461.5H483.8" stroke="#000" stroke-width="1.1" fill="none"/>
<path d="M88.1 443.5H93.0M88.1 351.5H93.0M88.1 258.5H93.0M88.1 166.5H93.0M88.1 73.5H93.0M289.5 461.5v5.4" stroke="#000" stroke-width="1.1" fill="none"/>
<path d="M782.7,51.8L782.7,52.3L782.7,52.8L782.7,53.3L782.7,53.8L782.7,54.3L782.7,54.8L782.7,55.3L782.7,55.8L782.7,56.3L782.7,56.8L782.7,57.3L782.7,57.8L782.7,58.3L782.7,58.8L782.7,59.3L782.7,59.8L782.7,60.3L782.7,60.8L782.7,61.3L782.7,61.8L782.7,62.3L782.7,62.8L782.7,63.3L782.7,63.8L782.7,64.3L782.7,64.8L782.7,65.3L782.7,65.8L782.7,66.3L782.7,66.8L782.7,67.3L782.7,67.8L782.7,68.3L782.7,68.8L782.7,69.3L782.7,69.8L782.7,70.3L782.7,70.8L782.7,71.3L782.7,71.8L782.7,72.3L782.7,72.8L782.7,73.3L782.7,73.8L782.7,74.3L782.7,74.8L782.7,75.3L782.7,75.8L782.7,76.3L782.7,76.8L782.7,77.3L782.7,77.8L782.7,78.3L782.7,78.8L782.7,79.3L782.7,79.8L782.7,80.3L782.7,80.8L782.7,81.3L782.7,81.8L782.7,82.3L782.7,82.8L782.7,83.3L782.7,83.8L782.7,84.3L782.7,84.8L782.7,85.3L782.7,85.8L782.7,86.3L782.7,86.8L782.7,87.3L782.7,87.8L782.7,88.3L782.7,88.8L782.7,89.3L782.7,89.8L782.7,90.3L782.7,90.8L782.7,91.3L782.7,91.8L782.7,92.3L782.7,92.8L782.7,93.3L782.7,93.8L782.7,94.3L782.7,94.8L782.7,95.3L782.7,95.8L782.7,96.3L782.7,96.8L782.7,97.3L782.7,97.8L782.7,98.3L782.7,98.8L782.7,99.3L782.7,99.8L782.7,100.3L782.7,100.8L782.7,101.3L782.7,101.8L782.7,102.3L782.7,102.8L782.7,103.3L782.7,103.8L782.7,104.3L782.7,104.8L782.7,105.3L782.7,105.8L782.7,106.3L782.7,106.8L782.7,107.3L782.7,107.8L782.7,108.3L782.7,108.8L782.7,109.3L782.7,109.8L782.7,110.3L782.7,110.8L782.7,111.3L782.7,111.8L782.7,112.3L782.7,112.8L782.7,113.3L782.7,113.8L782.7,114.3L782.7,114.8L782.7,115.3L782.7,115.8L782.7,116.3L782.7,116.8L782.7,117.3L782.7,117.8L782.7,118.3L782.7,118.8L782.7,119.3L782.7,119.8L782.7,120.3L782.7,120.8L782.7,121.3L782.7,121.8L782.7,122.3L782.7,122.8L782.7,123.3L782.7,123.8L782.7,124.3L782.7,124.8L782.7,125.3L782.7,125.8L782.7,126.3L782.7,126.8L782.7,127.3L782.7,127.8L782.7,128.3L782.7,128.8L782.7,129.3L782.7,129.8L782.7,130.3L782.7,130.8L782.7,131.3L782.7,131.8L782.7,132.3L782.7,132.8L782.7,133.3L782.7,133.8L782.7,134.3L782.7,134.8L782.7,135.3L782.7,135.8L782.7,136.3L782.7,136.8L782.7,137.3L782.7,137.8L782.7,138.3L782.7,138.8L782.7,139.3L782.7,139.8L782.7,140.3L782.7,140.8L782.7,141.3L782.7,141.8L782.7,142.3L782.7,142.8L782.7,143.3L782.7,143.8L782.7,144.3L782.7,144.8L782.7,145.3L782.7,145.8L782.7,146.3L782.7,146.8L782.7,147.3L782.7,147.8L782.7,148.3L782.7,148.8L782.7,149.3L782.7,149.8L782.7,150.3L782.7,150.8L782.7,151.3L782.7,151.8L782.7,152.3L782.7,152.8L782.7,153.3L782.7,153.8L782.7,154.3L782.7,154.8L782.7,155.3L782.7,155.8L782.7,156.3L782.7,156.8L782.7,157.3L782.7,157.8L782.7,158.3L782.7,158.8L782.7,159.3L782.7,159.8L782.7,160.3L782.7,160.8L782.7,161.3L782.7,161.8L782.7,162.3L782.7,162.8L782.7,163.3L782.7,163.8L782.7,164.3L782.7,164.8L782.7,165.3L782.7,165.8L782.7,166.3L782.7,166.8L782.7,167.3L782.7,167.8L782.7,168.3L782.7,168.8L782.7,169.3L782.7,169.8L782.7,170.3L782.7,170.8L782.7,171.3L782.7,171.8L782.7,172.3L782.7,172.8L782.7,173.3L782.7,173.8L782.7,174.3L782.7,174.8L782.7,175.3L782.7,175.8L782.7,176.3L782.7,176.8L782.7,177.3L782.7,177.8L782.7,178.3L782.7,178.8L782.7,179.3L782.7,179.8L782.7,180.3L782.7,180.8L782.7,181.3L782.7,181.8L782.7,182.3L782.7,182.8L782.7,183.3L782.7,183.8L782.7,184.3L782.7,184.8L782.7,185.3L782.7,185.8L782.7,186.3L782.7,186.8L782.7,187.3L782.7,187.8L782.7,188.3L782.7,188.8L782.7,189.3L782.7,189.8L782.7,190.3L782.7,190.8L782.7,191.3L782.7,191.8L782.7,192.3L782.7,192.8L782.7,193.3L782.7,193.8L782.7,194.3L782.7,194.8L782.7,195.3L782.7,195.8L782.7,196.3L782.7,196.8L782.7,197.3L782.7,197.8L782.7,198.3L782.7,198.8L782.7,199.3L782.7,199.8L782.7,200.3L782.7,200.8L782.7,201.3L782.7,201.8L782.7,202.3L782.7,202.8L782.7,203.3L782.7,203.8L782.7,204.3L782.7,204.8L782.7,205.3L782.7,205.8L782.7,206.3L782.7,206.8L782.7,207.3L782.7,207.8L782.7,208.3L782.7,208.8L782.7,209.3L782.7,209.8L782.7,210.3L782.7,210.8L782.7,211.3L782.7,211.8L782.7,212.3L782.7,212.8L782.7,213.3L782.7,213.8L782.7,214.3L782.7,214.8L782.7,215.3L782.7,215.8L782.7,216.3L782.7,216.8L782.7,217.3L782.7,217.8L782.7,218.3L782.7,218.8L782.7,219.3L782.7,219.8L782.7,220.3L782.7,220.8L782.7,221.3L782.7,221.8L782.7,222.3L782.7,222.8L782.7,223.3L782.7,223.8L782.7,224.3L782.7,224.8L782.7,225.3L782.7,225.8L782.7,226.3L782.7,226.8L782.7,227.3L782.7,227.8L782.7,228.3L782.7,228.8L782.7,229.3L782.7,229.8L782.7,230.3L782.7,230.8L782.7,231.3L782.7,231.8L782.7,232.3L782.7,232.8L782.7,233.3L782.7,233.8L782.7,234.3L782.7,234.8L782.7,235.3L782.7,235.8L782.7,236.3L782.7,236.8L782.7,237.3L782.7,237.8L782.7,238.3L782.7,238.8L782.7,239.3L782.7,239.8L782.7,240.3L782.7,240.8L782.7,241.3L782.7,241.8L782.7,242.3L782.7,242.8L782.7,243.3L782.7,243.8L782.7,244.3L782.7,244.8L782.7,245.3L782.7,245.8L782.7,246.3L782.7,246.8L782.7,247.3L782.7,247.8L782.7,248.3L782.7,248.8L782.7,249.3L782.7,249.8L782.7,250.3L782.7,250.8L782.7,251.3L782.7,251.8L782.7,252.3L782.7,252.8L782.7,253.3L782.7,253.8L782.7,254.3L782.7,254.8L782.7,255.3L782.7,255.8L782.7,256.3L782.7,256.8L782.7,257.3L782.7,257.8L782.7,258.3L782.7,258.8L782.7,259.3L782.7,259.8L782.7,260.3L782.7,260.8L782.7,261.3L782.7,261.8L782.7,262.3L782.7,262.8L782.7,263.3L782.7,263.8L782.7,264.3L782.7,264.8L782.7,265.3L782.7,265.8L782.7,266.3L782.7,266.8L782.7,267.3L782.7,267.8L782.7,268.3L782.7,268.8L782.7,269.3L782.7,269.8L782.7,270.3L782.7,270.8L782.7,271.3L782.7,271.8L782.7,272.3L782.7,272.8L782.7,273.3L782.7,273.8L782.7,274.3L782.7,274.8L782.7,275.3L782.7,275.8L782.7,276.3L782.7,276.8L782.7,277.3L782.7,277.8L782.7,278.3L782.7,278.8L782.7,279.3L782.7,279.8L782.7,280.3L782.7,280.8L782.7,281.3L782.7,281.8L782.7,282.3L782.7,282.8L782.7,283.3L782.7,283.8L782.7,284.3L782.7,284.8L782.7,285.3L782.7,285.8L782.7,286.3L782.7,286.8L782.7,287.3L782.7,287.8L782.7,288.3L782.7,288.8L782.7,289.3L782.7,289.8L782.7,290.3L782.7,290.8L782.7,291.3L782.7,291.8L782.7,292.3L782.7,292.8L782.7,293.3L782.7,293.8L782.7,294.3L782.7,294.8L782.7,295.3L782.7,295.8L782.7,296.3L782.7,296.8L782.6,297.3L782.6,297.8L782.6,298.3L782.6,298.8L782.6,299.3L782.6,299.8L782.6,300.3L782.6,300.8L782.6,301.3L782.6,301.8L782.6,302.3L782.6,302.8L782.5,303.3L782.5,303.8L782.5,304.3L782.5,304.8L782.5,305.3L782.5,305.8L782.5,306.3L782.5,306.8L782.5,307.3L782.4,307.8L782.4,308.3L782.4,308.8L782.4,309.3L782.4,309.8L782.4,310.3L782.4,310.8L782.4,311.3L782.4,311.8L782.3,312.3L782.3,312.8L782.3,313.3L782.3,313.8L782.3,314.3L782.3,314.8L782.2,315.3L782.2,315.8L782.2,316.3L782.2,316.8L782.1,317.3L782.1,317.8L782.1,318.3L782.1,318.8L782.1,319.3L782.0,319.8L782.0,320.3L782.0,320.8L782.0,321.3L781.9,321.8L781.9,322.3L781.9,322.8L781.9,323.3L781.9,323.8L781.8,324.3L781.8,324.8L781.8,325.3L781.8,325.8L781.7,326.3L781.7,326.8L781.7,327.3L781.7,327.8L781.6,328.3L781.6,328.8L781.6,329.3L781.6,329.8L781.5,330.3L781.5,330.8L781.5,331.3L781.5,331.8L781.4,332.3L781.4,332.8L781.4,333.3L781.4,333.8L781.3,334.3L781.3,334.8L781.3,335.3L781.3,335.8L781.3,336.3L781.2,336.8L781.2,337.3L781.2,337.8L781.2,338.3L781.1,338.8L781.1,339.3L781.1,339.8L781.1,340.3L781.1,340.8L781.1,341.3L781.0,341.8L781.0,342.3L781.0,342.8L781.0,343.3L781.0,343.8L781.0,344.3L781.0,344.8L780.9,345.3L780.9,345.8L780.9,346.3L780.9,346.8L780.9,347.3L780.9,347.8L780.9,348.3L780.8,348.8L780.8,349.3L780.8,349.8L780.8,350.3L780.8,350.8L780.8,351.3L780.7,351.8L780.7,352.3L780.7,352.8L780.7,353.3L780.7,353.8L780.6,354.3L780.6,354.8L780.6,355.3L780.6,355.8L780.6,356.3L780.6,356.8L780.5,357.3L780.5,357.8L780.5,358.3L780.5,358.8L780.5,359.3L780.4,359.8L780.4,360.3L780.4,360.8L780.4,361.3L780.3,361.8L780.3,362.3L780.3,362.8L780.3,363.3L780.2,363.8L780.2,364.3L780.2,364.8L780.1,365.3L780.1,365.8L780.1,366.3L780.0,366.8L780.0,367.3L780.0,367.8L779.9,368.3L779.9,368.8L779.9,369.3L779.8,369.8L779.8,370.3L779.7,370.8L779.7,371.3L779.6,371.8L779.5,372.3L779.4,372.8L779.4,373.3L779.2,373.8L779.1,374.3L779.0,374.8L778.9,375.3L778.7,375.8L778.6,376.3L778.4,376.8L778.3,377.3L778.1,377.8L777.9,378.3L777.7,378.8L777.5,379.3L777.3,379.8L777.1,380.3L776.9,380.8L776.7,381.3L776.5,381.8L776.2,382.3L775.9,382.8L775.6,383.3L775.3,383.8L774.9,384.3L774.5,384.8L774.1,385.3L773.7,385.8L773.3,386.3L772.9,386.8L772.5,387.3L772.1,387.8L771.6,388.3L771.2,388.8L770.7,389.3L770.2,389.8L769.7,390.3L769.2,390.8L768.6,391.3L768.0,391.8L767.3,392.3L766.4,392.8L765.5,393.3L764.5,393.8L763.6,394.3L762.7,394.8L762.0,395.3L761.3,395.8L760.6,396.3L759.9,396.8L759.3,397.3L758.7,397.8L758.0,398.3L757.4,398.8L756.7,399.3L756.1,399.8L755.5,400.3L754.9,400.8L754.3,401.3L753.7,401.8L753.1,402.3L752.6,402.8L752.0,403.3L751.5,403.8L751.0,404.3L750.5,404.8L750.0,405.3L749.6,405.8L749.1,406.3L748.6,406.8L748.2,407.3L747.7,407.8L747.2,408.3L746.7,408.8L746.2,409.3L745.6,409.8L745.1,410.3L744.5,410.8L743.9,411.3L743.3,411.8L742.7,412.3L742.1,412.8L741.5,413.3L740.9,413.8L740.1,414.3L739.4,414.8L738.5,415.3L737.6,415.8L736.6,416.3L735.5,416.8L734.2,417.3L732.7,417.8L730.9,418.3L728.8,418.8L726.2,419.3L721.6,419.8L715.6,420.3L709.7,420.8L703.7,421.3L697.6,421.8L691.9,422.3L686.8,422.8L681.9,423.3L677.3,423.8L673.1,424.3L669.4,424.8L666.3,425.3L663.5,425.8L660.8,426.3L658.5,426.8L656.7,427.3L655.3,427.8L654.1,428.3L653.0,428.8L652.1,429.3L651.3,429.8L650.6,430.3L650.0,430.8L649.5,431.3L649.0,431.8L648.5,432.3L648.0,432.8L647.6,433.3L647.3,433.8L647.0,434.3L646.8,434.8L646.8,435.3L647.4,435.8L648.7,436.3L650.5,436.8L652.7,437.3L654.9,437.8L657.2,438.3L660.1,438.8L663.5,439.3L667.2,439.8L671.3,440.3L676.1,440.8L681.5,441.3L681.5,441.5L884.5,441.5L884.5,441.3L889.9,440.8L894.7,440.3L898.8,439.8L902.5,439.3L905.9,438.8L908.8,438.3L911.1,437.8L913.3,437.3L915.5,436.8L917.3,436.3L918.6,435.8L919.2,435.3L919.2,434.8L919.0,434.3L918.7,433.8L918.4,433.3L918.0,432.8L917.5,432.3L917.0,431.8L916.5,431.3L916.0,430.8L915.4,430.3L914.7,429.8L913.9,429.3L913.0,428.8L911.9,428.3L910.7,427.8L909.3,427.3L907.5,426.8L905.2,426.3L902.5,425.8L899.7,425.3L896.6,424.8L892.9,424.3L888.7,423.8L884.1,423.3L879.2,422.8L874.1,422.3L868.4,421.8L862.3,421.3L856.3,420.8L850.4,420.3L844.4,419.8L839.8,419.3L837.2,418.8L835.1,418.3L833.3,417.8L831.8,417.3L830.5,416.8L829.4,416.3L828.4,415.8L827.5,415.3L826.6,414.8L825.9,414.3L825.1,413.8L824.5,413.3L823.9,412.8L823.3,412.3L822.7,411.8L822.1,411.3L821.5,410.8L820.9,410.3L820.4,409.8L819.8,409.3L819.3,408.8L818.8,408.3L818.3,407.8L817.8,407.3L817.4,406.8L816.9,406.3L816.4,405.8L816.0,405.3L815.5,404.8L815.0,404.3L814.5,403.8L814.0,403.3L813.4,402.8L812.9,402.3L812.3,401.8L811.7,401.3L811.1,400.8L810.5,400.3L809.9,399.8L809.3,399.3L808.6,398.8L808.0,398.3L807.3,397.8L806.7,397.3L806.1,396.8L805.4,396.3L804.7,395.8L804.0,395.3L803.3,394.8L802.4,394.3L801.5,393.8L800.5,393.3L799.6,392.8L798.7,392.3L798.0,391.8L797.4,391.3L796.8,390.8L796.3,390.3L795.8,389.8L795.3,389.3L794.8,388.8L794.4,388.3L793.9,387.8L793.5,387.3L793.1,386.8L792.7,386.3L792.3,385.8L791.9,385.3L791.5,384.8L791.1,384.3L790.7,383.8L790.4,383.3L790.1,382.8L789.8,382.3L789.5,381.8L789.3,381.3L789.1,380.8L788.9,380.3L788.7,379.8L788.5,379.3L788.3,378.8L788.1,378.3L787.9,377.8L787.7,377.3L787.6,376.8L787.4,376.3L787.3,375.8L787.1,375.3L787.0,374.8L786.9,374.3L786.8,373.8L786.6,373.3L786.6,372.8L786.5,372.3L786.4,371.8L786.3,371.3L786.3,370.8L786.2,370.3L786.2,369.8L786.1,369.3L786.1,368.8L786.1,368.3L786.0,367.8L786.0,367.3L786.0,366.8L785.9,366.3L785.9,365.8L785.9,365.3L785.8,364.8L785.8,364.3L785.8,363.8L785.7,363.3L785.7,362.8L785.7,362.3L785.7,361.8L785.6,361.3L785.6,360.8L785.6,360.3L785.6,359.8L785.5,359.3L785.5,358.8L785.5,358.3L785.5,357.8L785.5,357.3L785.4,356.8L785.4,356.3L785.4,355.8L785.4,355.3L785.4,354.8L785.4,354.3L785.3,353.8L785.3,353.3L785.3,352.8L785.3,352.3L785.3,351.8L785.2,351.3L785.2,350.8L785.2,350.3L785.2,349.8L785.2,349.3L785.2,348.8L785.1,348.3L785.1,347.8L785.1,347.3L785.1,346.8L785.1,346.3L785.1,345.8L785.1,345.3L785.0,344.8L785.0,344.3L785.0,343.8L785.0,343.3L785.0,342.8L785.0,342.3L785.0,341.8L784.9,341.3L784.9,340.8L784.9,340.3L784.9,339.8L784.9,339.3L784.9,338.8L784.8,338.3L784.8,337.8L784.8,337.3L784.8,336.8L784.7,336.3L784.7,335.8L784.7,335.3L784.7,334.8L784.7,334.3L784.6,333.8L784.6,333.3L784.6,332.8L784.6,332.3L784.5,331.8L784.5,331.3L784.5,330.8L784.5,330.3L784.4,329.8L784.4,329.3L784.4,328.8L784.4,328.3L784.3,327.8L784.3,327.3L784.3,326.8L784.3,326.3L784.2,325.8L784.2,325.3L784.2,324.8L784.2,324.3L784.1,323.8L784.1,323.3L784.1,322.8L784.1,322.3L784.1,321.8L784.0,321.3L784.0,320.8L784.0,320.3L784.0,319.8L783.9,319.3L783.9,318.8L783.9,318.3L783.9,317.8L783.9,317.3L783.8,316.8L783.8,316.3L783.8,315.8L783.8,315.3L783.7,314.8L783.7,314.3L783.7,313.8L783.7,313.3L783.7,312.8L783.7,312.3L783.6,311.8L783.6,311.3L783.6,310.8L783.6,310.3L783.6,309.8L783.6,309.3L783.6,308.8L783.6,308.3L783.6,307.8L783.5,307.3L783.5,306.8L783.5,306.3L783.5,305.8L783.5,305.3L783.5,304.8L783.5,304.3L783.5,303.8L783.5,303.3L783.4,302.8L783.4,302.3L783.4,301.8L783.4,301.3L783.4,300.8L783.4,300.3L783.4,299.8L783.4,299.3L783.4,298.8L783.4,298.3L783.4,297.8L783.4,297.3L783.3,296.8L783.3,296.3L783.3,295.8L783.3,295.3L783.3,294.8L783.3,294.3L783.3,293.8L783.3,293.3L783.3,292.8L783.3,292.3L783.3,291.8L783.3,291.3L783.3,290.8L783.3,290.3L783.3,289.8L783.3,289.3L783.3,288.8L783.3,288.3L783.3,287.8L783.3,287.3L783.3,286.8L783.3,286.3L783.3,285.8L783.3,285.3L783.3,284.8L783.3,284.3L783.3,283.8L783.3,283.3L783.3,282.8L783.3,282.3L783.3,281.8L783.3,281.3L783.3,280.8L783.3,280.3L783.3,279.8L783.3,279.3L783.3,278.8L783.3,278.3L783.3,277.8L783.3,277.3L783.3,276.8L783.3,276.3L783.3,275.8L783.3,275.3L783.3,274.8L783.3,274.3L783.3,273.8L783.3,273.3L783.3,272.8L783.3,272.3L783.3,271.8L783.3,271.3L783.3,270.8L783.3,270.3L783.3,269.8L783.3,269.3L783.3,268.8L783.3,268.3L783.3,267.8L783.3,267.3L783.3,266.8L783.3,266.3L783.3,265.8L783.3,265.3L783.3,264.8L783.3,264.3L783.3,263.8L783.3,263.3L783.3,262.8L783.3,262.3L783.3,261.8L783.3,261.3L783.3,260.8L783.3,260.3L783.3,259.8L783.3,259.3L783.3,258.8L783.3,258.3L783.3,257.8L783.3,257.3L783.3,256.8L783.3,256.3L783.3,255.8L783.3,255.3L783.3,254.8L783.3,254.3L783.3,253.8L783.3,253.3L783.3,252.8L783.3,252.3L783.3,251.8L783.3,251.3L783.3,250.8L783.3,250.3L783.3,249.8L783.3,249.3L783.3,248.8L783.3,248.3L783.3,247.8L783.3,247.3L783.3,246.8L783.3,246.3L783.3,245.8L783.3,245.3L783.3,244.8L783.3,244.3L783.3,243.8L783.3,243.3L783.3,242.8L783.3,242.3L783.3,241.8L783.3,241.3L783.3,240.8L783.3,240.3L783.3,239.8L783.3,239.3L783.3,238.8L783.3,238.3L783.3,237.8L783.3,237.3L783.3,236.8L783.3,236.3L783.3,235.8L783.3,235.3L783.3,234.8L783.3,234.3L783.3,233.8L783.3,233.3L783.3,232.8L783.3,232.3L783.3,231.8L783.3,231.3L783.3,230.8L783.3,230.3L783.3,229.8L783.3,229.3L783.3,228.8L783.3,228.3L783.3,227.8L783.3,227.3L783.3,226.8L783.3,226.3L783.3,225.8L783.3,225.3L783.3,224.8L783.3,224.3L783.3,223.8L783.3,223.3L783.3,222.8L783.3,222.3L783.3,221.8L783.3,221.3L783.3,220.8L783.3,220.3L783.3,219.8L783.3,219.3L783.3,218.8L783.3,218.3L783.3,217.8L783.3,217.3L783.3,216.8L783.3,216.3L783.3,215.8L783.3,215.3L783.3,214.8L783.3,214.3L783.3,213.8L783.3,213.3L783.3,212.8L783.3,212.3L783.3,211.8L783.3,211.3L783.3,210.8L783.3,210.3L783.3,209.8L783.3,209.3L783.3,208.8L783.3,208.3L783.3,207.8L783.3,207.3L783.3,206.8L783.3,206.3L783.3,205.8L783.3,205.3L783.3,204.8L783.3,204.3L783.3,203.8L783.3,203.3L783.3,202.8L783.3,202.3L783.3,201.8L783.3,201.3L783.3,200.8L783.3,200.3L783.3,199.8L783.3,199.3L783.3,198.8L783.3,198.3L783.3,197.8L783.3,197.3L783.3,196.8L783.3,196.3L783.3,195.8L783.3,195.3L783.3,194.8L783.3,194.3L783.3,193.8L783.3,193.3L783.3,192.8L783.3,192.3L783.3,191.8L783.3,191.3L783.3,190.8L783.3,190.3L783.3,189.8L783.3,189.3L783.3,188.8L783.3,188.3L783.3,187.8L783.3,187.3L783.3,186.8L783.3,186.3L783.3,185.8L783.3,185.3L783.3,184.8L783.3,184.3L783.3,183.8L783.3,183.3L783.3,182.8L783.3,182.3L783.3,181.8L783.3,181.3L783.3,180.8L783.3,180.3L783.3,179.8L783.3,179.3L783.3,178.8L783.3,178.3L783.3,177.8L783.3,177.3L783.3,176.8L783.3,176.3L783.3,175.8L783.3,175.3L783.3,174.8L783.3,174.3L783.3,173.8L783.3,173.3L783.3,172.8L783.3,172.3L783.3,171.8L783.3,171.3L783.3,170.8L783.3,170.3L783.3,169.8L783.3,169.3L783.3,168.8L783.3,168.3L783.3,167.8L783.3,167.3L783.3,166.8L783.3,166.3L783.3,165.8L783.3,165.3L783.3,164.8L783.3,164.3L783.3,163.8L783.3,163.3L783.3,162.8L783.3,162.3L783.3,161.8L783.3,161.3L783.3,160.8L783.3,160.3L783.3,159.8L783.3,159.3L783.3,158.8L783.3,158.3L783.3,157.8L783.3,157.3L783.3,156.8L783.3,156.3L783.3,155.8L783.3,155.3L783.3,154.8L783.3,154.3L783.3,153.8L783.3,153.3L783.3,152.8L783.3,152.3L783.3,151.8L783.3,151.3L783.3,150.8L783.3,150.3L783.3,149.8L783.3,149.3L783.3,148.8L783.3,148.3L783.3,147.8L783.3,147.3L783.3,146.8L783.3,146.3L783.3,145.8L783.3,145.3L783.3,144.8L783.3,144.3L783.3,143.8L783.3,143.3L783.3,142.8L783.3,142.3L783.3,141.8L783.3,141.3L783.3,140.8L783.3,140.3L783.3,139.8L783.3,139.3L783.3,138.8L783.3,138.3L783.3,137.8L783.3,137.3L783.3,136.8L783.3,136.3L783.3,135.8L783.3,135.3L783.3,134.8L783.3,134.3L783.3,133.8L783.3,133.3L783.3,132.8L783.3,132.3L783.3,131.8L783.3,131.3L783.3,130.8L783.3,130.3L783.3,129.8L783.3,129.3L783.3,128.8L783.3,128.3L783.3,127.8L783.3,127.3L783.3,126.8L783.3,126.3L783.3,125.8L783.3,125.3L783.3,124.8L783.3,124.3L783.3,123.8L783.3,123.3L783.3,122.8L783.3,122.3L783.3,121.8L783.3,121.3L783.3,120.8L783.3,120.3L783.3,119.8L783.3,119.3L783.3,118.8L783.3,118.3L783.3,117.8L783.3,117.3L783.3,116.8L783.3,116.3L783.3,115.8L783.3,115.3L783.3,114.8L783.3,114.3L783.3,113.8L783.3,113.3L783.3,112.8L783.3,112.3L783.3,111.8L783.3,111.3L783.3,110.8L783.3,110.3L783.3,109.8L783.3,109.3L783.3,108.8L783.3,108.3L783.3,107.8L783.3,107.3L783.3,106.8L783.3,106.3L783.3,105.8L783.3,105.3L783.3,104.8L783.3,104.3L783.3,103.8L783.3,103.3L783.3,102.8L783.3,102.3L783.3,101.8L783.3,101.3L783.3,100.8L783.3,100.3L783.3,99.8L783.3,99.3L783.3,98.8L783.3,98.3L783.3,97.8L783.3,97.3L783.3,96.8L783.3,96.3L783.3,95.8L783.3,95.3L783.3,94.8L783.3,94.3L783.3,93.8L783.3,93.3L783.3,92.8L783.3,92.3L783.3,91.8L783.3,91.3L783.3,90.8L783.3,90.3L783.3,89.8L783.3,89.3L783.3,88.8L783.3,88.3L783.3,87.8L783.3,87.3L783.3,86.8L783.3,86.3L783.3,85.8L783.3,85.3L783.3,84.8L783.3,84.3L783.3,83.8L783.3,83.3L783.3,82.8L783.3,82.3L783.3,81.8L783.3,81.3L783.3,80.8L783.3,80.3L783.3,79.8L783.3,79.3L783.3,78.8L783.3,78.3L783.3,77.8L783.3,77.3L783.3,76.8L783.3,76.3L783.3,75.8L783.3,75.3L783.3,74.8L783.3,74.3L783.3,73.8L783.3,73.3L783.3,72.8L783.3,72.3L783.3,71.8L783.3,71.3L783.3,70.8L783.3,70.3L783.3,69.8L783.3,69.3L783.3,68.8L783.3,68.3L783.3,67.8L783.3,67.3L783.3,66.8L783.3,66.3L783.3,65.8L783.3,65.3L783.3,64.8L783.3,64.3L783.3,63.8L783.3,63.3L783.3,62.8L783.3,62.3L783.3,61.8L783.3,61.3L783.3,60.8L783.3,60.3L783.3,59.8L783.3,59.3L783.3,58.8L783.3,58.3L783.3,57.8L783.3,57.3L783.3,56.8L783.3,56.3L783.3,55.8L783.3,55.3L783.3,54.8L783.3,54.3L783.3,53.8L783.3,53.3L783.3,52.8L783.3,52.3L783.3,51.8Z" fill="#3274a1" stroke="#383838" stroke-width="1.6" stroke-linejoin="round"/>
<path d="M589.0 443.5H976.8" stroke="#c9c9c9" stroke-width="1"/>
<path d="M589.0 391.5H976.8" stroke="#c9c9c9" stroke-width="1"/>
<path d="M589.0 339.5H976.8" stroke="#c9c9c9" stroke-width="1"/>
<path d="M589.0 287.5H976.8" stroke="#c9c9c9" stroke-width="1"/>
<path d="M589.0 235.5H976.8" stroke="#c9c9c9" stroke-width="1"/>
<path d="M589.0 183.5H976.8" stroke="#c9c9c9" stroke-width="1"/>
<path d="M589.0 132.5H976.8" stroke="#c9c9c9" stroke-width="1"/>
<path d="M589.0 80.5H976.8" stroke="#c9c9c9" stroke-width="1"/>
<g transform="translate(0,.5)" stroke="#000" stroke-width="1" fill="none" shape-rendering="crispEdges"><path id="d1" d="M706 252h1M757 253h1M677 254h1m163 0h1M680 255h1M925 256h1M660 259h1m124 0h1M675 262h1m199 0h1M675 266h1M642 271h1M801 273h1M796 274h1M696 277h1m16 0h1M647 279h1M859 280h1M722 281h1m184 0h1M689 282h1m89 0h1M659 283h1M636 284h1m17 0h1m202 0h1M650 285h1M676 286h1m134 0h1m41 0h1M705 287h1m177 0h1M633 288h1m91 0h1m139 0h1M795 289h1m135 0h1M654 290h1m113 0h1m156 0h1M641 291h1m91 0h1m23 0h1M644 292h1m36 0h1M636 293h1m94 0h1m40 0h1M658 294h1m34 0h1M888 295h1M711 296h1m96 0h1m39 0h1m22 0h1M706 297h1M630 298h1m51 0h1m226 0h1M677 299h1M631 300h1m257 0h1M661 301h1m2 0h1m134 0h1m42 0h1m26 0h1m61 0h1M781 303h1m16 0h1M669 304h1m109 0h1m77 0h1M704 305h1m2 0h1m202 0h1m22 0h1M627 306h1m137 0h1m87 0h1m81 0h1M669 307h1m9 0h1m110 0h1m37 0h1m47 0h1m54 0h1m2 0h1M650 308h1m95 0h1m19 0h1M682 309h1M680 310h1m77 0h1m157 0h1M906 311h1M683 312h1m142 0h1m104 0h1M631 313h1m48 0h1m150 0h1m9 0h1m40 0h1M628 314h1m146 0h1m40 0h1M824 315h1m90 0h1M721 316h1m8 0h1m12 0h1m32 0h1m107 0h1M742 317h1m78 0h1m6 0h1m53 0h1M697 318h1m58 0h1m108 0h1m3 0h1m27 0h1m22 0h1m7 0h1M659 319h1m1 0h1m51 0h1m109 0h1M757 320h1m63 0h1m86 0h1M627 321h1m58 0h1m19 0h1m114 0h1m4 0h1m41 0h1m37 0h1m2 0h1m7 0h1M845 322h1M667 323h1m42 0h1m36 0h1m11 0h1m21 0h1m30 0h1m53 0h1M698 324h1m66 0h1m9 0h1m36 0h1m87 0h1M696 325h1m85 0h1m149 0h1M696 326h1m95 0h1m12 0h1m31 0h1m77 0h1m5 0h1M667 327h1m66 0h1m73 0h1m48 0h1m13 0h1m27 0h1m35 0h1M713 328h1m37 0h1m111 0h1m35 0h1m20 0h1M801 329h1m88 0h1M672 330h1m53 0h1m87 0h1m37 0h1M688 331h1m8 0h1m48 0h1m24 0h1m29 0h1m22 0h1m3 0h1m3 0h1m38 0h1m1 0h1m6 0h1M755 332h1m97 0h1m11 0h1m67 0h1M627 333h1m26 0h1m174 0h1m65 0h1m25 0h2M695 334h1m69 0h1m126 0h1m7 0h1m18 0h1M646 335h1m41 0h1m27 0h1m201 0h1m4 0h1M659 336h1m18 0h1m2 0h1m81 0h1m18 0h1m18 0h1m22 0h1m15 0h1m30 0h1m25 0h1M652 337h1m18 0h1m202 0h1m5 0h1m39 0h1M725 338h1m27 0h1m48 0h1m71 0h1m25 0h1M697 339h1m18 0h1m31 0h1m72 0h1m28 0h1M692 340h1m4 0h1m29 0h1m13 0h1m2 0h1m60 0h1m62 0h1m32 0h1m33 0h1M770 341h1m11 0h1m7 0h1m86 0h1m9 0h1m23 0h1M636 342h1m28 0h1m29 0h1m47 0h1m38 0h1m32 0h1m5 0h2m17 0h1m24 0h1m33 0h1M657 343h1m135 0h1m21 0h1m63 0h1M651 344h1m10 0h1m25 0h1m8 0h1m12 0h1m30 0h1m7 0h1m9 0h1m21 0h1m10 0h2m18 0h1m20 0h1m26 0h1m9 0h1m40 0h1M638 345h1m30 0h1m25 0h1m84 0h1m42 0h1m27 0h1m43 0h1M635 346h1m63 0h1m38 0h2m9 0h2m5 0h1m45 0h1m10 0h1m10 0h1m16 0h1m53 0h1M642 347h1m91 0h1m65 0h1m10 0h1m48 0h1M695 348h1m9 0h1m18 0h1m72 0h1m7 0h1m53 0h1m42 0h1m4 0h1M644 349h1m39 0h1m26 0h1m55 0h1m40 0h2m29 0h1m79 0h1M634 350h1m40 0h1m9 0h1m25 0h1m10 0h1m71 0h1m16 0h1m1 0h1M664 351h1m104 0h1m10 0h1m104 0h1M638 352h1m26 0h1m3 0h1m22 0h1m51 0h1m11 0h1m25 0h1m6 0h1m17 0h1m39 0h1m29 0h1m38 0h1M737 353h1m24 0h1m49 0h1m37 0h1m13 0h1M667 354h1m57 0h1m43 0h1m16 0h1M633 355h1m15 0h1m1 0h1m58 0h1m18 0h1m2 0h1m31 0h1m23 0h1m42 0h1m9 0h1m20 0h1m17 0h1m41 0h1M649 356h1m1 0h1m30 0h1m1 0h1m4 0h1m6 0h1m8 0h1m13 0h1m9 0h1m1 0h1m16 0h1m38 0h1m8 0h1m69 0h1m2 0h1m16 0h1m22 0h1m24 0h1M651 357h1m40 0h1m29 0h1m3 0h1m8 0h1m2 0h1m16 0h1m32 0h1m3 0h1m5 0h1m1 0h1m44 0h1m5 0h1m26 0h1m20 0h2m10 0h1M650 358h1m2 0h2m6 0h1m12 0h1m41 0h1m113 0h1m5 0h1m36 0h1m13 0h1m21 0h1M675 359h1m1 0h1m6 0h1m30 0h1m3 0h1m14 0h1m32 0h1m4 0h1m2 0h1m43 0h1m2 0h1m2 0h1m14 0h1m9 0h1m7 0h1m16 0h1m2 0h1m17 0h1m11 0h1m10 0h1M629 360h1m22 0h1m34 0h1m9 0h1m16 0h1m17 0h1m4 0h1m64 0h1m7 0h1m20 0h1m1 0h1m1 0h1m35 0h1m25 0h1M631 361h1m7 0h1m29 0h1m30 0h1m1 0h1m2 0h1m6 0h1m81 0h1m84 0h1m13 0h1m42 0h1M663 362h1m13 0h1m7 0h1m25 0h1m46 0h1m7 0h3m24 0h1m15 0h1m80 0h1M630 363h1m21 0h1m17 0h1m21 0h1m20 0h1m26 0h1m51 0h1m37 0h1m11 0h1m4 0h1m10 0h1m24 0h1m4 0h2m15 0h1m7 0h1M643 364h1m3 0h1m6 0h1m8 0h1m2 0h1m110 0h1m21 0h1m1 0h1m58 0h1m23 0h2m22 0h1m10 0h1m3 0h1m3 0h1m2 0h1m6 0h1M708 365h1m2 0h2m8 0h1m15 0h1m8 0h1m7 0h1m2 0h1m17 0h1m11 0h1m51 0h1m25 0h1m8 0h1m14 0h1m16 0h1m2 0h1m4 0h1m5 0h1m3 0h1M638 366h1m11 0h1m14 0h1m38 0h1m24 0h1m39 0h1m5 0h1m8 0h1m45 0h1m16 0h1m9 0h1m6 0h1m8 0h1m4 0h2m25 0h1m26 0h1M641 367h1m78 0h1m29 0h2m27 0h1m28 0h1m29 0h1m14 0h1m12 0h1m8 0h1m20 0h1m10 0h1M628 368h1m6 0h1m30 0h1m17 0h1m9 0h1m30 0h1m5 0h1m22 0h1m27 0h1m3 0h2m4 0h1m14 0h1m12 0h2m63 0h1m23 0h1m14 0h1M631 369h1m22 0h1m9 0h1m9 0h1m26 0h1m7 0h1m36 0h1m69 0h1m9 0h1m27 0h2m7 0h1m5 0h1m22 0h1m1 0h1m10 0h1M632 370h1m2 0h1m29 0h1m2 0h1m19 0h1m51 0h1m13 0h1m36 0h1m7 0h1m5 0h1m11 0h1m42 0h1m2 0h1M630 371h1m13 0h1m51 0h1m17 0h1m1 0h1m17 0h1m15 0h1m21 0h1m38 0h1m29 0h2m17 0h1m21 0h1m6 0h1m3 0h1m14 0h1m14 0h2m13 0h1M649 372h1m39 0h1m12 0h1m6 0h1m31 0h1m39 0h1m20 0h1m8 0h1m8 0h1m3 0h1m6 0h1m36 0h1m1 0h1m8 0h2M639 373h1m28 0h1m3 0h1m5 0h1m5 0h2m12 0h1m32 0h1m20 0h1m3 0h1m13 0h1m17 0h1m1 0h1m8 0h1m6 0h1m4 0h1m28 0h1m7 0h1m17 0h1m62 0h1M672 374h1m31 0h1m5 0h1m13 0h1m16 0h1m41 0h1m3 0h1m6 0h1m102 0h1m3 0h1m1 0h1m11 0h1M642 375h1m3 0h1m26 0h2m1 0h1m44 0h1m6 0h1m2 0h1m11 0h1m15 0h1m5 0h1m5 0h1m11 0h1m9 0h1m6 0h2m1 0h1m11 0h1m28 0h1m17 0h1m12 0h1m23 0h1m11 0h1m24 0h1M668 376h1m55 0h1m8 0h1m5 0h1m17 0h1m9 0h1m1 0h1m15 0h1m12 0h1m8 0h1m25 0h1m23 0h1m6 0h1m5 0h1m25 0h1m4 0h1m3 0h1m18 0h1m10 0h1M628 377h1m9 0h1m16 0h1m7 0h1m24 0h1m26 0h1m2 0h1m12 0h1m28 0h1m10 0h1m35 0h1m5 0h1m2 0h1m2 0h1m8 0h1m11 0h1m9 0h1m30 0h1m23 0h1M644 378h1m2 0h1m11 0h1m4 0h1m4 0h1m2 0h2m35 0h1m7 0h2m15 0h2m5 0h1m10 0h1m4 0h1m21 0h1m30 0h1m73 0h1m31 0h1m1 0h1m5 0h1m10 0h1M627 379h1m3 0h1m4 0h1m38 0h1m12 0h1m28 0h1m3 0h1m38 0h1m22 0h1m16 0h1m35 0h1m4 0h1m38 0h1m15 0h1m13 0h1M646 380h1m10 0h1m33 0h1m42 0h1m18 0h1m10 0h1m1 0h1m12 0h1m4 0h1m12 0h1m5 0h1m16 0h1m2 0h1m25 0h1m24 0h1m1 0h1m6 0h1m35 0h1M644 381h1m19 0h1m3 0h1m2 0h1m6 0h1m6 0h1m7 0h1m1 0h1m22 0h1m8 0h1m10 0h1m1 0h1m18 0h1m16 0h1m12 0h1m23 0h1m2 0h1m3 0h1m12 0h1m1 0h1m1 0h1m17 0h2m68 0h1M631 382h1m6 0h1m34 0h1m6 0h1m6 0h1m25 0h1m6 0h1m5 0h1m9 0h1m10 0h2m7 0h1m1 0h1m5 0h1m37 0h1m24 0h1m3 0h1m2 0h1m17 0h1m16 0h1m5 0h1m24 0h1m4 0h1m1 0h1M636 383h1m12 0h1m27 0h1m18 0h1m2 0h1m18 0h1m4 0h1m7 0h1m1 0h1m7 0h1m11 0h1m2 0h1m4 0h2m13 0h1m8 0h1m3 0h1m6 0h1m2 0h1m8 0h1m33 0h1m10 0h2m6 0h1m25 0h1m23 0h1M640 384h1m12 0h2m8 0h1m3 0h1m4 0h1m3 0h1m2 0h1m24 0h1m14 0h1m4 0h1m3 0h1m22 0h1m11 0h1m1 0h1m13 0h1m1 0h1m3 0h1m3 0h1m8 0h1m3 0h1m4 0h1m15 0h1m44 0h1m1 0h1m9 0h1m2 0h1m8 0h1m6 0h1m21 0h1M628 385h1m8 0h1m6 0h1m2 0h2m8 0h1m3 0h1m1 0h1m1 0h1m3 0h1m3 0h1m12 0h2m19 0h2m6 0h1m11 0h1m7 0h1m4 0h1m3 0h1m21 0h1m4 0h1m6 0h1m2 0h1m8 0h1m10 0h1m2 0h2m11 0h1m3 0h1m2 0h1m15 0h1m11 0h2m1 0h1m14 0h1m7 0h1m3 0h2m5 0h1m12 0h1m7 0h1m4 0h1m13 0h1M627 386h1m1 0h1m32 0h1m1 0h1m1 0h1m2 0h1m5 0h1m1 0h1m5 0h1m4 0h1m15 0h1m16 0h1m1 0h1m3 0h1m7 0h1m4 0h1m38 0h2m3 0h1m6 0h1m2 0h1m13 0h1m17 0h1m2 0h1m7 0h1m18 0h1m6 0h1m15 0h1m1 0h1m8 0h1m11 0h1m4 0h1m26 0h1M632 387h1m6 0h2m15 0h1m10 0h1m6 0h1m4 0h1m8 0h1m14 0h1m6 0h2m8 0h2m27 0h1m13 0h1m9 0h1m33 0h1m1 0h1m1 0h1m1 0h1m13 0h1m14 0h1m1 0h1m1 0h1m2 0h1m24 0h1m6 0h1m23 0h1m3 0h1m13 0h1m1 0h1m7 0h1m4 0h1M640 388h1m4 0h1m9 0h1m4 0h1m8 0h1m1 0h2m4 0h1m7 0h1m17 0h1m17 0h1m12 0h1m3 0h1m21 0h1m2 0h1m10 0h1m1 0h1m1 0h1m6 0h1m9 0h1m2 0h1m4 0h1m2 0h2m1 0h1m6 0h1m7 0h1m20 0h1m7 0h1m2 0h1m8 0h1m1 0h1m10 0h1m3 0h1m6 0h1m12 0h1m2 0h1m4 0h1m5 0h1m2 0h1m8 0h1m8 0h2M629 389h1m8 0h2m3 0h1m5 0h1m1 0h1m8 0h1m2 0h1m4 0h1m4 0h1m4 0h1m2 0h1m5 0h3m2 0h1m1 0h1m1 0h1m4 0h3m3 0h1m10 0h1m1 0h1m1 0h1m5 0h1m4 0h1m2 0h1m6 0h4m9 0h1m2 0h1m3 0h1m1 0h1m2 0h3m2 0h1m10 0h1m1 0h1m9 0h1m2 0h1m10 0h1m6 0h1m13 0h1m11 0h1m1 0h1m6 0h1m4 0h1m5 0h3m3 0h1m15 0h2m3 0h1m1 0h1m7 0h1m6 0h1m6 0h1m14 0h1m1 0h1M627 390h2m1 0h1m4 0h1m3 0h1m16 0h1m2 0h1m6 0h1m1 0h1m7 0h1m9 0h1m11 0h1m3 0h1m10 0h1m9 0h1m6 0h1m3 0h2m7 0h2m7 0h1m1 0h1m3 0h1m1 0h2m9 0h1m4 0h1m11 0h1m1 0h2m5 0h2m11 0h1m13 0h2m1 0h1m15 0h1m4 0h1m4 0h1m22 0h1m4 0h1m15 0h2m13 0h1m25 0h1M629 391h2m4 0h1m14 0h3m3 0h1m6 0h1m1 0h1m5 0h1m5 0h1m1 0h1m9 0h1m2 0h1m2 0h1m4 0h1m14 0h2m1 0h1m6 0h1m6 0h2m11 0h3m1 0h1m1 0h1m10 0h1m6 0h1m5 0h1m4 0h1m1 0h1m5 0h2m3 0h1m1 0h1m4 0h1m23 0h1m5 0h1m4 0h1m4 0h1m1 0h1m14 0h1m8 0h1m8 0h1m1 0h1m1 0h1m3 0h2m1 0h1m12 0h1m4 0h1m5 0h1m1 0h2m5 0h3m7 0h1m7 0h1M630 392h1m6 0h1m12 0h1m7 0h1m2 0h2m3 0h1m3 0h3m9 0h1m6 0h1m4 0h1m5 0h1m10 0h1m1 0h1m1 0h1m2 0h1m2 0h2m1 0h1m8 0h1m2 0h1m3 0h1m11 0h1m1 0h1m3 0h1m1 0h1m10 0h1m6 0h1m1 0h1m1 0h1m8 0h1m4 0h1m1 0h2m2 0h1m2 0h1m13 0h1m1 0h1m1 0h2m2 0h1m3 0h1m7 0h1m11 0h1m6 0h1m1 0h1m7 0h2m1 0h1m23 0h1m1 0h1m10 0h1m6 0h2m8 0h1m6 0h1m2 0h1M633 393h1m9 0h1m3 0h1m7 0h1m7 0h1m5 0h1m14 0h1m5 0h1m1 0h2m1 0h1m4 0h1m1 0h1m12 0h2m9 0h1m7 0h1m3 0h1m10 0h1m7 0h1m5 0h1m1 0h1m1 0h2m1 0h2m2 0h1m1 0h3m11 0h1m9 0h4m1 0h1m3 0h1m7 0h1m1 0h1m4 0h1m1 0h1m3 0h1m5 0h1m2 0h2m1 0h1m7 0h1m2 0h1m1 0h1m1 0h3m14 0h2m6 0h1m5 0h1m7 0h1m8 0h2m15 0h1m2 0h1m4 0h1m1 0h1m1 0h1M632 394h1m18 0h1m1 0h1m3 0h3m8 0h1m9 0h1m3 0h1m1 0h2m2 0h1m8 0h1m6 0h2m2 0h1m7 0h2m4 0h1m8 0h1m18 0h2m1 0h1m9 0h1m5 0h1m3 0h1m5 0h2m2 0h1m11 0h1m6 0h2m2 0h1m5 0h2m4 0h1m4 0h1m2 0h1m7 0h1m2 0h1m8 0h1m1 0h1m3 0h1m5 0h1m6 0h3m2 0h1m1 0h1m2 0h1m1 0h3m2 0h1m3 0h1m7 0h1m11 0h1m7 0h1m2 0h1m17 0h1m1 0h1M627 395h1m4 0h2m5 0h1m1 0h1m10 0h2m1 0h1m7 0h1m10 0h2m1 0h1m37 0h1m4 0h1m1 0h1m1 0h2m2 0h2m2 0h1m5 0h2m10 0h1m1 0h2m5 0h2m1 0h1m15 0h1m8 0h1m2 0h1m3 0h1m17 0h1m8 0h2m4 0h1m13 0h1m9 0h1m6 0h2m1 0h1m2 0h1m3 0h1m4 0h1m1 0h1m4 0h1m6 0h1m1 0h1m1 0h3m13 0h2m8 0h1m1 0h1m3 0h2M628 396h1m6 0h1m5 0h1m1 0h1m3 0h2m2 0h2m5 0h1m2 0h1m2 0h1m4 0h2m3 0h1m7 0h1m5 0h1m3 0h1m2 0h1m6 0h1m14 0h1m5 0h2m2 0h1m2 0h1m2 0h2m5 0h2m2 0h1m4 0h1m3 0h1m1 0h2m3 0h1m4 0h1m3 0h2m6 0h1m3 0h1m4 0h2m1 0h1m3 0h1m3 0h1m1 0h1m7 0h2m1 0h1m2 0h3m3 0h1m1 0h1m2 0h1m5 0h1m3 0h1m4 0h2m14 0h3m8 0h1m1 0h2m4 0h1m9 0h3m4 0h1m3 0h1m3 0h1m2 0h2m5 0h1m2 0h1m9 0h1m2 0h1m5 0h1m1 0h1m3 0h1M627 397h1m7 0h1m3 0h1m6 0h3m1 0h1m1 0h1m3 0h1m1 0h1m2 0h1m7 0h1m6 0h4m1 0h1m5 0h1m15 0h1m5 0h1m8 0h1m3 0h1m2 0h6m14 0h1m2 0h2m5 0h2m6 0h1m1 0h2m4 0h1m6 0h2m4 0h2m3 0h2m1 0h1m1 0h1m16 0h2m13 0h2m7 0h1m2 0h1m10 0h4m5 0h1m6 0h2m9 0h1m7 0h1m5 0h1m2 0h1m1 0h1m3 0h4m6 0h2m2 0h3m1 0h1m2 0h1m1 0h1m2 0h1m8 0h2M632 398h1m1 0h1m2 0h1m5 0h1m17 0h1m2 0h1m20 0h1m2 0h1m2 0h1m1 0h1m2 0h4m4 0h1m1 0h2m6 0h1m1 0h1m3 0h1m1 0h1m1 0h2m5 0h1m7 0h1m5 0h1m4 0h1m4 0h1m2 0h2m3 0h1m3 0h1m7 0h1m3 0h1m3 0h3m1 0h1m4 0h2m3 0h1m5 0h1m6 0h1m3 0h1m1 0h1m10 0h1m1 0h1m1 0h1m14 0h1m4 0h1m3 0h1m3 0h1m1 0h2m2 0h2m1 0h1m1 0h1m1 0h1m9 0h1m7 0h1m3 0h3m2 0h1m2 0h2m5 0h1m4 0h1m1 0h1m7 0h1m5 0h1m1 0h1m1 0h1m1 0h1M627 399h1m1 0h2m1 0h1m1 0h1m5 0h2m9 0h2m3 0h1m10 0h1m1 0h1m2 0h1m9 0h3m1 0h1m2 0h1m3 0h1m2 0h1m6 0h4m3 0h1m7 0h1m1 0h1m6 0h2m2 0h1m6 0h1m9 0h1m1 0h1m21 0h5m5 0h1m8 0h4m1 0h1m2 0h1m3 0h1m4 0h1m4 0h1m1 0h1m2 0h1m1 0h1m3 0h1m3 0h1m3 0h1m1 0h1m6 0h1m1 0h1m7 0h1m4 0h1m1 0h1m7 0h1m2 0h2m6 0h1m3 0h1m2 0h1m3 0h1m4 0h1m1 0h3m1 0h1m4 0h6m2 0h1m1 0h1m1 0h1m6 0h3m2 0h1m2 0h1m5 0h1M637 400h1m1 0h2m3 0h1m3 0h1m1 0h1m7 0h1m6 0h2m1 0h1m3 0h2m4 0h1m1 0h1m2 0h1m2 0h1m4 0h1m2 0h2m1 0h3m1 0h1m1 0h2m6 0h1m2 0h1m7 0h1m4 0h1m1 0h2m4 0h1m7 0h1m10 0h1m3 0h1m5 0h1m6 0h2m4 0h1m2 0h1m1 0h2m1 0h1m1 0h3m2 0h1m2 0h1m1 0h2m2 0h1m4 0h1m6 0h4m3 0h1m3 0h1m1 0h1m1 0h1m1 0h2m1 0h1m3 0h1m2 0h1m1 0h1m3 0h1m3 0h1m4 0h1m2 0h1m2 0h1m2 0h1m4 0h1m9 0h3m1 0h3m2 0h1m3 0h1m9 0h1m7 0h1m1 0h1m2 0h2m3 0h1m8 0h1m2 0h3M629 401h2m1 0h1m4 0h1m2 0h1m2 0h1m2 0h1m1 0h1m8 0h3m12 0h2m2 0h1m7 0h1m1 0h1m7 0h3m4 0h1m1 0h1m3 0h2m1 0h1m1 0h1m3 0h1m6 0h1m1 0h1m14 0h1m12 0h1m5 0h2m1 0h1m2 0h1m3 0h1m1 0h1m5 0h2m1 0h1m1 0h1m5 0h1m1 0h1m4 0h1m4 0h1m2 0h1m2 0h1m6 0h1m5 0h4m1 0h2m1 0h1m5 0h1m12 0h1m3 0h1m2 0h2m1 0h4m6 0h1m2 0h2m2 0h1m3 0h1m5 0h4m1 0h1m19 0h1m1 0h2m6 0h1m1 0h3m2 0h3m1 0h2m5 0h1M627 402h1m2 0h1m4 0h2m1 0h1m4 0h1m4 0h1m4 0h1m7 0h1m4 0h1m1 0h2m5 0h1m1 0h1m3 0h1m5 0h2m3 0h1m2 0h1m5 0h2m3 0h1m4 0h1m2 0h3m2 0h1m2 0h1m2 0h1m1 0h3m1 0h2m8 0h1m1 0h2m1 0h2m4 0h3m2 0h1m4 0h1m4 0h1m2 0h1m1 0h1m5 0h1m2 0h1m3 0h1m5 0h1m6 0h1m7 0h1m6 0h1m3 0h1m4 0h1m4 0h1m1 0h2m6 0h1m2 0h2m7 0h1m5 0h1m6 0h2m1 0h1m2 0h1m2 0h1m2 0h1m2 0h1m8 0h2m3 0h2m1 0h2m1 0h1m14 0h1m4 0h2m2 0h3m1 0h1m7 0h1m2 0h1M631 403h5m4 0h2m9 0h2m4 0h1m6 0h1m2 0h1m1 0h1m1 0h1m1 0h1m2 0h1m1 0h1m2 0h1m2 0h1m5 0h1m2 0h2m4 0h1m6 0h1m3 0h1m6 0h1m1 0h1m2 0h1m2 0h1m5 0h1m2 0h1m1 0h1m1 0h1m2 0h1m1 0h1m2 0h3m9 0h1m2 0h1m2 0h1m1 0h1m3 0h1m6 0h2m1 0h1m4 0h1m3 0h1m2 0h1m2 0h3m8 0h1m1 0h4m2 0h1m2 0h1m1 0h1m3 0h1m5 0h2m4 0h2m4 0h2m4 0h1m1 0h2m1 0h1m2 0h1m3 0h1m1 0h1m9 0h2m1 0h2m1 0h4m1 0h1m1 0h2m3 0h1m1 0h1m5 0h1m6 0h1m1 0h2m2 0h1m5 0h5m2 0h2m1 0h1m1 0h4m1 0h3m2 0h1M627 404h1m7 0h1m7 0h1m2 0h1m3 0h2m6 0h2m1 0h1m1 0h1m6 0h2m1 0h1m4 0h1m1 0h3m1 0h3m2 0h2m7 0h1m6 0h1m2 0h1m1 0h1m1 0h1m2 0h1m1 0h3m7 0h1m5 0h3m1 0h1m2 0h1m2 0h2m2 0h1m2 0h1m3 0h1m3 0h1m1 0h1m1 0h2m1 0h2m2 0h1m2 0h2m1 0h1m2 0h1m1 0h3m7 0h2m7 0h1m1 0h1m1 0h2m1 0h1m2 0h1m1 0h1m1 0h1m1 0h2m2 0h1m3 0h1m4 0h1m1 0h2m1 0h1m2 0h1m1 0h2m3 0h3m1 0h1m1 0h1m6 0h1m3 0h2m2 0h4m2 0h1m2 0h3m1 0h2m4 0h2m1 0h1m2 0h1m2 0h1m6 0h1m1 0h3m2 0h1m1 0h1m9 0h1m8 0h2m1 0h2m1 0h1m3 0h1M627 405h1m2 0h2m2 0h1m5 0h1m10 0h1m3 0h2m4 0h1m4 0h2m2 0h1m2 0h2m4 0h4m4 0h1m3 0h1m4 0h1m4 0h1m2 0h1m1 0h2m7 0h2m5 0h1m3 0h2m2 0h1m3 0h2m1 0h1m1 0h1m3 0h1m1 0h1m1 0h4m1 0h1m4 0h2m1 0h1m3 0h2m2 0h2m1 0h1m4 0h1m3 0h1m2 0h1m6 0h2m1 0h1m1 0h1m1 0h2m2 0h1m1 0h1m1 0h1m2 0h1m3 0h2m1 0h1m2 0h2m1 0h2m10 0h1m1 0h3m2 0h1m3 0h3m2 0h1m1 0h1m1 0h3m3 0h1m2 0h1m2 0h2m3 0h2m5 0h2m4 0h2m1 0h3m5 0h1m1 0h1m3 0h1m2 0h1m2 0h2m2 0h2m4 0h2m2 0h1m1 0h1m4 0h1m1 0h1m2 0h1M628 406h1m2 0h1m6 0h1m2 0h3m1 0h1m4 0h2m2 0h4m7 0h1m5 0h1m4 0h1m6 0h1m2 0h1m3 0h1m1 0h1m3 0h1m4 0h2m2 0h1m1 0h2m5 0h1m1 0h1m1 0h1m6 0h3m3 0h1m2 0h1m2 0h2m4 0h1m1 0h1m2 0h1m5 0h3m2 0h1m1 0h2m1 0h1m2 0h1m2 0h4m8 0h5m1 0h2m1 0h2m1 0h1m4 0h1m1 0h4m1 0h2m4 0h2m3 0h1m15 0h2m3 0h1m1 0h2m5 0h4m3 0h1m2 0h1m4 0h1m1 0h2m3 0h1m1 0h1m1 0h2m2 0h1m1 0h1m3 0h2m6 0h2m2 0h1m2 0h1m4 0h1m8 0h2m1 0h1m1 0h2m1 0h1m2 0h1m1 0h3m2 0h1m4 0h1m1 0h1M632 407h1m8 0h1m2 0h1m1 0h2m2 0h1m5 0h3m2 0h4m1 0h6m5 0h2m1 0h3m3 0h1m3 0h3m2 0h1m4 0h1m2 0h2m1 0h2m2 0h2m1 0h2m1 0h3m1 0h1m5 0h2m1 0h1m9 0h2m2 0h1m3 0h2m2 0h1m2 0h2m7 0h1m11 0h1m4 0h1m3 0h1m2 0h1m5 0h1m2 0h1m5 0h1m6 0h1m2 0h1m6 0h1m2 0h2m1 0h2m2 0h3m2 0h1m1 0h1m2 0h1m2 0h1m2 0h2m1 0h1m2 0h3m4 0h1m2 0h2m5 0h2m6 0h3m1 0h1m8 0h1m1 0h3m6 0h2m1 0h1m3 0h2m1 0h2m4 0h1m3 0h4m1 0h1m1 0h1m3 0h4m1 0h2M628 408h1m1 0h1m2 0h1m1 0h1m1 0h1m2 0h2m3 0h1m1 0h2m2 0h1m1 0h1m1 0h3m6 0h1m1 0h2m2 0h1m1 0h1m5 0h1m3 0h1m3 0h2m3 0h1m1 0h1m1 0h1m2 0h6m2 0h4m5 0h1m3 0h1m3 0h1m2 0h2m1 0h1m2 0h1m3 0h1m5 0h1m2 0h1m2 0h1m1 0h1m1 0h1m1 0h1m2 0h2m5 0h1m5 0h1m5 0h1m7 0h3m9 0h1m2 0h1m1 0h3m2 0h1m1 0h1m6 0h1m1 0h1m2 0h3m1 0h1m4 0h1m3 0h2m10 0h2m4 0h1m1 0h1m3 0h2m1 0h1m2 0h1m1 0h2m8 0h1m8 0h1m8 0h1m4 0h1m6 0h1m1 0h1m5 0h1m2 0h1m1 0h1m4 0h1m1 0h1m8 0h2m1 0h1M628 409h1m1 0h2m1 0h2m9 0h3m1 0h2m1 0h1m1 0h1m10 0h1m2 0h1m2 0h1m4 0h1m1 0h1m3 0h1m3 0h3m1 0h3m1 0h1m2 0h1m1 0h2m3 0h3m2 0h1m1 0h1m3 0h2m9 0h2m1 0h2m1 0h1m3 0h1m2 0h1m4 0h1m3 0h1m1 0h2m1 0h3m2 0h4m5 0h1m1 0h1m6 0h1m1 0h2m1 0h1m1 0h1m1 0h1m1 0h1m3 0h3m3 0h2m1 0h1m5 0h2m6 0h2m4 0h2m1 0h2m3 0h1m1 0h1m1 0h1m4 0h1m3 0h1m15 0h1m4 0h2m4 0h1m1 0h1m2 0h3m4 0h1m12 0h2m9 0h1m3 0h1m4 0h3m2 0h1m2 0h1m2 0h1m4 0h1m4 0h1m1 0h2M631 410h1m4 0h1m7 0h1m2 0h3m3 0h1m1 0h1m1 0h3m6 0h1m1 0h2m1 0h1m2 0h2m2 0h1m1 0h1m2 0h3m2 0h2m12 0h1m1 0h1m8 0h1m3 0h2m1 0h1m1 0h1m6 0h4m2 0h4m1 0h2m1 0h2m2 0h2m1 0h1m2 0h1m1 0h3m6 0h2m3 0h1m4 0h1m1 0h2m8 0h2m1 0h1m2 0h3m1 0h2m1 0h1m2 0h1m5 0h2m1 0h1m2 0h1m3 0h2m3 0h4m2 0h3m1 0h1m5 0h3m1 0h1m7 0h1m4 0h2m4 0h1m2 0h2m1 0h1m3 0h1m1 0h1m1 0h2m3 0h1m3 0h1m2 0h1m6 0h1m1 0h1m5 0h1m1 0h1m3 0h1m3 0h1m2 0h3m1 0h1m5 0h1m3 0h2m1 0h1m3 0h2M627 411h1m3 0h1m1 0h1m1 0h1m1 0h2m4 0h1m1 0h3m2 0h2m2 0h1m3 0h1m7 0h2m3 0h4m3 0h1m1 0h5m4 0h1m1 0h2m1 0h1m3 0h1m2 0h2m9 0h4m4 0h2m1 0h1m4 0h2m1 0h1m1 0h1m4 0h2m4 0h1m4 0h1m12 0h1m5 0h1m1 0h1m2 0h3m3 0h4m9 0h1m2 0h1m2 0h1m3 0h1m1 0h1m1 0h1m1 0h1m4 0h1m2 0h2m1 0h2m3 0h1m3 0h6m2 0h1m3 0h1m3 0h1m5 0h1m3 0h1m2 0h1m4 0h1m5 0h1m2 0h1m7 0h3m1 0h4m2 0h3m1 0h1m2 0h1m6 0h1m2 0h2m4 0h2m3 0h1m1 0h1m4 0h1m5 0h3m3 0h1M635 412h1m1 0h6m5 0h2m1 0h2m2 0h2m3 0h1m1 0h2m1 0h2m12 0h1m4 0h3m2 0h1m6 0h1m1 0h1m3 0h1m2 0h3m2 0h3m1 0h1m3 0h1m3 0h1m1 0h1m2 0h1m4 0h1m7 0h1m3 0h2m3 0h3m2 0h1m1 0h1m1 0h1m1 0h1m5 0h1m2 0h3m1 0h1m1 0h3m1 0h1m1 0h2m5 0h1m1 0h1m1 0h1m4 0h1m1 0h2m1 0h3m1 0h2m6 0h1m2 0h1m2 0h1m2 0h2m1 0h1m2 0h1m1 0h1m1 0h1m2 0h1m4 0h2m1 0h3m2 0h4m1 0h1m5 0h1m12 0h3m1 0h1m1 0h3m3 0h2m3 0h1m2 0h5m7 0h1m5 0h1m1 0h2m2 0h4m1 0h2m2 0h3m1 0h1m1 0h1m2 0h2M628 413h2m4 0h1m3 0h1m1 0h3m2 0h1m1 0h5m4 0h3m1 0h1m1 0h1m4 0h2m1 0h2m4 0h2m1 0h2m1 0h1m1 0h2m3 0h1m2 0h1m1 0h6m3 0h1m3 0h2m1 0h1m2 0h1m1 0h1m2 0h1m2 0h1m3 0h2m1 0h1m4 0h1m2 0h1m4 0h2m3 0h2m1 0h3m1 0h1m4 0h1m1 0h2m4 0h5m6 0h1m1 0h1m3 0h1m1 0h1m5 0h1m2 0h3m1 0h1m2 0h1m3 0h1m1 0h2m1 0h1m2 0h2m3 0h1m1 0h2m1 0h1m2 0h2m3 0h2m1 0h2m4 0h1m1 0h1m3 0h1m9 0h1m7 0h1m1 0h3m1 0h1m1 0h1m2 0h2m2 0h1m3 0h3m4 0h1m2 0h4m2 0h2m3 0h1m2 0h4m5 0h1m1 0h1m3 0h2m1 0h2m3 0h1m1 0h1m1 0h4M627 414h2m4 0h1m3 0h2m1 0h3m1 0h1m2 0h1m3 0h3m1 0h1m1 0h1m3 0h2m1 0h4m1 0h2m2 0h1m3 0h2m1 0h1m2 0h1m2 0h1m1 0h1m1 0h1m2 0h1m2 0h2m2 0h1m1 0h2m4 0h2m3 0h2m3 0h1m3 0h1m2 0h1m1 0h1m1 0h1m1 0h2m1 0h2m1 0h1m5 0h2m4 0h1m2 0h3m8 0h3m2 0h2m3 0h1m2 0h1m1 0h3m10 0h1m2 0h1m1 0h3m1 0h7m2 0h2m1 0h1m3 0h1m3 0h1m1 0h5m2 0h2m1 0h2m2 0h3m1 0h1m7 0h1m3 0h1m2 0h2m2 0h1m5 0h3m1 0h2m3 0h1m3 0h3m3 0h3m6 0h1m1 0h3m3 0h1m4 0h1m1 0h1m1 0h1m2 0h1m10 0h1m1 0h1m1 0h1m2 0h1m3 0h2m1 0h1M629 415h4m2 0h2m1 0h3m3 0h4m1 0h1m1 0h1m5 0h1m2 0h1m1 0h1m1 0h2m5 0h2m1 0h1m2 0h1m1 0h1m6 0h2m1 0h1m1 0h3m5 0h3m1 0h1m3 0h1m1 0h2m1 0h1m1 0h1m2 0h1m5 0h2m1 0h2m1 0h2m4 0h1m1 0h1m3 0h3m1 0h1m3 0h1m1 0h2m1 0h1m1 0h1m2 0h1m2 0h2m1 0h1m1 0h1m4 0h1m3 0h1m1 0h1m2 0h1m2 0h2m1 0h1m2 0h2m2 0h4m1 0h1m1 0h2m2 0h1m1 0h2m2 0h2m2 0h1m7 0h3m8 0h1m2 0h1m1 0h2m2 0h6m1 0h2m12 0h4m5 0h1m3 0h3m1 0h1m3 0h1m1 0h2m1 0h1m1 0h2m2 0h1m1 0h2m3 0h2m1 0h9m1 0h2m4 0h2m1 0h3m3 0h2m1 0h2m1 0h1M627 416h5m5 0h2m1 0h1m2 0h2m7 0h1m1 0h1m2 0h2m1 0h1m4 0h3m1 0h2m3 0h2m2 0h1m2 0h1m4 0h1m1 0h2m1 0h1m2 0h2m2 0h2m1 0h3m1 0h2m1 0h3m1 0h1m2 0h1m7 0h1m3 0h7m2 0h1m1 0h2m3 0h2m2 0h1m1 0h2m8 0h1m1 0h1m1 0h2m4 0h1m2 0h2m5 0h1m2 0h1m3 0h2m1 0h2m7 0h1m5 0h1m1 0h3m1 0h1m1 0h1m1 0h4m2 0h6m1 0h1m3 0h1m1 0h1m1 0h1m2 0h1m2 0h2m2 0h1m2 0h1m1 0h3m1 0h1m1 0h1m2 0h1m1 0h3m4 0h1m4 0h2m3 0h1m3 0h1m1 0h1m1 0h4m1 0h1m1 0h2m1 0h1m2 0h1m5 0h1m1 0h2m2 0h1m1 0h2m3 0h2m3 0h1m5 0h3m3 0h1m1 0h2M627 417h3m2 0h4m3 0h1m5 0h1m2 0h3m2 0h3m2 0h1m5 0h1m1 0h1m2 0h1m1 0h3m2 0h1m2 0h1m1 0h1m2 0h2m1 0h1m1 0h1m4 0h2m2 0h3m1 0h1m1 0h1m1 0h1m1 0h1m2 0h4m1 0h1m1 0h3m2 0h1m2 0h1m6 0h1m2 0h3m4 0h1m1 0h1m1 0h1m1 0h3m2 0h2m1 0h2m2 0h1m3 0h1m1 0h2m1 0h2m6 0h1m2 0h1m1 0h1m1 0h2m2 0h2m1 0h1m3 0h1m1 0h1m1 0h2m2 0h2m4 0h4m1 0h3m1 0h2m4 0h1m6 0h2m2 0h1m1 0h1m5 0h3m1 0h5m2 0h3m1 0h2m2 0h2m1 0h2m2 0h1m2 0h3m3 0h3m3 0h1m1 0h3m2 0h2m7 0h1m3 0h2m1 0h1m3 0h1m1 0h2m2 0h1m1 0h1m1 0h1m3 0h1m2 0h2m1 0h2m1 0h2M627 418h2m1 0h3m2 0h2m2 0h1m1 0h1m1 0h1m4 0h3m8 0h2m2 0h1m2 0h2m5 0h8m2 0h5m1 0h1m2 0h2m1 0h4m2 0h1m3 0h2m3 0h1m3 0h2m10 0h1m3 0h1m4 0h6m2 0h1m11 0h1m5 0h2m1 0h2m1 0h2m2 0h1m1 0h1m2 0h1m2 0h1m2 0h1m1 0h2m3 0h3m3 0h2m2 0h1m3 0h3m2 0h1m6 0h3m2 0h1m1 0h1m5 0h1m1 0h3m1 0h1m1 0h1m2 0h2m1 0h3m1 0h1m1 0h2m1 0h5m1 0h1m1 0h2m2 0h1m8 0h1m3 0h3m1 0h2m1 0h1m2 0h1m4 0h1m7 0h1m1 0h2m4 0h5m1 0h1m4 0h1m2 0h1m1 0h1m1 0h1m2 0h1m1 0h2m3 0h1m1 0h1M627 419h1m1 0h1m1 0h2m1 0h2m1 0h1m5 0h1m2 0h1m4 0h6m2 0h2m1 0h1m3 0h4m1 0h3m2 0h2m1 0h1m3 0h1m3 0h2m1 0h2m4 0h1m1 0h1m1 0h2m2 0h3m6 0h2m3 0h10m2 0h1m6 0h1m2 0h1m2 0h2m1 0h1m2 0h3m2 0h1m1 0h2m1 0h5m3 0h1m1 0h1m2 0h10m3 0h3m1 0h2m1 0h1m1 0h2m2 0h1m1 0h2m4 0h2m2 0h1m1 0h1m6 0h1m2 0h2m3 0h1m2 0h2m2 0h2m1 0h1m2 0h1m1 0h2m1 0h2m1 0h2m3 0h1m2 0h1m1 0h2m1 0h1m1 0h2m1 0h1m2 0h1m3 0h1m3 0h1m3 0h2m1 0h1m1 0h4m10 0h2m2 0h2m10 0h2m1 0h2m2 0h2m2 0h1m2 0h1m1 0h2m1 0h3M628 420h4m2 0h1m2 0h1m1 0h1m1 0h4m1 0h1m1 0h3m2 0h2m2 0h1m1 0h1m2 0h6m1 0h1m2 0h1m1 0h1m1 0h1m2 0h2m7 0h1m2 0h1m2 0h1m4 0h4m1 0h3m3 0h2m3 0h2m2 0h1m1 0h4m1 0h1m1 0h1m1 0h1m1 0h2m1 0h5m2 0h2m2 0h2m2 0h3m1 0h3m1 0h5m1 0h2m3 0h3m4 0h2m1 0h3m2 0h1m1 0h1m2 0h3m3 0h1m1 0h1m4 0h4m2 0h1m3 0h1m1 0h4m2 0h4m1 0h2m2 0h1m2 0h1m1 0h2m1 0h2m1 0h8m1 0h1m1 0h2m1 0h2m2 0h1m1 0h1m2 0h1m1 0h1m2 0h1m1 0h2m1 0h1m4 0h1m3 0h7m1 0h3m1 0h1m1 0h1m1 0h2m2 0h2m1 0h3m1 0h1m1 0h2m2 0h2m1 0h7m1 0h2m2 0h1m1 0h1m1 0h1m2 0h1M627 421h3m1 0h1m6 0h1m1 0h2m1 0h2m4 0h1m1 0h2m1 0h1m2 0h1m1 0h5m3 0h6m1 0h3m2 0h1m1 0h1m1 0h2m1 0h1m2 0h3m1 0h4m1 0h1m2 0h6m2 0h1m1 0h2m1 0h1m3 0h1m1 0h2m2 0h2m2 0h1m2 0h6m1 0h2m1 0h1m4 0h2m1 0h2m3 0h1m1 0h1m1 0h4m2 0h1m1 0h5m3 0h1m2 0h1m1 0h7m1 0h1m1 0h1m1 0h2m1 0h2m1 0h2m3 0h2m1 0h6m2 0h1m3 0h2m1 0h5m1 0h1m1 0h1m3 0h1m1 0h2m2 0h1m1 0h3m1 0h2m4 0h1m1 0h1m2 0h4m1 0h2m1 0h3m2 0h3m1 0h4m2 0h1m1 0h2m1 0h6m1 0h1m2 0h1m2 0h3m1 0h1m1 0h3m1 0h4m2 0h2m1 0h1m1 0h4m1 0h6m3 0h5m2 0h1M627 422h5m4 0h3m1 0h3m1 0h1m1 0h6m1 0h6m1 0h6m1 0h6m1 0h5m2 0h7m2 0h4m1 0h1m1 0h2m3 0h3m1 0h1m1 0h2m2 0h1m1 0h7m1 0h1m1 0h3m1 0h3m1 0h6m1 0h1m1 0h4m1 0h2m2 0h1m1 0h2m1 0h1m1 0h3m1 0h4m1 0h5m1 0h1m1 0h6m1 0h2m1 0h1m1 0h4m1 0h2m1 0h2m1 0h3m1 0h4m2 0h5m1 0h8m1 0h1m4 0h5m1 0h1m3 0h2m1 0h1m1 0h8m2 0h5m1 0h5m1 0h1m1 0h1m1 0h1m1 0h1m1 0h4m1 0h7m1 0h1m1 0h2m1 0h1m1 0h10m3 0h1m1 0h2m1 0h3m1 0h2m1 0h4m1 0h2m2 0h3m1 0h5m2 0h2M627 423h12m1 0h15m1 0h11m1 0h1m2 0h1m1 0h11m1 0h1m1 0h1m1 0h2m2 0h1m1 0h3m1 0h8m1 0h19m1 0h1m1 0h2m1 0h5m1 0h2m1 0h2m1 0h3m1 0h3m2 0h1m1 0h6m1 0h1m1 0h1m1 0h2m1 0h1m1 0h2m1 0h3m2 0h3m1 0h1m1 0h8m2 0h6m1 0h4m1 0h1m1 0h6m1 0h3m3 0h2m2 0h1m2 0h1m2 0h2m1 0h8m2 0h2m1 0h6m1 0h2m1 0h5m1 0h1m1 0h7m1 0h8m1 0h1m1 0h3m1 0h2m1 0h1m1 0h1m1 0h14m1 0h3m1 0h1m1 0h8m2 0h2m1 0h2m1 0h5M627 424h6m1 0h13m1 0h9m1 0h8m1 0h7m1 0h8m2 0h9m1 0h1m1 0h30m1 0h2m1 0h4m1 0h11m2 0h8m1 0h6m1 0h9m2 0h9m1 0h2m2 0h1m1 0h6m1 0h10m1 0h3m1 0h3m1 0h1m2 0h11m3 0h20m1 0h6m1 0h2m1 0h1m2 0h6m1 0h17m1 0h2m2 0h4m1 0h1m1 0h2m1 0h1m1 0h1m1 0h5m1 0h15m1 0h5M627 425h18m1 0h2m1 0h1m1 0h9m1 0h16m1 0h12m1 0h4m2 0h10m1 0h5m1 0h5m1 0h1m1 0h1m1 0h9m1 0h14m1 0h8m1 0h6m1 0h15m1 0h5m1 0h7m2 0h1m1 0h7m1 0h2m1 0h26m1 0h13m2 0h4m1 0h9m1 0h19m2 0h6m1 0h4m1 0h11m2 0h6m2 0h3m1 0h7m1 0h2m1 0h1m1 0h2M627 426h13m1 0h12m1 0h7m2 0h5m1 0h2m1 0h20m1 0h4m1 0h8m1 0h14m1 0h4m1 0h5m1 0h43m1 0h14m1 0h8m1 0h26m1 0h23m1 0h16m1 0h35m1 0h4m1 0h3m1 0h15m1 0h9M627 427h20m1 0h4m1 0h3m1 0h3m1 0h55m1 0h6m1 0h19m1 0h10m1 0h44m1 0h7m1 0h5m1 0h20m1 0h5m1 0h4m1 0h28m1 0h6m1 0h5m1 0h2m1 0h28m1 0h19M628 428h19m1 0h8m1 0h16m1 0h28m1 0h9m1 0h3m2 0h23m1 0h2m1 0h15m1 0h4m1 0h7m1 0h15m1 0h10m1 0h1m1 0h8m2 0h8m1 0h5m1 0h2m2 0h5m1 0h3m1 0h16m1 0h3m1 0h2m1 0h66m1 0h6M627 429h14m1 0h7m1 0h12m1 0h9m1 0h10m1 0h21m1 0h2m1 0h25m1 0h14m1 0h28m1 0h7m1 0h54m1 0h27m1 0h19m1 0h38m2 0h9M627 430h9m1 0h12m1 0h14m1 0h10m1 0h21m1 0h35m1 0h32m1 0h31m1 0h9m1 0h3m1 0h7m1 0h27m1 0h7m1 0h15m1 0h27m1 0h17m1 0h20M627 431h15m1 0h13m1 0h6m1 0h22m1 0h11m1 0h10m1 0h17m1 0h14m1 0h6m1 0h16m1 0h5m1 0h4m1 0h3m1 0h25m1 0h41m1 0h26m1 0h10m1 0h18m1 0h9m1 0h22M627 432h12m1 0h9m2 0h8m1 0h16m1 0h2m1 0h25m1 0h4m1 0h1m1 0h16m1 0h31m1 0h18m1 0h1m1 0h10m1 0h9m1 0h9m1 0h3m1 0h9m2 0h8m1 0h8m1 0h3m1 0h2m1 0h5m1 0h11m1 0h12m1 0h19m1 0h19m1 0h1m2 0h4m1 0h6M628 433h1m1 0h8m1 0h4m1 0h10m1 0h1m1 0h8m1 0h5m1 0h20m1 0h1m1 0h10m2 0h1m1 0h3m1 0h4m1 0h2m1 0h3m1 0h18m1 0h3m1 0h7m2 0h37m1 0h8m1 0h2m1 0h1m1 0h10m1 0h2m1 0h3m1 0h10m1 0h2m1 0h29m1 0h17m1 0h3m1 0h1m1 0h9m1 0h1m1 0h11m1 0h8m2 0h9M628 434h9m1 0h2m1 0h2m1 0h2m1 0h8m1 0h8m1 0h8m1 0h4m2 0h12m1 0h3m1 0h2m1 0h8m1 0h24m1 0h26m1 0h1m1 0h5m2 0h1m1 0h19m1 0h2m1 0h1m1 0h2m1 0h13m1 0h1m1 0h8m2 0h7m2 0h15m1 0h5m1 0h25m1 0h12m2 0h12m1 0h7m1 0h6m1 0h10m1 0h1m1 0h1M627 435h2m1 0h8m1 0h8m1 0h3m1 0h18m1 0h12m1 0h2m2 0h14m1 0h17m1 0h7m1 0h2m1 0h10m1 0h14m1 0h1m1 0h2m1 0h2m1 0h46m1 0h10m1 0h17m2 0h7m1 0h3m1 0h2m2 0h6m1 0h1m2 0h13m2 0h4m1 0h1m1 0h5m1 0h5m2 0h5m1 0h3m1 0h1m1 0h8m2 0h8m1 0h4M627 436h24m1 0h10m1 0h2m1 0h18m1 0h2m1 0h9m1 0h1m1 0h8m1 0h22m1 0h11m1 0h5m1 0h7m2 0h8m1 0h4m1 0h1m1 0h3m1 0h11m1 0h9m2 0h2m2 0h3m1 0h6m2 0h1m1 0h2m2 0h37m1 0h30m1 0h3m1 0h13m2 0h27M627 437h26m1 0h3m1 0h6m1 0h3m2 0h46m1 0h28m1 0h34m1 0h8m1 0h2m1 0h10m1 0h28m1 0h2m1 0h3m1 0h3m1 0h4m1 0h14m1 0h26m1 0h5m1 0h23m1 0h3m1 0h5m1 0h1m2 0h5M627 438h16m1 0h29m2 0h2m1 0h2m1 0h18m1 0h18m1 0h10m1 0h5m1 0h12m1 0h2m1 0h15m1 0h37m1 0h3m1 0h18m1 0h1m1 0h8m1 0h1m1 0h10m1 0h13m1 0h2m1 0h38m1 0h23m1 0h6M627 439h25m1 0h20m1 0h14m1 0h10m1 0h3m1 0h14m1 0h50m1 0h2m1 0h18m1 0h31m2 0h6m1 0h25m1 0h3m1 0h77M627 440h7m1 0h21m1 0h12m1 0h2m1 0h11m1 0h4m1 0h7m1 0h42m1 0h18m1 0h2m1 0h3m1 0h69m1 0h21m2 0h23m1 0h24m1 0h6m2 0h22M627 441h10m1 0h3m1 0h8m1 0h2m2 0h1m1 0h30m1 0h31m1 0h8m1 0h14m1 0h6m1 0h16m1 0h4m1 0h53m1 0h45m1 0h20m1 0h2m2 0h27m1 0h13M627 442h9m1 0h3m1 0h2m2 0h5m2 0h1m2 0h1m1 0h2m1 0h1m1 0h1m2 0h1m1 0h4m2 0h1m1 0h3m1 0h1m1 0h3m1 0h1m1 0h4m1 0h1m2 0h1m1 0h4m2 0h2m1 0h2m2 0h4m2 0h3m1 0h5m1 0h7m1 0h3m1 0h6m1 0h1m1 0h2m2 0h7m1 0h4m1 0h1m1 0h11m2 0h5m1 0h2m1 0h4m1 0h2m1 0h2m1 0h6m2 0h2m4 0h2m1 0h3m1 0h2m1 0h4m1 0h7m2 0h4m1 0h4m1 0h3m1 0h1m1 0h6m2 0h5m1 0h1m2 0h3m2 0h2m1 0h1m2 0h1m1 0h3m3 0h3m1 0h6m1 0h4m4 0h2m1 0h4m1 0h3m2 0h4m1 0h10m1 0h2M922 52h1M821 147h1M677 222h1M677 232h1M730 217h1M739 224h1M709 247h1M758 246h1M800 248h1M860 239h1M922 244h1"/>
<use href="#d1" x="1" y="0" opacity="0.13"/>
<use href="#d1" x="-1" y="0" opacity="0.13"/>
<use href="#d1" x="0" y="1" opacity="0.13"/>
<use href="#d1" x="0" y="-1" opacity="0.13"/>
</g>
<path d="M588.5 32.0V462.0M588.0 461.5H977.8" stroke="#000" stroke-width="1.1" fill="none"/>
<path d="M583.1 443.5H588.0M583.1 391.5H588.0M583.1 339.5H588.0M583.1 287.5H588.0M583.1 235.5H588.0M583.1 183.5H588.0M583.1 132.5H588.0M583.1 80.5H588.0M783.5 461.5v5.4" stroke="#000" stroke-width="1.1" fill="none"/>
<path d="M1277.4,51.6L1277.4,52.1L1277.4,52.6L1277.4,53.1L1277.4,53.6L1277.4,54.1L1277.4,54.6L1277.4,55.1L1277.4,55.6L1277.4,56.1L1277.4,56.6L1277.4,57.1L1277.4,57.6L1277.4,58.1L1277.4,58.6L1277.4,59.1L1277.4,59.6L1277.4,60.1L1277.4,60.6L1277.4,61.1L1277.4,61.6L1277.4,62.1L1277.4,62.6L1277.4,63.1L1277.4,63.6L1277.4,64.1L1277.4,64.6L1277.4,65.1L1277.4,65.6L1277.4,66.1L1277.4,66.6L1277.4,67.1L1277.4,67.6L1277.4,68.1L1277.4,68.6L1277.4,69.1L1277.4,69.6L1277.4,70.1L1277.4,70.6L1277.4,71.1L1277.4,71.6L1277.4,72.1L1277.4,72.6L1277.4,73.1L1277.4,73.6L1277.4,74.1L1277.4,74.6L1277.4,75.1L1277.4,75.6L1277.4,76.1L1277.4,76.6L1277.4,77.1L1277.4,77.6L1277.4,78.1L1277.4,78.6L1277.4,79.1L1277.4,79.6L1277.3,80.1L1277.3,80.6L1277.3,81.1L1277.3,81.6L1277.3,82.1L1277.3,82.6L1277.3,83.1L1277.2,83.6L1277.2,84.1L1277.2,84.6L1277.2,85.1L1277.1,85.6L1277.1,86.1L1277.1,86.6L1277.0,87.1L1277.0,87.6L1277.0,88.1L1276.9,88.6L1276.9,89.1L1276.9,89.6L1276.8,90.1L1276.8,90.6L1276.7,91.1L1276.7,91.6L1276.6,92.1L1276.5,92.6L1276.5,93.1L1276.4,93.6L1276.3,94.1L1276.3,94.6L1276.2,95.1L1276.1,95.6L1276.1,96.1L1276.0,96.6L1275.9,97.1L1275.9,97.6L1275.8,98.1L1275.8,98.6L1275.8,99.1L1275.7,99.6L1275.7,100.1L1275.7,100.6L1275.6,101.1L1275.6,101.6L1275.6,102.1L1275.6,102.6L1275.6,103.1L1275.5,103.6L1275.5,104.1L1275.5,104.6L1275.5,105.1L1275.5,105.6L1275.4,106.1L1275.4,106.6L1275.4,107.1L1275.4,107.6L1275.4,108.1L1275.4,108.6L1275.4,109.1L1275.4,109.6L1275.4,110.1L1275.4,110.6L1275.4,111.1L1275.4,111.6L1275.4,112.1L1275.4,112.6L1275.4,113.1L1275.4,113.6L1275.4,114.1L1275.4,114.6L1275.4,115.1L1275.4,115.6L1275.4,116.1L1275.4,116.6L1275.5,117.1L1275.5,117.6L1275.5,118.1L1275.5,118.6L1275.5,119.1L1275.5,119.6L1275.5,120.1L1275.5,120.6L1275.5,121.1L1275.5,121.6L1275.5,122.1L1275.5,122.6L1275.5,123.1L1275.5,123.6L1275.5,124.1L1275.5,124.6L1275.5,125.1L1275.5,125.6L1275.5,126.1L1275.5,126.6L1275.5,127.1L1275.5,127.6L1275.5,128.1L1275.5,128.6L1275.5,129.1L1275.5,129.6L1275.5,130.1L1275.5,130.6L1275.5,131.1L1275.5,131.6L1275.5,132.1L1275.5,132.6L1275.5,133.1L1275.5,133.6L1275.5,134.1L1275.5,134.6L1275.5,135.1L1275.5,135.6L1275.5,136.1L1275.5,136.6L1275.5,137.1L1275.5,137.6L1275.5,138.1L1275.5,138.6L1275.5,139.1L1275.5,139.6L1275.5,140.1L1275.5,140.6L1275.5,141.1L1275.5,141.6L1275.5,142.1L1275.5,142.6L1275.5,143.1L1275.5,143.6L1275.5,144.1L1275.5,144.6L1275.5,145.1L1275.5,145.6L1275.5,146.1L1275.5,146.6L1275.5,147.1L1275.5,147.6L1275.5,148.1L1275.5,148.6L1275.5,149.1L1275.5,149.6L1275.5,150.1L1275.5,150.6L1275.5,151.1L1275.5,151.6L1275.5,152.1L1275.5,152.6L1275.5,153.1L1275.5,153.6L1275.5,154.1L1275.5,154.6L1275.5,155.1L1275.5,155.6L1275.5,156.1L1275.5,156.6L1275.5,157.1L1275.5,157.6L1275.5,158.1L1275.5,158.6L1275.5,159.1L1275.5,159.6L1275.5,160.1L1275.5,160.6L1275.5,161.1L1275.5,161.6L1275.5,162.1L1275.5,162.6L1275.5,163.1L1275.5,163.6L1275.5,164.1L1275.5,164.6L1275.5,165.1L1275.5,165.6L1275.5,166.1L1275.5,166.6L1275.5,167.1L1275.5,167.6L1275.5,168.1L1275.5,168.6L1275.5,169.1L1275.5,169.6L1275.5,170.1L1275.5,170.6L1275.5,171.1L1275.5,171.6L1275.4,172.1L1275.4,172.6L1275.4,173.1L1275.4,173.6L1275.4,174.1L1275.4,174.6L1275.4,175.1L1275.4,175.6L1275.4,176.1L1275.4,176.6L1275.4,177.1L1275.4,177.6L1275.4,178.1L1275.4,178.6L1275.4,179.1L1275.4,179.6L1275.4,180.1L1275.4,180.6L1275.4,181.1L1275.3,181.6L1275.3,182.1L1275.3,182.6L1275.3,183.1L1275.3,183.6L1275.3,184.1L1275.3,184.6L1275.3,185.1L1275.3,185.6L1275.3,186.1L1275.3,186.6L1275.3,187.1L1275.3,187.6L1275.3,188.1L1275.2,188.6L1275.2,189.1L1275.2,189.6L1275.2,190.1L1275.2,190.6L1275.2,191.1L1275.2,191.6L1275.2,192.1L1275.2,192.6L1275.2,193.1L1275.2,193.6L1275.2,194.1L1275.2,194.6L1275.1,195.1L1275.1,195.6L1275.1,196.1L1275.1,196.6L1275.1,197.1L1275.1,197.6L1275.1,198.1L1275.1,198.6L1275.1,199.1L1275.1,199.6L1275.1,200.1L1275.1,200.6L1275.0,201.1L1275.0,201.6L1275.0,202.1L1275.0,202.6L1275.0,203.1L1275.0,203.6L1275.0,204.1L1275.0,204.6L1275.0,205.1L1275.0,205.6L1275.0,206.1L1275.0,206.6L1274.9,207.1L1274.9,207.6L1274.9,208.1L1274.9,208.6L1274.9,209.1L1274.9,209.6L1274.9,210.1L1274.9,210.6L1274.9,211.1L1274.9,211.6L1274.8,212.1L1274.8,212.6L1274.8,213.1L1274.8,213.6L1274.8,214.1L1274.8,214.6L1274.8,215.1L1274.8,215.6L1274.8,216.1L1274.7,216.6L1274.7,217.1L1274.7,217.6L1274.7,218.1L1274.7,218.6L1274.7,219.1L1274.7,219.6L1274.6,220.1L1274.6,220.6L1274.6,221.1L1274.6,221.6L1274.6,222.1L1274.6,222.6L1274.6,223.1L1274.5,223.6L1274.5,224.1L1274.5,224.6L1274.5,225.1L1274.5,225.6L1274.5,226.1L1274.5,226.6L1274.4,227.1L1274.4,227.6L1274.4,228.1L1274.4,228.6L1274.4,229.1L1274.4,229.6L1274.3,230.1L1274.3,230.6L1274.3,231.1L1274.3,231.6L1274.3,232.1L1274.2,232.6L1274.2,233.1L1274.2,233.6L1274.2,234.1L1274.2,234.6L1274.2,235.1L1274.1,235.6L1274.1,236.1L1274.1,236.6L1274.1,237.1L1274.1,237.6L1274.0,238.1L1274.0,238.6L1274.0,239.1L1274.0,239.6L1274.0,240.1L1273.9,240.6L1273.9,241.1L1273.9,241.6L1273.9,242.1L1273.8,242.6L1273.8,243.1L1273.8,243.6L1273.8,244.1L1273.8,244.6L1273.7,245.1L1273.7,245.6L1273.7,246.1L1273.7,246.6L1273.6,247.1L1273.6,247.6L1273.6,248.1L1273.6,248.6L1273.5,249.1L1273.5,249.6L1273.5,250.1L1273.5,250.6L1273.4,251.1L1273.4,251.6L1273.4,252.1L1273.3,252.6L1273.3,253.1L1273.3,253.6L1273.2,254.1L1273.2,254.6L1273.1,255.1L1273.1,255.6L1273.1,256.1L1273.0,256.6L1273.0,257.1L1272.9,257.6L1272.9,258.1L1272.8,258.6L1272.8,259.1L1272.8,259.6L1272.7,260.1L1272.7,260.6L1272.6,261.1L1272.6,261.6L1272.5,262.1L1272.5,262.6L1272.4,263.1L1272.4,263.6L1272.3,264.1L1272.3,264.6L1272.2,265.1L1272.2,265.6L1272.2,266.1L1272.1,266.6L1272.1,267.1L1272.0,267.6L1272.0,268.1L1271.9,268.6L1271.9,269.1L1271.8,269.6L1271.8,270.1L1271.7,270.6L1271.7,271.1L1271.6,271.6L1271.6,272.1L1271.5,272.6L1271.5,273.1L1271.4,273.6L1271.4,274.1L1271.3,274.6L1271.3,275.1L1271.2,275.6L1271.2,276.1L1271.1,276.6L1271.1,277.1L1271.0,277.6L1270.9,278.1L1270.9,278.6L1270.8,279.1L1270.8,279.6L1270.7,280.1L1270.7,280.6L1270.7,281.1L1270.6,281.6L1270.6,282.1L1270.5,282.6L1270.5,283.1L1270.5,283.6L1270.5,284.1L1270.5,284.6L1270.4,285.1L1270.4,285.6L1270.4,286.1L1270.4,286.6L1270.4,287.1L1270.4,287.6L1270.4,288.1L1270.4,288.6L1270.3,289.1L1270.3,289.6L1270.3,290.1L1270.3,290.6L1270.2,291.1L1270.1,291.6L1270.1,292.1L1270.0,292.6L1269.9,293.1L1269.8,293.6L1269.7,294.1L1269.6,294.6L1269.5,295.1L1269.3,295.6L1269.2,296.1L1269.1,296.6L1269.0,297.1L1268.8,297.6L1268.7,298.1L1268.6,298.6L1268.5,299.1L1268.4,299.6L1268.3,300.1L1268.2,300.6L1268.1,301.1L1268.0,301.6L1267.9,302.1L1267.8,302.6L1267.7,303.1L1267.7,303.6L1267.6,304.1L1267.5,304.6L1267.4,305.1L1267.3,305.6L1267.2,306.1L1267.1,306.6L1267.0,307.1L1267.0,307.6L1266.9,308.1L1266.8,308.6L1266.7,309.1L1266.6,309.6L1266.5,310.1L1266.4,310.6L1266.3,311.1L1266.2,311.6L1266.1,312.1L1265.9,312.6L1265.8,313.1L1265.7,313.6L1265.5,314.1L1265.4,314.6L1265.3,315.1L1265.1,315.6L1265.0,316.1L1264.9,316.6L1264.7,317.1L1264.6,317.6L1264.5,318.1L1264.3,318.6L1264.2,319.1L1264.1,319.6L1264.0,320.1L1263.9,320.6L1263.8,321.1L1263.7,321.6L1263.6,322.1L1263.5,322.6L1263.4,323.1L1263.3,323.6L1263.2,324.1L1263.1,324.6L1263.0,325.1L1262.9,325.6L1262.8,326.1L1262.7,326.6L1262.6,327.1L1262.5,327.6L1262.4,328.1L1262.3,328.6L1262.3,329.1L1262.2,329.6L1262.1,330.1L1262.0,330.6L1261.9,331.1L1261.8,331.6L1261.8,332.1L1261.7,332.6L1261.6,333.1L1261.6,333.6L1261.5,334.1L1261.4,334.6L1261.4,335.1L1261.3,335.6L1261.3,336.1L1261.2,336.6L1261.2,337.1L1261.2,337.6L1261.1,338.1L1261.1,338.6L1261.1,339.1L1261.1,339.6L1261.1,340.1L1261.1,340.6L1261.1,341.1L1261.1,341.6L1261.1,342.1L1261.1,342.6L1261.1,343.1L1261.1,343.6L1261.1,344.1L1261.1,344.6L1261.1,345.1L1261.1,345.6L1261.1,346.1L1261.1,346.6L1261.1,347.1L1261.1,347.6L1261.1,348.1L1261.1,348.6L1261.1,349.1L1261.1,349.6L1261.1,350.1L1261.1,350.6L1261.1,351.1L1261.1,351.6L1261.1,352.1L1261.1,352.6L1261.1,353.1L1261.1,353.6L1261.1,354.1L1261.1,354.6L1261.1,355.1L1261.1,355.6L1261.1,356.1L1261.1,356.6L1261.1,357.1L1261.1,357.6L1261.1,358.1L1261.1,358.6L1261.1,359.1L1261.1,359.6L1261.1,360.1L1261.1,360.6L1261.1,361.1L1261.1,361.6L1261.1,362.1L1261.1,362.6L1261.1,363.1L1261.1,363.6L1261.1,364.1L1261.1,364.6L1261.1,365.1L1261.1,365.6L1261.1,366.1L1261.1,366.6L1261.1,367.1L1261.1,367.6L1261.0,368.1L1261.0,368.6L1261.0,369.1L1261.0,369.6L1261.0,370.1L1261.0,370.6L1261.0,371.1L1261.0,371.6L1261.0,372.1L1261.0,372.6L1260.9,373.1L1260.9,373.6L1260.9,374.1L1260.9,374.6L1260.9,375.1L1260.9,375.6L1260.8,376.1L1260.8,376.6L1260.7,377.1L1260.7,377.6L1260.6,378.1L1260.5,378.6L1260.4,379.1L1260.2,379.6L1260.1,380.1L1260.0,380.6L1259.8,381.1L1259.6,381.6L1259.5,382.1L1259.2,382.6L1258.7,383.1L1258.2,383.6L1257.6,384.1L1256.9,384.6L1256.1,385.1L1255.3,385.6L1254.5,386.1L1253.5,386.6L1252.2,387.1L1250.7,387.6L1249.3,388.1L1248.0,388.6L1247.2,389.1L1246.8,389.6L1246.6,390.1L1246.1,390.6L1245.1,391.1L1243.7,391.6L1242.0,392.1L1240.1,392.6L1238.0,393.1L1235.7,393.6L1233.4,394.1L1231.1,394.6L1228.9,395.1L1226.7,395.6L1224.7,396.1L1222.7,396.6L1220.7,397.1L1218.7,397.6L1216.6,398.1L1214.4,398.6L1212.2,399.1L1209.9,399.6L1207.5,400.1L1204.9,400.6L1202.2,401.1L1199.2,401.6L1195.9,402.1L1192.3,402.6L1188.6,403.1L1185.0,403.6L1181.6,404.1L1178.5,404.6L1175.5,405.1L1172.6,405.6L1169.8,406.1L1167.1,406.6L1164.4,407.1L1161.6,407.6L1158.9,408.1L1156.0,408.6L1153.0,409.1L1150.0,409.6L1146.8,410.1L1143.7,410.6L1140.7,411.1L1137.9,411.6L1135.3,412.1L1133.1,412.6L1131.1,413.1L1129.3,413.6L1127.7,414.1L1126.2,414.6L1124.7,415.1L1123.5,415.6L1123.1,416.1L1123.1,416.6L1123.1,417.1L1123.1,417.6L1123.6,418.1L1124.5,418.6L1125.6,419.1L1126.7,419.6L1128.0,420.1L1129.5,420.6L1131.1,421.1L1132.8,421.6L1134.6,422.1L1136.6,422.6L1138.7,423.1L1140.9,423.6L1143.2,424.1L1145.6,424.6L1147.9,425.1L1150.3,425.6L1152.6,426.1L1154.9,426.6L1157.0,427.1L1159.1,427.6L1161.2,428.1L1163.2,428.6L1165.2,429.1L1167.2,429.6L1169.2,430.1L1171.2,430.6L1173.1,431.1L1175.1,431.6L1177.0,432.1L1178.9,432.6L1180.9,433.1L1182.9,433.6L1184.9,434.1L1186.9,434.6L1188.9,435.1L1190.8,435.6L1192.7,436.1L1194.4,436.6L1196.1,437.1L1197.6,437.6L1198.9,438.1L1200.2,438.6L1201.4,439.1L1202.6,439.6L1203.8,440.1L1204.9,440.6L1206.1,441.1L1206.1,441.1L1349.3,441.1L1349.3,441.1L1350.5,440.6L1351.6,440.1L1352.8,439.6L1354.0,439.1L1355.2,438.6L1356.5,438.1L1357.8,437.6L1359.3,437.1L1361.0,436.6L1362.7,436.1L1364.6,435.6L1366.5,435.1L1368.5,434.6L1370.5,434.1L1372.5,433.6L1374.5,433.1L1376.5,432.6L1378.4,432.1L1380.3,431.6L1382.3,431.1L1384.2,430.6L1386.2,430.1L1388.2,429.6L1390.2,429.1L1392.2,428.6L1394.2,428.1L1396.3,427.6L1398.4,427.1L1400.5,426.6L1402.8,426.1L1405.1,425.6L1407.5,425.1L1409.8,424.6L1412.2,424.1L1414.5,423.6L1416.7,423.1L1418.8,422.6L1420.8,422.1L1422.6,421.6L1424.3,421.1L1425.9,420.6L1427.4,420.1L1428.7,419.6L1429.8,419.1L1430.9,418.6L1431.8,418.1L1432.3,417.6L1432.3,417.1L1432.3,416.6L1432.3,416.1L1431.9,415.6L1430.7,415.1L1429.2,414.6L1427.7,414.1L1426.1,413.6L1424.3,413.1L1422.3,412.6L1420.1,412.1L1417.5,411.6L1414.7,411.1L1411.7,410.6L1408.6,410.1L1405.4,409.6L1402.4,409.1L1399.4,408.6L1396.5,408.1L1393.8,407.6L1391.0,407.1L1388.3,406.6L1385.6,406.1L1382.8,405.6L1379.9,405.1L1376.9,404.6L1373.8,404.1L1370.4,403.6L1366.8,403.1L1363.1,402.6L1359.5,402.1L1356.2,401.6L1353.2,401.1L1350.5,400.6L1347.9,400.1L1345.5,399.6L1343.2,399.1L1341.0,398.6L1338.8,398.1L1336.7,397.6L1334.7,397.1L1332.7,396.6L1330.7,396.1L1328.7,395.6L1326.5,395.1L1324.3,394.6L1322.0,394.1L1319.7,393.6L1317.4,393.1L1315.3,392.6L1313.4,392.1L1311.7,391.6L1310.3,391.1L1309.3,390.6L1308.8,390.1L1308.6,389.6L1308.2,389.1L1307.4,388.6L1306.1,388.1L1304.7,387.6L1303.2,387.1L1301.9,386.6L1300.9,386.1L1300.1,385.6L1299.3,385.1L1298.5,384.6L1297.8,384.1L1297.2,383.6L1296.7,383.1L1296.2,382.6L1295.9,382.1L1295.8,381.6L1295.6,381.1L1295.4,380.6L1295.3,380.1L1295.2,379.6L1295.0,379.1L1294.9,378.6L1294.8,378.1L1294.7,377.6L1294.7,377.1L1294.6,376.6L1294.6,376.1L1294.5,375.6L1294.5,375.1L1294.5,374.6L1294.5,374.1L1294.5,373.6L1294.5,373.1L1294.4,372.6L1294.4,372.1L1294.4,371.6L1294.4,371.1L1294.4,370.6L1294.4,370.1L1294.4,369.6L1294.4,369.1L1294.4,368.6L1294.4,368.1L1294.3,367.6L1294.3,367.1L1294.3,366.6L1294.3,366.1L1294.3,365.6L1294.3,365.1L1294.3,364.6L1294.3,364.1L1294.3,363.6L1294.3,363.1L1294.3,362.6L1294.3,362.1L1294.3,361.6L1294.3,361.1L1294.3,360.6L1294.3,360.1L1294.3,359.6L1294.3,359.1L1294.3,358.6L1294.3,358.1L1294.3,357.6L1294.3,357.1L1294.3,356.6L1294.3,356.1L1294.3,355.6L1294.3,355.1L1294.3,354.6L1294.3,354.1L1294.3,353.6L1294.3,353.1L1294.3,352.6L1294.3,352.1L1294.3,351.6L1294.3,351.1L1294.3,350.6L1294.3,350.1L1294.3,349.6L1294.3,349.1L1294.3,348.6L1294.3,348.1L1294.3,347.6L1294.3,347.1L1294.3,346.6L1294.3,346.1L1294.3,345.6L1294.3,345.1L1294.3,344.6L1294.3,344.1L1294.3,343.6L1294.3,343.1L1294.3,342.6L1294.3,342.1L1294.3,341.6L1294.3,341.1L1294.3,340.6L1294.3,340.1L1294.3,339.6L1294.3,339.1L1294.3,338.6L1294.3,338.1L1294.2,337.6L1294.2,337.1L1294.2,336.6L1294.1,336.1L1294.1,335.6L1294.0,335.1L1294.0,334.6L1293.9,334.1L1293.8,333.6L1293.8,333.1L1293.7,332.6L1293.6,332.1L1293.6,331.6L1293.5,331.1L1293.4,330.6L1293.3,330.1L1293.2,329.6L1293.1,329.1L1293.1,328.6L1293.0,328.1L1292.9,327.6L1292.8,327.1L1292.7,326.6L1292.6,326.1L1292.5,325.6L1292.4,325.1L1292.3,324.6L1292.2,324.1L1292.1,323.6L1292.0,323.1L1291.9,322.6L1291.8,322.1L1291.7,321.6L1291.6,321.1L1291.5,320.6L1291.4,320.1L1291.3,319.6L1291.2,319.1L1291.1,318.6L1290.9,318.1L1290.8,317.6L1290.7,317.1L1290.5,316.6L1290.4,316.1L1290.3,315.6L1290.1,315.1L1290.0,314.6L1289.9,314.1L1289.7,313.6L1289.6,313.1L1289.5,312.6L1289.3,312.1L1289.2,311.6L1289.1,311.1L1289.0,310.6L1288.9,310.1L1288.8,309.6L1288.7,309.1L1288.6,308.6L1288.5,308.1L1288.4,307.6L1288.4,307.1L1288.3,306.6L1288.2,306.1L1288.1,305.6L1288.0,305.1L1287.9,304.6L1287.8,304.1L1287.7,303.6L1287.7,303.1L1287.6,302.6L1287.5,302.1L1287.4,301.6L1287.3,301.1L1287.2,300.6L1287.1,300.1L1287.0,299.6L1286.9,299.1L1286.8,298.6L1286.7,298.1L1286.6,297.6L1286.4,297.1L1286.3,296.6L1286.2,296.1L1286.1,295.6L1285.9,295.1L1285.8,294.6L1285.7,294.1L1285.6,293.6L1285.5,293.1L1285.4,292.6L1285.3,292.1L1285.3,291.6L1285.2,291.1L1285.1,290.6L1285.1,290.1L1285.1,289.6L1285.1,289.1L1285.0,288.6L1285.0,288.1L1285.0,287.6L1285.0,287.1L1285.0,286.6L1285.0,286.1L1285.0,285.6L1285.0,285.1L1284.9,284.6L1284.9,284.1L1284.9,283.6L1284.9,283.1L1284.9,282.6L1284.8,282.1L1284.8,281.6L1284.7,281.1L1284.7,280.6L1284.7,280.1L1284.6,279.6L1284.6,279.1L1284.5,278.6L1284.5,278.1L1284.4,277.6L1284.3,277.1L1284.3,276.6L1284.2,276.1L1284.2,275.6L1284.1,275.1L1284.1,274.6L1284.0,274.1L1284.0,273.6L1283.9,273.1L1283.9,272.6L1283.8,272.1L1283.8,271.6L1283.7,271.1L1283.7,270.6L1283.6,270.1L1283.6,269.6L1283.5,269.1L1283.5,268.6L1283.4,268.1L1283.4,267.6L1283.3,267.1L1283.3,266.6L1283.2,266.1L1283.2,265.6L1283.2,265.1L1283.1,264.6L1283.1,264.1L1283.0,263.6L1283.0,263.1L1282.9,262.6L1282.9,262.1L1282.8,261.6L1282.8,261.1L1282.7,260.6L1282.7,260.1L1282.6,259.6L1282.6,259.1L1282.6,258.6L1282.5,258.1L1282.5,257.6L1282.4,257.1L1282.4,256.6L1282.3,256.1L1282.3,255.6L1282.3,255.1L1282.2,254.6L1282.2,254.1L1282.1,253.6L1282.1,253.1L1282.1,252.6L1282.0,252.1L1282.0,251.6L1282.0,251.1L1281.9,250.6L1281.9,250.1L1281.9,249.6L1281.9,249.1L1281.8,248.6L1281.8,248.1L1281.8,247.6L1281.8,247.1L1281.7,246.6L1281.7,246.1L1281.7,245.6L1281.7,245.1L1281.6,244.6L1281.6,244.1L1281.6,243.6L1281.6,243.1L1281.6,242.6L1281.5,242.1L1281.5,241.6L1281.5,241.1L1281.5,240.6L1281.4,240.1L1281.4,239.6L1281.4,239.1L1281.4,238.6L1281.4,238.1L1281.3,237.6L1281.3,237.1L1281.3,236.6L1281.3,236.1L1281.3,235.6L1281.2,235.1L1281.2,234.6L1281.2,234.1L1281.2,233.6L1281.2,233.1L1281.2,232.6L1281.1,232.1L1281.1,231.6L1281.1,231.1L1281.1,230.6L1281.1,230.1L1281.0,229.6L1281.0,229.1L1281.0,228.6L1281.0,228.1L1281.0,227.6L1281.0,227.1L1280.9,226.6L1280.9,226.1L1280.9,225.6L1280.9,225.1L1280.9,224.6L1280.9,224.1L1280.9,223.6L1280.8,223.1L1280.8,222.6L1280.8,222.1L1280.8,221.6L1280.8,221.1L1280.8,220.6L1280.8,220.1L1280.7,219.6L1280.7,219.1L1280.7,218.6L1280.7,218.1L1280.7,217.6L1280.7,217.1L1280.7,216.6L1280.6,216.1L1280.6,215.6L1280.6,215.1L1280.6,214.6L1280.6,214.1L1280.6,213.6L1280.6,213.1L1280.6,212.6L1280.6,212.1L1280.5,211.6L1280.5,211.1L1280.5,210.6L1280.5,210.1L1280.5,209.6L1280.5,209.1L1280.5,208.6L1280.5,208.1L1280.5,207.6L1280.5,207.1L1280.4,206.6L1280.4,206.1L1280.4,205.6L1280.4,205.1L1280.4,204.6L1280.4,204.1L1280.4,203.6L1280.4,203.1L1280.4,202.6L1280.4,202.1L1280.4,201.6L1280.4,201.1L1280.3,200.6L1280.3,200.1L1280.3,199.6L1280.3,199.1L1280.3,198.6L1280.3,198.1L1280.3,197.6L1280.3,197.1L1280.3,196.6L1280.3,196.1L1280.3,195.6L1280.3,195.1L1280.2,194.6L1280.2,194.1L1280.2,193.6L1280.2,193.1L1280.2,192.6L1280.2,192.1L1280.2,191.6L1280.2,191.1L1280.2,190.6L1280.2,190.1L1280.2,189.6L1280.2,189.1L1280.2,188.6L1280.1,188.1L1280.1,187.6L1280.1,187.1L1280.1,186.6L1280.1,186.1L1280.1,185.6L1280.1,185.1L1280.1,184.6L1280.1,184.1L1280.1,183.6L1280.1,183.1L1280.1,182.6L1280.1,182.1L1280.1,181.6L1280.0,181.1L1280.0,180.6L1280.0,180.1L1280.0,179.6L1280.0,179.1L1280.0,178.6L1280.0,178.1L1280.0,177.6L1280.0,177.1L1280.0,176.6L1280.0,176.1L1280.0,175.6L1280.0,175.1L1280.0,174.6L1280.0,174.1L1280.0,173.6L1280.0,173.1L1280.0,172.6L1280.0,172.1L1279.9,171.6L1279.9,171.1L1279.9,170.6L1279.9,170.1L1279.9,169.6L1279.9,169.1L1279.9,168.6L1279.9,168.1L1279.9,167.6L1279.9,167.1L1279.9,166.6L1279.9,166.1L1279.9,165.6L1279.9,165.1L1279.9,164.6L1279.9,164.1L1279.9,163.6L1279.9,163.1L1279.9,162.6L1279.9,162.1L1279.9,161.6L1279.9,161.1L1279.9,160.6L1279.9,160.1L1279.9,159.6L1279.9,159.1L1279.9,158.6L1279.9,158.1L1279.9,157.6L1279.9,157.1L1279.9,156.6L1279.9,156.1L1279.9,155.6L1279.9,155.1L1279.9,154.6L1279.9,154.1L1279.9,153.6L1279.9,153.1L1279.9,152.6L1279.9,152.1L1279.9,151.6L1279.9,151.1L1279.9,150.6L1279.9,150.1L1279.9,149.6L1279.9,149.1L1279.9,148.6L1279.9,148.1L1279.9,147.6L1279.9,147.1L1279.9,146.6L1279.9,146.1L1279.9,145.6L1279.9,145.1L1279.9,144.6L1279.9,144.1L1279.9,143.6L1279.9,143.1L1279.9,142.6L1279.9,142.1L1279.9,141.6L1279.9,141.1L1279.9,140.6L1279.9,140.1L1279.9,139.6L1279.9,139.1L1279.9,138.6L1279.9,138.1L1279.9,137.6L1279.9,137.1L1279.9,136.6L1279.9,136.1L1279.9,135.6L1279.9,135.1L1279.9,134.6L1279.9,134.1L1279.9,133.6L1279.9,133.1L1279.9,132.6L1279.9,132.1L1279.9,131.6L1279.9,131.1L1279.9,130.6L1279.9,130.1L1279.9,129.6L1279.9,129.1L1279.9,128.6L1279.9,128.1L1279.9,127.6L1279.9,127.1L1279.9,126.6L1279.9,126.1L1279.9,125.6L1279.9,125.1L1279.9,124.6L1279.9,124.1L1279.9,123.6L1279.9,123.1L1279.9,122.6L1279.9,122.1L1279.9,121.6L1279.9,121.1L1279.9,120.6L1279.9,120.1L1279.9,119.6L1279.9,119.1L1279.9,118.6L1279.9,118.1L1279.9,117.6L1279.9,117.1L1280.0,116.6L1280.0,116.1L1280.0,115.6L1280.0,115.1L1280.0,114.6L1280.0,114.1L1280.0,113.6L1280.0,113.1L1280.0,112.6L1280.0,112.1L1280.0,111.6L1280.0,111.1L1280.0,110.6L1280.0,110.1L1280.0,109.6L1280.0,109.1L1280.0,108.6L1280.0,108.1L1280.0,107.6L1280.0,107.1L1280.0,106.6L1280.0,106.1L1279.9,105.6L1279.9,105.1L1279.9,104.6L1279.9,104.1L1279.9,103.6L1279.8,103.1L1279.8,102.6L1279.8,102.1L1279.8,101.6L1279.8,101.1L1279.7,100.6L1279.7,100.1L1279.7,99.6L1279.6,99.1L1279.6,98.6L1279.6,98.1L1279.5,97.6L1279.5,97.1L1279.4,96.6L1279.3,96.1L1279.3,95.6L1279.2,95.1L1279.1,94.6L1279.1,94.1L1279.0,93.6L1278.9,93.1L1278.9,92.6L1278.8,92.1L1278.7,91.6L1278.7,91.1L1278.6,90.6L1278.6,90.1L1278.5,89.6L1278.5,89.1L1278.5,88.6L1278.4,88.1L1278.4,87.6L1278.4,87.1L1278.3,86.6L1278.3,86.1L1278.3,85.6L1278.2,85.1L1278.2,84.6L1278.2,84.1L1278.2,83.6L1278.1,83.1L1278.1,82.6L1278.1,82.1L1278.1,81.6L1278.1,81.1L1278.1,80.6L1278.1,80.1L1278.0,79.6L1278.0,79.1L1278.0,78.6L1278.0,78.1L1278.0,77.6L1278.0,77.1L1278.0,76.6L1278.0,76.1L1278.0,75.6L1278.0,75.1L1278.0,74.6L1278.0,74.1L1278.0,73.6L1278.0,73.1L1278.0,72.6L1278.0,72.1L1278.0,71.6L1278.0,71.1L1278.0,70.6L1278.0,70.1L1278.0,69.6L1278.0,69.1L1278.0,68.6L1278.0,68.1L1278.0,67.6L1278.0,67.1L1278.0,66.6L1278.0,66.1L1278.0,65.6L1278.0,65.1L1278.0,64.6L1278.0,64.1L1278.0,63.6L1278.0,63.1L1278.0,62.6L1278.0,62.1L1278.0,61.6L1278.0,61.1L1278.0,60.6L1278.0,60.1L1278.0,59.6L1278.0,59.1L1278.0,58.6L1278.0,58.1L1278.0,57.6L1278.0,57.1L1278.0,56.6L1278.0,56.1L1278.0,55.6L1278.0,55.1L1278.0,54.6L1278.0,54.1L1278.0,53.6L1278.0,53.1L1278.0,52.6L1278.0,52.1L1278.0,51.6Z" fill="#3274a1" stroke="#383838" stroke-width="1.6" stroke-linejoin="round"/>
<path d="M1083.0 442.5H1471.9" stroke="#c9c9c9" stroke-width="1"/>
<path d="M1083.0 363.5H1471.9" stroke="#c9c9c9" stroke-width="1"/>
<path d="M1083.0 283.5H1471.9" stroke="#c9c9c9" stroke-width="1"/>
<path d="M1083.0 204.5H1471.9" stroke="#c9c9c9" stroke-width="1"/>
<path d="M1083.0 125.5H1471.9" stroke="#c9c9c9" stroke-width="1"/>
<path d="M1083.0 46.5H1471.9" stroke="#c9c9c9" stroke-width="1"/>
<g transform="translate(0,.5)" stroke="#000" stroke-width="1" fill="none" shape-rendering="crispEdges"><path id="d2" d="M1166 65h1M1361 66h1M1153 70h1M1204 71h1m49 0h1m86 0h1M1426 73h1M1287 74h1M1250 77h1M1218 79h1m169 0h1M1127 80h1M1216 82h1M1292 83h1M1161 84h1M1253 85h1M1203 86h1m22 0h1m6 0h1m109 0h1m59 0h1M1129 87h1m272 0h1M1241 88h1M1182 89h1m54 0h1m27 0h1m79 0h1m82 0h1M1140 90h1m211 0h1m17 0h1m20 0h2m13 0h1M1245 91h1m108 0h1M1152 92h1m103 0h1m133 0h1M1154 93h1m208 0h1M1197 94h1m101 0h1M1162 95h1m222 0h1M1202 96h1m146 0h1m50 0h1m25 0h1M1254 97h1m46 0h1m109 0h1M1158 98h1m117 0h1m11 0h1M1160 99h1m211 0h1M1123 100h1m9 0h1m38 0h1m87 0h1m146 0h1M1186 101h1m4 0h1m9 0h1m47 0h1m66 0h1M1296 102h1M1216 103h1m203 0h1M1146 104h1m55 0h1m63 0h1m14 0h1M1130 105h1m52 0h1m11 0h1m47 0h1m62 0h1M1144 106h1m9 0h1m87 0h1m47 0h1m99 0h1M1184 107h1m83 0h1m49 0h1m6 0h1m29 0h1m38 0h1M1237 108h1m37 0h1m88 0h1m14 0h1M1150 109h1m27 0h1M1179 110h1m27 0h1m7 0h1m41 0h1m57 0h1m52 0h1m50 0h1M1207 111h1m124 0h1M1202 112h1m4 0h1m30 0h1m23 0h1m160 0h1M1155 113h1m145 0h1m38 0h1m89 0h1M1146 114h1m148 0h1M1433 115h1M1258 116h1m66 0h1m68 0h1m24 0h1m12 0h1M1124 117h1m109 0h1m180 0h1M1203 118h1m14 0h1m74 0h1m17 0h1m9 0h1m22 0h1m42 0h1M1173 119h1m72 0h1m112 0h1m3 0h1m60 0h1M1133 120h1m21 0h1m9 0h1m43 0h1m40 0h1m85 0h1M1144 121h1m63 0h1m5 0h1m25 0h1m36 0h1M1162 122h1m49 0h1m36 0h1m21 0h1m69 0h1M1137 123h1m13 0h1m62 0h1m28 0h1m20 0h1m81 0h1M1133 124h1m9 0h1m107 0h1m21 0h1m28 0h1m107 0h1M1167 125h1m45 0h1m162 0h1m13 0h1M1136 126h1m49 0h1m33 0h1m19 0h1m49 0h1m39 0h1m78 0h1M1153 127h1m165 0h1m102 0h1M1157 128h1m236 0h1m8 0h1M1181 129h1m128 0h1m28 0h1M1182 130h1m102 0h1m13 0h1m103 0h1M1236 131h1m12 0h1m162 0h1M1290 132h1m1 0h1m17 0h1m14 0h1m19 0h1M1228 133h1m45 0h1m19 0h1m71 0h1m18 0h1M1144 134h1m25 0h1m158 0h1m40 0h1m51 0h1M1290 135h1m37 0h2m7 0h1M1156 136h1m35 0h1m53 0h1m12 0h1m114 0h1m24 0h1M1242 137h1m31 0h1m74 0h1m29 0h1M1145 138h1m49 0h1m77 0h1m74 0h1M1223 139h1m2 0h1M1179 140h1m212 0h1m13 0h1M1235 141h1m1 0h1m18 0h1m8 0h1m69 0h1M1184 142h1m40 0h1m46 0h1M1176 143h1m13 0h1m7 0h1m148 0h1m38 0h1m46 0h1M1123 144h1m32 0h1m19 0h1m197 0h1m3 0h1m48 0h1M1166 145h1m119 0h1m4 0h1m20 0h1m79 0h1m24 0h1M1166 146h1m36 0h1m123 0h1M1169 147h1m9 0h1m88 0h1m47 0h1m28 0h1m85 0h1M1304 148h1m1 0h1m9 0h1m24 0h1m17 0h1m26 0h1M1428 149h1M1179 150h1m22 0h1m45 0h1m2 0h1m38 0h1m30 0h1M1144 151h1m192 0h1m43 0h1M1136 152h1m53 0h1m76 0h1M1187 153h1m59 0h1m12 0h1M1126 154h1m49 0h1m118 0h1M1209 155h1m77 0h1m67 0h1M1173 156h1m99 0h1M1137 157h1m77 0h1m138 0h1M1304 158h1M1216 159h1m30 0h1m115 0h1m60 0h1M1135 160h1m77 0h1m87 0h1m38 0h1M1124 161h1m31 0h1m49 0h1m65 0h1M1162 162h1m80 0h1m70 0h1M1128 163h1m60 0h1m30 0h1m207 0h1m4 0h1M1215 164h1m5 0h1m22 0h1m4 0h1m128 0h1m37 0h1M1249 165h1M1356 166h2M1242 168h1m10 0h1M1129 169h1m37 0h1m117 0h1m30 0h1m95 0h1M1164 170h1m24 0h1m12 0h1m11 0h1m35 0h1m32 0h1M1317 171h1m71 0h1m16 0h1M1179 172h1m53 0h1m20 0h1m75 0h1M1158 173h1m12 0h1m156 0h1m11 0h1m49 0h1M1309 174h1m17 0h1m10 0h1m71 0h1M1131 175h1m90 0h1m52 0h1M1210 176h1m189 0h1M1213 177h1m216 0h1M1161 178h1m35 0h1m6 0h1m5 0h1m135 0h1m36 0h1m3 0h1M1164 179h1m1 0h1m94 0h1m31 0h1m137 0h1M1129 180h1m130 0h1m115 0h1M1225 181h1m57 0h1m91 0h1M1173 182h1m42 0h1m95 0h1m93 0h1m16 0h1M1199 183h1m38 0h1m34 0h1m79 0h1m6 0h1m69 0h1M1151 184h1m35 0h1m132 0h1M1205 185h1M1137 186h1m147 0h1m6 0h1M1145 187h1m105 0h1m34 0h1m115 0h1M1387 189h1M1147 190h1m78 0h1m103 0h1m43 0h1M1202 191h1m2 0h1m107 0h1m49 0h1M1181 192h1m94 0h1M1306 193h1M1197 194h2m63 0h1m106 0h1m15 0h1m10 0h1m30 0h1M1160 195h1m4 0h1m84 0h1m45 0h1m62 0h1m24 0h1M1203 196h1m17 0h1m49 0h1m3 0h1M1164 197h1m1 0h1m53 0h1m74 0h1m80 0h1m33 0h1M1166 198h1m18 0h1m1 0h1m8 0h1m126 0h1M1232 199h1m8 0h1m79 0h1M1321 200h1m35 0h1M1156 201h1m87 0h1m84 0h1m26 0h1m19 0h1m21 0h1M1154 202h1m31 0h1m89 0h1m15 0h1m115 0h1M1182 203h1m33 0h1M1175 204h1m13 0h1m131 0h1m47 0h1M1202 205h1m105 0h1m26 0h1M1131 206h1m32 0h1m83 0h1m17 0h1m34 0h1m75 0h1M1314 207h1m106 0h1M1162 208h1M1238 209h1m65 0h1m72 0h1m7 0h1M1201 210h1m55 0h1m45 0h1M1218 211h1m81 0h1m78 0h1M1190 212h1m137 0h1m13 0h1m87 0h1M1233 213h1m86 0h1m9 0h1m51 0h1M1155 214h1m151 0h1M1132 215h1m71 0h1m75 0h1m75 0h1M1123 216h1m9 0h1m29 0h1m108 0h1m101 0h1m12 0h1M1151 217h1m21 0h1m71 0h2m126 0h1M1151 218h1m49 0h1m54 0h1m2 0h1m10 0h1m6 0h1m104 0h1M1130 219h1m87 0h1m97 0h1m1 0h1m2 0h1m90 0h1M1140 220h1m38 0h1m26 0h1m120 0h1m34 0h1M1333 221h1m20 0h1m11 0h1M1179 222h1m24 0h1m122 0h1m36 0h1m21 0h1M1266 223h1m2 0h1m43 0h1m88 0h1M1137 224h1m19 0h1m41 0h1m32 0h1m10 0h1m20 0h1m17 0h1m41 0h1M1146 225h1m29 0h1m2 0h1m44 0h1m20 0h1m24 0h1m104 0h1m25 0h1m7 0h1m2 0h1M1210 226h1m78 0h1m30 0h1m12 0h1m19 0h1m75 0h1M1147 227h1m75 0h1m16 0h1m16 0h1m13 0h1m105 0h1m39 0h1M1228 228h1m16 0h1m51 0h1m20 0h1m28 0h1m25 0h1M1129 229h1m22 0h1m48 0h1m43 0h1m80 0h1m103 0h1M1213 230h1m28 0h1M1139 231h1m19 0h1m62 0h1m25 0h1m46 0h1m96 0h1M1126 232h1m33 0h1m2 0h1m81 0h1m1 0h1m28 0h1m25 0h1m6 0h1m13 0h1m40 0h1m9 0h1m28 0h2M1190 233h1m45 0h1m25 0h1m78 0h1m30 0h1m20 0h1m11 0h1M1126 234h1m69 0h1m9 0h1m9 0h1m1 0h1M1149 235h1m37 0h1m17 0h1m27 0h1m24 0h1m6 0h1m75 0h1m6 0h1m54 0h1m12 0h1M1155 236h1m8 0h1m8 0h1m109 0h1m2 0h1m2 0h1m1 0h1m18 0h1m4 0h1m32 0h1m32 0h1m25 0h1M1210 237h1m10 0h1m11 0h2m61 0h1m97 0h1m37 0h1M1140 238h1m25 0h1m60 0h1m36 0h1m19 0h1m10 0h1m102 0h1M1296 239h1m5 0h1m23 0h1m81 0h1m4 0h1m9 0h2M1159 240h1m1 0h1m55 0h1m21 0h1m39 0h1m13 0h1m4 0h1m11 0h1m47 0h1m2 0h1m31 0h1M1198 241h1m97 0h2m27 0h1m6 0h1m56 0h1m2 0h1M1127 242h1m25 0h1m16 0h1m7 0h1m16 0h2m3 0h1m5 0h1m3 0h1m50 0h1m156 0h2m2 0h1M1279 243h1m8 0h1m108 0h1M1127 244h1m11 0h1m74 0h1m44 0h1m43 0h1m11 0h1m40 0h1M1145 245h1m13 0h1m9 0h1m36 0h1m4 0h1m70 0h1m54 0h1m26 0h1M1126 246h1m34 0h1m52 0h1m89 0h1m25 0h1m13 0h1m65 0h1M1171 247h1m8 0h1m35 0h1m7 0h1m20 0h1m50 0h1m50 0h1m51 0h1M1128 248h1m21 0h1m104 0h1m101 0h1m49 0h1m3 0h1m17 0h1M1170 249h1m21 0h1m42 0h2m16 0h1m10 0h1m120 0h1m17 0h1M1123 250h1m5 0h1m20 0h1m37 0h1m45 0h2m6 0h1m87 0h1m17 0h1m8 0h1m35 0h1m39 0h1M1246 251h1m56 0h1m56 0h1m2 0h1M1133 252h1m5 0h1m60 0h1m22 0h1m4 0h1m6 0h1m118 0h1m27 0h1m18 0h1M1124 253h1m39 0h1m26 0h1m15 0h1m13 0h1m18 0h1m28 0h1m70 0h1m15 0h1m5 0h1m2 0h1m52 0h1M1154 254h1m54 0h1m16 0h1m36 0h1m71 0h1m70 0h1M1158 255h1m4 0h1m8 0h2m52 0h1m17 0h1m8 0h1m19 0h1m38 0h1m9 0h1m22 0h1m20 0h1m4 0h1m21 0h1m5 0h1M1122 256h1m40 0h1m30 0h1m31 0h1m8 0h1m54 0h1m41 0h1m8 0h1m20 0h1m12 0h1m9 0h1M1195 257h1m108 0h1m39 0h1M1131 258h1m51 0h1m3 0h1m181 0h1m42 0h1m10 0h1M1231 259h1m51 0h1m9 0h1m60 0h1m17 0h1M1132 260h1m1 0h1m8 0h1m11 0h1m37 0h1m9 0h1m56 0h1m9 0h1m14 0h1m5 0h1m12 0h1m40 0h1M1169 261h1m2 0h1m13 0h1m46 0h1m8 0h1m17 0h1m90 0h1m8 0h1m45 0h1m3 0h1M1163 262h1m36 0h1m21 0h1m3 0h1m62 0h1m1 0h1m48 0h1m17 0h1m30 0h1m5 0h2m35 0h1M1140 263h1m3 0h1m15 0h1m25 0h1m16 0h1m52 0h1m40 0h1m8 0h1m47 0h1m6 0h1m15 0h1m49 0h1M1165 264h1m21 0h1m20 0h2m25 0h1m44 0h1m8 0h1m35 0h1m26 0h1m6 0h1m52 0h2m5 0h1M1143 265h1m39 0h1m16 0h1m25 0h1m67 0h1m56 0h1m1 0h1m42 0h1M1162 266h1m1 0h1m1 0h1m1 0h1m23 0h1m14 0h1m36 0h1m55 0h1m9 0h1m31 0h1m6 0h1m1 0h1m28 0h1m3 0h1m13 0h1m2 0h1m10 0h1m10 0h1M1126 267h1m29 0h1m6 0h1m32 0h1m17 0h1m23 0h1m2 0h1m20 0h1m38 0h1m13 0h1m30 0h1m27 0h1m4 0h1m6 0h1m6 0h1m16 0h1m14 0h1M1203 268h1m34 0h1m37 0h1m42 0h2m51 0h1m24 0h1m22 0h1m4 0h1M1157 269h2m2 0h1m128 0h1m11 0h1m45 0h1m2 0h1m19 0h1m43 0h1m5 0h1M1145 270h1m18 0h1m16 0h1m27 0h2m45 0h1m9 0h1m21 0h1m4 0h1m3 0h1m10 0h1m79 0h1m1 0h1M1140 271h1m12 0h1m2 0h1m15 0h1m47 0h1m23 0h1m12 0h1m3 0h1m5 0h1m14 0h1m11 0h1m31 0h1m37 0h1m8 0h1m4 0h1M1132 272h1m32 0h1m15 0h1m48 0h3m17 0h1m26 0h1m5 0h1m23 0h1m4 0h1m30 0h2m78 0h1M1132 273h1m154 0h1m9 0h1m46 0h1m18 0h1m4 0h1m21 0h1m7 0h3m5 0h1m17 0h1m4 0h1M1126 274h1m55 0h1m6 0h1m101 0h1m11 0h1m7 0h1m11 0h1m25 0h1m35 0h1m13 0h1m1 0h1m5 0h1M1123 275h1m51 0h1m28 0h1m32 0h1m58 0h1m14 0h1m64 0h2M1140 276h1m15 0h1m23 0h1m6 0h1m10 0h1m8 0h1m19 0h1m20 0h1m13 0h1m9 0h1m1 0h1m14 0h1m9 0h1m78 0h1m4 0h1m12 0h1m16 0h1m2 0h1m3 0h1M1123 277h1m4 0h1m37 0h1m39 0h2m1 0h1m76 0h1m21 0h1m11 0h1M1140 278h1m1 0h1m26 0h1m76 0h1m49 0h1m9 0h1m18 0h1m5 0h1m36 0h1m2 0h1m52 0h1M1209 279h2m5 0h1m24 0h1m18 0h1m13 0h1m76 0h1m18 0h1m22 0h1M1133 280h1m10 0h1m1 0h1m1 0h1m8 0h1m42 0h1m42 0h1m7 0h2m45 0h1m12 0h1m74 0h1M1124 281h1m85 0h2m35 0h1m28 0h1m37 0h1m6 0h1m18 0h1m77 0h1M1140 282h1m17 0h1m26 0h1m23 0h1m4 0h1m1 0h2m4 0h1m15 0h1m43 0h1m3 0h1m5 0h1m18 0h1m1 0h1m23 0h1m5 0h1m3 0h1m61 0h1m14 0h1m6 0h1M1123 283h1m3 0h1m55 0h1m30 0h1m47 0h1m35 0h1m13 0h1m1 0h1m5 0h1m14 0h1m15 0h1m14 0h1m1 0h1m57 0h1m2 0h1M1152 284h1m17 0h1m27 0h1m74 0h1m38 0h1m4 0h1m20 0h1m61 0h1M1162 285h1m78 0h1m34 0h1m12 0h1m16 0h1m21 0h1m21 0h1m14 0h1m28 0h1m21 0h1M1152 286h1m48 0h1m15 0h1m29 0h1m5 0h1m15 0h1m9 0h1m18 0h1m19 0h1m35 0h1m3 0h1m22 0h1M1124 287h1m43 0h1m8 0h1m6 0h2m15 0h1m4 0h2m21 0h1m7 0h1m6 0h1m83 0h1m1 0h1m4 0h1m19 0h2m25 0h1m30 0h1m2 0h1M1133 288h1m22 0h1m26 0h1m20 0h1m28 0h1m23 0h1m20 0h1m1 0h2m45 0h1m8 0h1m2 0h1m42 0h2m14 0h1m11 0h1M1127 289h1m49 0h1m8 0h1m11 0h2m35 0h1m7 0h1m3 0h1m36 0h1m88 0h1m26 0h1m20 0h1M1131 290h2m68 0h1m30 0h1m81 0h1m42 0h1M1130 291h1m11 0h1m7 0h1m10 0h1m45 0h1m24 0h1m19 0h1m12 0h1m34 0h1m9 0h1m1 0h1m18 0h1m54 0h1m17 0h1m3 0h1M1169 292h1m61 0h1m3 0h1m43 0h1m3 0h1m22 0h1m3 0h1m3 0h1m9 0h1m5 0h1m16 0h1m3 0h1m59 0h1m1 0h1m7 0h1M1162 293h1m8 0h1m30 0h1m4 0h1m18 0h1m13 0h1m13 0h1m18 0h1m3 0h1m11 0h1m2 0h1m36 0h1m14 0h1m4 0h1m14 0h1m31 0h1m17 0h1m7 0h1M1129 294h1m8 0h1m7 0h1m5 0h1m67 0h1m2 0h1m49 0h1m17 0h1m12 0h1m7 0h1m24 0h1m8 0h1m54 0h1m16 0h1m8 0h1M1122 295h1m18 0h1m5 0h1m1 0h1m25 0h1m24 0h1m20 0h1m20 0h1m19 0h1m5 0h1m3 0h1m3 0h1m18 0h2m11 0h1m36 0h1m38 0h1m6 0h1m21 0h1m4 0h1m8 0h1m1 0h1M1123 296h1m11 0h1m8 0h2m28 0h1m10 0h1m48 0h1m14 0h1m2 0h1m6 0h1m3 0h1m6 0h1m26 0h1m15 0h2m11 0h1m7 0h1m11 0h1m45 0h1m15 0h1m21 0h1M1142 297h1m8 0h1m7 0h1m6 0h1m25 0h1m8 0h1m22 0h1m20 0h1m21 0h1m62 0h1m38 0h1m22 0h1M1143 298h1m9 0h1m46 0h1m57 0h1m13 0h1m3 0h1m14 0h2m2 0h1m12 0h1m11 0h1m5 0h1m4 0h1m6 0h1m31 0h1m10 0h1M1124 299h2m3 0h1m70 0h2m47 0h1m15 0h1m8 0h1m39 0h2m13 0h1m36 0h1m4 0h1m18 0h1M1188 300h1m8 0h1m12 0h1m11 0h1m8 0h1m22 0h3m22 0h1m7 0h1m11 0h1m10 0h1m6 0h1m22 0h1m5 0h1m22 0h1m5 0h1m30 0h1m16 0h1M1134 301h2m10 0h1m18 0h1m2 0h1m27 0h1m1 0h1m1 0h2m14 0h1m12 0h1m40 0h1m5 0h1m15 0h1m11 0h1m3 0h1m4 0h1m14 0h1m24 0h1m25 0h1m10 0h1m9 0h2m9 0h1m19 0h1M1137 302h1m5 0h2m4 0h1m35 0h1m2 0h1m9 0h1m9 0h1m24 0h1m13 0h2m18 0h1m11 0h1m8 0h1m7 0h1m25 0h1m4 0h1m24 0h1m20 0h1m12 0h1m26 0h1M1130 303h1m45 0h1m5 0h1m35 0h1m2 0h1m8 0h1m2 0h1m10 0h2m25 0h2m25 0h1m11 0h1m44 0h2m1 0h1m4 0h1m14 0h1m23 0h1M1133 304h1m5 0h1m8 0h1m25 0h1m1 0h1m8 0h1m18 0h1m15 0h1m46 0h1m49 0h1m6 0h1m3 0h1m23 0h1m6 0h1m9 0h1m40 0h1m9 0h1m7 0h1M1156 305h1m8 0h1m55 0h1m9 0h1m14 0h1m9 0h1m6 0h1m20 0h1m22 0h2m22 0h2m36 0h1m9 0h1m1 0h1M1130 306h1m10 0h1m6 0h1m1 0h1m66 0h2m41 0h1m1 0h1m10 0h1m73 0h1m2 0h1m1 0h1m7 0h1m9 0h1m4 0h1m17 0h1m9 0h1M1141 307h1m13 0h1m13 0h1m4 0h1m6 0h1m3 0h1m8 0h1m5 0h1m11 0h1m4 0h1m4 0h1m17 0h1m46 0h1m9 0h1m22 0h1m23 0h1m1 0h1m1 0h1m20 0h1m18 0h1m8 0h1M1122 308h1m10 0h1m17 0h1m75 0h1m5 0h1m23 0h1m2 0h2m14 0h1m17 0h1m68 0h2m7 0h1m15 0h1m5 0h1m15 0h1m2 0h1m1 0h1M1124 309h1m16 0h1m20 0h1m13 0h1m7 0h1m1 0h2m58 0h1m4 0h1m10 0h1m4 0h1m2 0h1m7 0h1m1 0h1m21 0h1m5 0h1m2 0h1m1 0h1m11 0h1m28 0h2m10 0h1m11 0h1m13 0h1m7 0h1m17 0h1m9 0h1m3 0h2M1122 310h1m71 0h1m5 0h1m11 0h1m3 0h1m24 0h1m21 0h1m4 0h1m2 0h1m19 0h1m6 0h1m7 0h1m15 0h1m18 0h1m2 0h1m2 0h1m34 0h1m8 0h1m23 0h1m10 0h1M1122 311h1m7 0h1m39 0h1m14 0h1m8 0h1m2 0h1m8 0h1m3 0h1m50 0h1m1 0h1m7 0h1m7 0h1m13 0h1m5 0h1m29 0h1m26 0h1m1 0h1m66 0h1m4 0h1M1123 312h1m7 0h1m15 0h1m1 0h1m9 0h1m9 0h1m23 0h1m23 0h1m14 0h1m12 0h1m1 0h1m13 0h1m3 0h1m17 0h1m9 0h1m3 0h1m8 0h1m9 0h1m11 0h1m9 0h1m3 0h1m2 0h1m38 0h1m13 0h1m2 0h1m14 0h1m5 0h1M1137 313h2m28 0h1m77 0h1m4 0h2m3 0h1m2 0h1m2 0h1m11 0h1m52 0h1m8 0h1m4 0h1m11 0h1m22 0h1m4 0h1m2 0h1m4 0h1m6 0h1m3 0h1m2 0h1m1 0h1m9 0h1M1124 314h1m7 0h1m16 0h1m12 0h1m3 0h1m3 0h1m9 0h1m6 0h1m3 0h1m7 0h1m7 0h1m35 0h1m20 0h1m30 0h1m6 0h1m2 0h1m3 0h1m9 0h2m1 0h1m6 0h1m1 0h1m18 0h1m2 0h1m1 0h1m27 0h1m9 0h1m12 0h1m8 0h1m7 0h1m4 0h2m2 0h1M1148 315h1m8 0h1m3 0h1m7 0h2m15 0h1m4 0h1m4 0h1m14 0h1m3 0h1m9 0h1m15 0h1m2 0h1m5 0h1m13 0h1m1 0h1m17 0h1m12 0h1m13 0h1m14 0h1m2 0h1m19 0h1m6 0h1m12 0h1m6 0h1m1 0h1m2 0h2m27 0h1m1 0h1m4 0h1m6 0h1m1 0h1M1126 316h1m4 0h1m4 0h1m49 0h1m15 0h1m1 0h1m6 0h1m10 0h1m25 0h1m13 0h2m6 0h1m19 0h1m3 0h1m1 0h1m13 0h2m7 0h1m18 0h1m47 0h1m2 0h1m4 0h2m6 0h1m1 0h1m16 0h1M1123 317h1m29 0h1m3 0h1m8 0h1m5 0h1m3 0h1m7 0h1m12 0h1m24 0h1m3 0h1m14 0h1m29 0h1m12 0h1m2 0h1m32 0h1m1 0h1m3 0h1m4 0h1m12 0h1m19 0h1m11 0h1m16 0h1m7 0h1m3 0h1M1126 318h1m32 0h1m5 0h1m10 0h1m4 0h1m29 0h1m36 0h1m32 0h1m27 0h1m20 0h1m17 0h1m33 0h1m4 0h1m5 0h1m28 0h1m2 0h1m1 0h1m1 0h1m3 0h1M1126 319h1m1 0h1m1 0h1m8 0h1m2 0h1m9 0h2m11 0h1m1 0h2m1 0h1m4 0h1m20 0h1m8 0h2m29 0h1m11 0h1m3 0h1m12 0h1m7 0h1m2 0h1m6 0h2m23 0h1m54 0h1m3 0h1m18 0h2m25 0h1m14 0h1m2 0h3M1159 320h1m8 0h1m4 0h2m46 0h1m14 0h1m15 0h1m2 0h2m14 0h1m4 0h1m1 0h1m1 0h1m3 0h1m5 0h1m7 0h1m1 0h1m11 0h1m1 0h1m3 0h1m9 0h1m49 0h1m7 0h1m10 0h1m15 0h1M1123 321h1m26 0h1m4 0h1m27 0h1m20 0h2m14 0h1m32 0h1m4 0h1m7 0h1m8 0h1m23 0h2m11 0h1m3 0h1m13 0h1m5 0h1m18 0h1m6 0h3m4 0h1m24 0h1m12 0h1m2 0h1m16 0h1M1133 322h1m9 0h1m13 0h1m7 0h1m5 0h2m18 0h1m25 0h1m20 0h1m19 0h1m6 0h1m10 0h3m20 0h1m8 0h1m2 0h1m20 0h1m14 0h1m3 0h1m24 0h1m10 0h1m9 0h1m10 0h1m3 0h1m9 0h1M1126 323h1m4 0h1m4 0h1m2 0h1m11 0h1m5 0h1m37 0h2m8 0h1m3 0h2m11 0h1m14 0h1m2 0h1m2 0h1m11 0h1m8 0h1m26 0h1m6 0h2m6 0h1m24 0h1m13 0h1m1 0h1m28 0h1m10 0h2m13 0h1m6 0h1m2 0h1m1 0h1M1123 324h1m4 0h1m7 0h1m6 0h1m5 0h1m4 0h1m3 0h1m30 0h1m35 0h1m7 0h1m1 0h1m7 0h1m3 0h1m4 0h1m29 0h1m15 0h1m2 0h1m14 0h1m24 0h1m12 0h1m12 0h1m21 0h2m17 0h1m2 0h1m2 0h1M1154 325h1m6 0h1m38 0h1m17 0h1m8 0h2m23 0h1m2 0h1m43 0h1m8 0h1m29 0h1m3 0h1m10 0h2m3 0h1m14 0h1m40 0h1m17 0h1M1123 326h1m57 0h1m4 0h1m7 0h1m12 0h1m1 0h1m2 0h1m3 0h1m9 0h1m5 0h1m47 0h1m3 0h1m17 0h1m33 0h1m1 0h1m2 0h1m5 0h1m6 0h1m6 0h1m12 0h1m23 0h1m19 0h2m7 0h1M1126 327h3m14 0h1m2 0h1m1 0h1m6 0h1m7 0h1m4 0h1m20 0h1m5 0h2m20 0h2m27 0h2m8 0h1m2 0h1m23 0h1m13 0h2m14 0h1m5 0h1m5 0h1m33 0h1m10 0h1m12 0h1m5 0h1m14 0h1m1 0h1m19 0h1m2 0h3M1140 328h1m5 0h1m12 0h1m32 0h2m10 0h1m18 0h1m9 0h1m1 0h1m10 0h1m8 0h1m3 0h1m5 0h1m21 0h1m1 0h1m7 0h1m1 0h1m4 0h1m12 0h1m1 0h1m6 0h1m6 0h1m7 0h1m26 0h1m21 0h1m1 0h1m3 0h1m20 0h1m10 0h1M1125 329h1m4 0h1m3 0h1m12 0h1m10 0h1m2 0h1m22 0h1m11 0h1m1 0h1m16 0h1m1 0h1m23 0h1m8 0h1m4 0h1m2 0h3m5 0h1m3 0h1m19 0h1m1 0h1m11 0h1m20 0h1m2 0h1m12 0h1m33 0h1m7 0h1m18 0h1m4 0h1M1122 330h1m7 0h1m9 0h1m4 0h1m1 0h2m11 0h1m37 0h1m9 0h1m2 0h1m12 0h1m8 0h1m1 0h1m4 0h1m7 0h1m1 0h1m3 0h1m1 0h1m14 0h1m63 0h1m18 0h1m40 0h1m2 0h1m5 0h1m7 0h2m4 0h1M1123 331h1m16 0h1m18 0h1m3 0h1m3 0h1m18 0h1m8 0h1m20 0h1m1 0h1m10 0h2m1 0h2m2 0h1m6 0h1m22 0h1m9 0h1m1 0h1m37 0h1m32 0h1m2 0h1m7 0h1m1 0h1m7 0h1m4 0h2m27 0h2m10 0h1m6 0h1m6 0h1M1130 332h1m3 0h1m25 0h1m1 0h1m23 0h1m14 0h1m17 0h1m48 0h1m15 0h1m25 0h1m18 0h1m2 0h1m16 0h1m9 0h1m17 0h1m1 0h1m1 0h1m3 0h1m2 0h1m11 0h2m11 0h1M1131 333h1m5 0h1m6 0h1m4 0h1m22 0h1m7 0h1m1 0h1m14 0h1m25 0h2m1 0h1m6 0h1m7 0h1m21 0h1m10 0h1m7 0h1m34 0h2m4 0h1m1 0h1m8 0h1m10 0h1m1 0h1m10 0h1m6 0h1m24 0h1m17 0h1m1 0h1m14 0h1M1125 334h1m55 0h1m2 0h1m2 0h1m3 0h1m31 0h1m53 0h1m2 0h1m3 0h1m2 0h1m14 0h1m7 0h1m6 0h2m31 0h1m3 0h1m6 0h1m3 0h1m16 0h1m27 0h1m19 0h1M1134 335h1m25 0h1m1 0h1m37 0h1m21 0h1m3 0h1m22 0h1m11 0h1m15 0h1m8 0h1m4 0h1m2 0h1m13 0h1m1 0h2m8 0h1m12 0h1m1 0h1m20 0h1m5 0h1m3 0h1m53 0h1m6 0h1M1123 336h3m2 0h1m15 0h1m14 0h1m4 0h1m11 0h1m3 0h1m3 0h1m19 0h2m3 0h1m14 0h2m4 0h1m11 0h1m1 0h1m18 0h1m4 0h1m5 0h1m7 0h1m12 0h1m1 0h1m6 0h1m1 0h1m4 0h1m4 0h1m2 0h1m3 0h1m1 0h1m4 0h1m6 0h1m8 0h1m26 0h1m2 0h1m20 0h1m4 0h1m7 0h1m19 0h1m2 0h1M1131 337h1m33 0h1m9 0h1m34 0h1m2 0h1m3 0h1m2 0h1m15 0h1m3 0h1m16 0h1m6 0h1m9 0h1m8 0h2m21 0h1m2 0h1m19 0h1m1 0h1m19 0h1m8 0h1m7 0h1m8 0h1m3 0h1m9 0h1m20 0h1m14 0h1M1127 338h2m16 0h1m2 0h1m6 0h1m19 0h1m5 0h1m2 0h1m7 0h1m1 0h1m11 0h2m5 0h1m20 0h1m6 0h1m8 0h1m26 0h1m4 0h1m4 0h1m5 0h1m1 0h1m1 0h1m13 0h1m1 0h1m6 0h1m3 0h1m24 0h1m13 0h1m7 0h1m13 0h1m5 0h1m6 0h1m10 0h1m2 0h1m7 0h1m1 0h1m7 0h1M1124 339h1m7 0h1m8 0h2m13 0h1m30 0h1m1 0h1m2 0h1m1 0h1m2 0h1m1 0h1m2 0h1m34 0h1m4 0h1m27 0h1m4 0h1m4 0h2m8 0h1m13 0h1m12 0h1m2 0h1m13 0h1m21 0h1m4 0h1m1 0h1m4 0h1m10 0h1m19 0h1m7 0h1m6 0h1m13 0h1M1130 340h1m14 0h1m5 0h1m1 0h1m2 0h2m3 0h2m3 0h1m2 0h3m5 0h1m4 0h1m72 0h1m3 0h1m6 0h1m13 0h1m9 0h1m7 0h1m4 0h1m7 0h1m4 0h1m10 0h1m15 0h1m46 0h1m2 0h1m6 0h1m3 0h1m9 0h1m1 0h1m6 0h1M1140 341h1m21 0h1m40 0h1m10 0h1m1 0h1m18 0h1m17 0h2m3 0h1m6 0h1m6 0h1m3 0h1m13 0h1m31 0h1m7 0h1m24 0h1m36 0h1m9 0h1m6 0h1m8 0h2m5 0h1M1123 342h1m6 0h1m17 0h1m5 0h1m8 0h1m7 0h1m18 0h2m2 0h1m3 0h1m1 0h1m12 0h1m9 0h1m34 0h1m7 0h1m9 0h1m1 0h1m1 0h1m8 0h1m12 0h1m34 0h1m16 0h1m12 0h1m3 0h1m7 0h1m2 0h1m2 0h1m16 0h1m23 0h1M1137 343h1m4 0h1m5 0h1m7 0h2m1 0h2m19 0h2m15 0h1m25 0h1m2 0h1m12 0h1m27 0h1m7 0h1m4 0h1m1 0h1m33 0h1m7 0h1m5 0h2m17 0h1m3 0h1m28 0h1m9 0h1m3 0h1m2 0h1m6 0h1m11 0h1m14 0h1M1135 344h1m11 0h2m7 0h1m6 0h1m4 0h1m3 0h1m39 0h1m40 0h1m6 0h1m8 0h1m6 0h1m23 0h1m10 0h1m2 0h1m11 0h1m47 0h1m8 0h1m2 0h1m6 0h1m8 0h1m5 0h1m11 0h1m10 0h1M1137 345h1m6 0h1m13 0h1m13 0h1m27 0h1m2 0h1m8 0h1m23 0h1m61 0h2m7 0h1m9 0h1m4 0h2m5 0h1m5 0h1m1 0h1m13 0h1m2 0h2m13 0h1m4 0h1m12 0h1m4 0h2m4 0h1m3 0h1m15 0h1m5 0h1M1147 346h1m46 0h1m23 0h1m10 0h1m11 0h1m3 0h1m3 0h1m5 0h1m7 0h1m27 0h1m3 0h1m6 0h1m22 0h1m14 0h1m4 0h1m33 0h1m4 0h1m5 0h1m10 0h1m5 0h1m12 0h1M1122 347h2m24 0h1m3 0h1m7 0h1m4 0h1m16 0h1m2 0h1m17 0h2m3 0h2m4 0h1m17 0h1m5 0h1m22 0h1m20 0h2m1 0h1m7 0h1m6 0h1m20 0h1m32 0h1m2 0h1m13 0h2m1 0h1m21 0h1m1 0h1m9 0h1m5 0h2m9 0h1M1123 348h1m2 0h1m2 0h1m33 0h1m6 0h1m1 0h2m7 0h1m5 0h1m5 0h1m7 0h1m15 0h1m7 0h2m8 0h1m2 0h1m18 0h2m38 0h1m3 0h1m21 0h1m2 0h2m12 0h1m7 0h1m3 0h1m7 0h1m12 0h1m9 0h1m3 0h1m5 0h1m3 0h1m8 0h1m9 0h1m4 0h1M1139 349h1m2 0h1m4 0h1m5 0h1m4 0h1m7 0h1m9 0h1m6 0h1m8 0h1m12 0h1m16 0h1m8 0h2m5 0h1m10 0h1m26 0h1m15 0h1m8 0h1m5 0h2m12 0h2m6 0h2m2 0h1m18 0h1m19 0h1m7 0h1m4 0h1m6 0h1m4 0h1m7 0h2M1122 350h1m4 0h1m7 0h1m5 0h2m14 0h1m30 0h1m19 0h1m17 0h1m17 0h2m1 0h1m14 0h1m20 0h1m36 0h1m18 0h1m1 0h1m2 0h1m8 0h1m10 0h1m6 0h1m7 0h1m9 0h1m10 0h1m3 0h1m5 0h1M1124 351h2m5 0h2m22 0h1m11 0h1m31 0h1m10 0h2m1 0h1m2 0h1m1 0h1m2 0h1m1 0h1m13 0h1m16 0h1m6 0h1m4 0h1m23 0h2m5 0h1m8 0h1m6 0h1m22 0h1m9 0h1m4 0h1m5 0h2m2 0h1m3 0h1m6 0h1m4 0h1m9 0h1m14 0h1m8 0h1M1123 352h1m1 0h2m10 0h1m15 0h1m7 0h1m9 0h1m15 0h1m5 0h1m1 0h1m12 0h1m3 0h1m7 0h1m33 0h1m3 0h1m7 0h1m15 0h2m3 0h1m1 0h1m22 0h1m14 0h1m23 0h1m13 0h1m3 0h1m6 0h1m17 0h1m6 0h1m17 0h1m3 0h1m5 0h1m3 0h1M1123 353h1m12 0h1m6 0h1m1 0h1m10 0h1m2 0h1m2 0h1m30 0h1m3 0h1m5 0h1m28 0h1m6 0h1m4 0h1m3 0h1m5 0h1m7 0h2m11 0h1m4 0h1m5 0h1m1 0h1m1 0h1m5 0h1m7 0h1m1 0h1m1 0h1m16 0h1m12 0h1m4 0h1m36 0h1m5 0h1m9 0h1m24 0h1m10 0h1M1126 354h1m8 0h1m25 0h1m18 0h1m38 0h1m4 0h1m5 0h1m11 0h1m9 0h1m2 0h1m28 0h1m6 0h1m63 0h1m15 0h1m6 0h2m8 0h1m5 0h1m3 0h1m32 0h1M1129 355h1m3 0h1m8 0h1m13 0h1m1 0h1m7 0h1m10 0h1m8 0h1m4 0h1m8 0h1m6 0h1m3 0h1m5 0h1m11 0h1m17 0h1m10 0h1m7 0h1m7 0h2m34 0h1m8 0h1m8 0h1m23 0h1m1 0h1m19 0h1m5 0h1m26 0h1m17 0h1m5 0h1M1142 356h2m1 0h1m18 0h1m9 0h1m13 0h1m1 0h1m5 0h1m4 0h1m5 0h1m1 0h1m32 0h1m17 0h1m18 0h1m15 0h1m19 0h1m8 0h1m4 0h2m22 0h1m6 0h1m4 0h1m2 0h1m4 0h1m7 0h1m16 0h1m9 0h1m9 0h1m1 0h1M1125 357h1m8 0h1m5 0h1m12 0h1m4 0h1m8 0h1m15 0h1m8 0h1m1 0h1m14 0h1m1 0h1m4 0h1m36 0h1m10 0h2m9 0h1m5 0h1m10 0h2m31 0h1m19 0h1m3 0h1m29 0h1m18 0h1m5 0h1m1 0h1m15 0h1M1131 358h1m2 0h1m1 0h1m12 0h1m4 0h1m25 0h1m17 0h1m1 0h1m10 0h1m3 0h1m31 0h1m4 0h1m11 0h1m4 0h1m1 0h2m5 0h1m8 0h1m21 0h1m8 0h1m31 0h1m5 0h1m7 0h1m17 0h1m27 0h1m5 0h1m15 0h1M1130 359h1m1 0h1m31 0h1m10 0h1m1 0h1m1 0h1m59 0h1m4 0h1m15 0h1m5 0h2m17 0h1m3 0h1m1 0h1m6 0h1m1 0h1m1 0h1m7 0h1m7 0h1m4 0h1m10 0h1m17 0h1m6 0h1m8 0h1m5 0h1m1 0h1m3 0h1m19 0h1m10 0h1m12 0h1M1130 360h2m5 0h1m9 0h1m19 0h1m9 0h1m3 0h1m7 0h1m14 0h1m9 0h1m9 0h1m1 0h1m18 0h1m3 0h1m3 0h1m6 0h1m2 0h1m7 0h1m3 0h1m7 0h1m2 0h2m9 0h1m11 0h1m10 0h1m5 0h1m4 0h1m13 0h1m2 0h1m2 0h1m3 0h1m8 0h1m5 0h1m20 0h3m6 0h1m2 0h1m14 0h1m8 0h1m1 0h2M1135 361h1m16 0h1m12 0h1m8 0h1m1 0h1m3 0h1m1 0h1m2 0h1m13 0h2m21 0h1m4 0h1m3 0h1m12 0h1m6 0h1m13 0h1m11 0h1m1 0h1m3 0h1m3 0h1m54 0h1m5 0h1m4 0h1m10 0h1m4 0h1m4 0h1m12 0h1m4 0h1m9 0h1m1 0h1m3 0h2m9 0h1m2 0h1M1125 362h1m3 0h1m10 0h2m3 0h2m16 0h1m48 0h1m3 0h1m3 0h1m6 0h1m5 0h1m8 0h1m5 0h1m4 0h1m3 0h2m7 0h1m7 0h1m14 0h1m7 0h1m1 0h1m6 0h1m3 0h1m6 0h1m19 0h1m3 0h1m11 0h1m19 0h1m3 0h1m3 0h1m2 0h1m2 0h2m8 0h1m1 0h1m9 0h2m13 0h1m3 0h1M1128 363h1m1 0h1m5 0h1m5 0h1m1 0h3m14 0h1m2 0h1m13 0h1m6 0h1m9 0h1m16 0h1m2 0h1m3 0h1m2 0h1m1 0h1m9 0h1m8 0h2m13 0h1m3 0h1m18 0h1m1 0h1m28 0h1m38 0h1m8 0h1m7 0h1m12 0h1m25 0h1m3 0h1m1 0h1m2 0h1m9 0h1M1135 364h2m5 0h2m4 0h1m14 0h1m13 0h1m5 0h2m8 0h1m8 0h1m1 0h1m4 0h1m6 0h1m3 0h1m3 0h1m5 0h1m20 0h1m2 0h1m1 0h1m5 0h1m6 0h2m16 0h1m7 0h1m16 0h1m31 0h1m5 0h1m8 0h1m5 0h2m41 0h1m10 0h1M1127 365h1m20 0h1m1 0h1m2 0h1m20 0h1m5 0h1m5 0h2m21 0h1m2 0h1m6 0h1m4 0h1m48 0h1m6 0h1m11 0h2m2 0h3m23 0h1m11 0h1m1 0h2m6 0h1m2 0h1m1 0h1m15 0h1m12 0h1m10 0h1m5 0h2m5 0h1m2 0h1m6 0h1m10 0h1M1123 366h1m5 0h1m6 0h1m4 0h2m23 0h1m26 0h1m10 0h1m2 0h1m1 0h1m3 0h1m22 0h1m24 0h1m24 0h1m6 0h1m17 0h1m11 0h1m2 0h1m6 0h2m1 0h1m17 0h1m15 0h1m21 0h1m1 0h1m6 0h1m4 0h1m3 0h1m1 0h1m7 0h1m3 0h1m1 0h1m5 0h1M1127 367h1m3 0h1m6 0h1m15 0h1m5 0h1m12 0h1m6 0h1m8 0h1m5 0h1m9 0h1m12 0h1m4 0h1m8 0h1m2 0h1m4 0h1m1 0h3m8 0h1m9 0h1m11 0h1m1 0h1m2 0h2m3 0h1m5 0h1m15 0h2m8 0h1m17 0h2m8 0h1m8 0h2m3 0h1m14 0h1m3 0h1m1 0h2m11 0h1m1 0h1m3 0h1m8 0h1m22 0h1M1130 368h1m3 0h1m4 0h1m9 0h1m3 0h1m2 0h1m10 0h1m2 0h1m4 0h1m4 0h1m3 0h1m1 0h1m5 0h1m14 0h1m16 0h1m7 0h1m2 0h1m2 0h1m2 0h1m5 0h3m5 0h1m2 0h1m16 0h1m1 0h1m1 0h1m19 0h1m14 0h1m27 0h1m10 0h1m5 0h1m6 0h1m19 0h1m11 0h1m17 0h1m2 0h1m1 0h1M1134 369h1m45 0h1m13 0h2m12 0h1m6 0h1m13 0h1m4 0h1m6 0h1m21 0h1m28 0h1m11 0h1m1 0h1m1 0h1m27 0h1m9 0h1m3 0h3m9 0h1m2 0h1m1 0h1m4 0h1m16 0h1m10 0h1m12 0h1m2 0h2m2 0h1M1125 370h1m5 0h1m4 0h1m3 0h1m2 0h2m4 0h1m3 0h1m1 0h1m5 0h1m7 0h1m5 0h2m23 0h1m1 0h1m10 0h1m4 0h1m1 0h1m13 0h1m7 0h1m17 0h1m5 0h2m4 0h1m13 0h1m5 0h2m3 0h1m3 0h1m10 0h1m2 0h1m25 0h1m2 0h1m5 0h1m1 0h1m5 0h1m20 0h1m6 0h1m13 0h1m5 0h1m7 0h1m15 0h1M1124 371h1m20 0h1m9 0h1m1 0h2m9 0h2m11 0h1m23 0h1m2 0h1m20 0h1m5 0h2m4 0h1m35 0h1m1 0h1m7 0h3m2 0h1m4 0h1m6 0h1m6 0h1m3 0h1m4 0h1m9 0h1m16 0h1m2 0h1m6 0h1m14 0h1m11 0h1m19 0h1m26 0h1M1127 372h1m4 0h1m13 0h2m15 0h1m1 0h2m39 0h1m9 0h1m11 0h1m1 0h1m3 0h1m11 0h1m9 0h1m2 0h1m21 0h2m6 0h2m10 0h1m3 0h1m4 0h2m1 0h1m15 0h1m38 0h1m3 0h3m3 0h1m5 0h1m13 0h1m4 0h1m2 0h1m14 0h1m2 0h1M1126 373h1m11 0h1m16 0h1m4 0h1m20 0h1m2 0h1m3 0h1m38 0h2m6 0h1m8 0h1m1 0h1m8 0h1m17 0h1m5 0h1m6 0h1m1 0h1m15 0h1m4 0h1m8 0h1m11 0h1m11 0h1m2 0h1m7 0h1m3 0h1m3 0h1m11 0h1m10 0h2m21 0h1m7 0h1m17 0h1M1123 374h1m3 0h1m4 0h2m2 0h1m5 0h1m4 0h1m2 0h1m5 0h2m6 0h1m9 0h1m17 0h1m34 0h1m5 0h1m8 0h1m20 0h1m22 0h1m6 0h1m12 0h1m17 0h1m9 0h1m5 0h1m13 0h1m10 0h4m13 0h1m19 0h1m1 0h1m6 0h1m1 0h1M1159 375h1m1 0h1m8 0h1m3 0h1m14 0h1m8 0h1m8 0h2m4 0h1m9 0h1m6 0h1m32 0h1m20 0h1m5 0h1m5 0h1m7 0h1m2 0h2m2 0h1m2 0h1m1 0h1m2 0h1m1 0h1m7 0h1m19 0h2m1 0h1m14 0h1m7 0h1m17 0h1m25 0h2M1125 376h1m7 0h1m26 0h1m5 0h1m4 0h1m1 0h1m1 0h1m9 0h1m1 0h1m3 0h1m18 0h2m8 0h1m9 0h2m4 0h1m3 0h1m14 0h1m14 0h1m15 0h1m6 0h1m1 0h1m11 0h1m7 0h1m3 0h1m18 0h1m2 0h1m12 0h1m3 0h1m4 0h1m1 0h1m1 0h1m1 0h1m8 0h1m19 0h1m7 0h1m4 0h1m5 0h2m7 0h1M1123 377h1m2 0h1m4 0h2m7 0h1m9 0h1m10 0h1m18 0h1m10 0h1m7 0h1m46 0h1m6 0h2m1 0h1m7 0h1m10 0h2m3 0h1m6 0h1m8 0h1m12 0h1m30 0h1m18 0h1m3 0h1m1 0h1m11 0h2m5 0h1m3 0h1m5 0h1m12 0h1m23 0h1M1127 378h1m7 0h1m3 0h1m10 0h1m5 0h1m7 0h1m1 0h1m2 0h1m4 0h1m20 0h2m3 0h1m1 0h1m11 0h1m12 0h1m2 0h1m16 0h1m5 0h1m6 0h2m35 0h1m3 0h1m1 0h1m29 0h2m33 0h1m4 0h1m15 0h1m30 0h1m11 0h1M1153 379h1m3 0h1m16 0h1m1 0h1m5 0h1m1 0h1m6 0h1m5 0h1m3 0h2m1 0h2m3 0h1m1 0h1m2 0h1m1 0h1m8 0h1m11 0h1m9 0h1m1 0h1m1 0h1m21 0h1m19 0h1m13 0h1m6 0h1m4 0h1m2 0h1m20 0h1m17 0h1m18 0h1m7 0h1m4 0h1m6 0h1m1 0h1m10 0h1m1 0h1m4 0h1M1123 380h1m4 0h1m16 0h1m2 0h1m2 0h1m2 0h2m5 0h1m1 0h2m1 0h1m11 0h1m1 0h1m19 0h1m8 0h1m7 0h1m6 0h1m3 0h1m3 0h1m9 0h1m10 0h1m24 0h1m13 0h1m7 0h1m3 0h1m2 0h1m6 0h1m2 0h1m34 0h1m2 0h1m2 0h1m5 0h1m2 0h1m13 0h3m18 0h1m2 0h1m6 0h1m2 0h1M1129 381h1m1 0h1m16 0h1m17 0h1m4 0h1m22 0h1m5 0h1m12 0h1m3 0h1m9 0h1m4 0h1m19 0h3m1 0h1m8 0h1m27 0h1m8 0h1m3 0h1m1 0h2m28 0h1m3 0h1m9 0h1m1 0h1m6 0h1m2 0h1m25 0h2m10 0h1m3 0h1m3 0h1m2 0h1m4 0h1m2 0h1m5 0h2M1127 382h1m3 0h1m2 0h1m2 0h1m27 0h1m1 0h2m11 0h1m1 0h2m2 0h1m3 0h1m14 0h2m1 0h1m6 0h1m5 0h1m27 0h1m16 0h1m6 0h1m2 0h1m15 0h1m9 0h1m1 0h1m13 0h1m21 0h1m27 0h1m8 0h1m20 0h1m6 0h1m4 0h1m2 0h1m10 0h1m5 0h1M1130 383h1m3 0h1m11 0h1m2 0h1m9 0h1m1 0h1m16 0h1m12 0h1m5 0h1m2 0h1m8 0h1m11 0h1m17 0h1m19 0h1m1 0h1m4 0h1m6 0h1m7 0h1m3 0h1m5 0h2m19 0h1m13 0h1m10 0h1m2 0h1m1 0h1m7 0h1m4 0h1m3 0h1m3 0h1m34 0h1m1 0h1m5 0h1M1131 384h1m6 0h2m12 0h1m1 0h1m1 0h1m2 0h1m6 0h1m6 0h1m5 0h1m8 0h1m13 0h1m11 0h1m6 0h1m10 0h2m1 0h1m4 0h1m1 0h1m6 0h1m6 0h1m6 0h2m2 0h2m3 0h1m6 0h1m28 0h1m1 0h1m13 0h1m7 0h1m3 0h2m2 0h1m9 0h1m2 0h1m4 0h1m10 0h1m9 0h2m4 0h1m5 0h1m2 0h1m9 0h1m5 0h1m4 0h1m2 0h1m4 0h1m5 0h1M1122 385h3m3 0h1m1 0h1m5 0h1m1 0h1m1 0h1m8 0h1m5 0h1m10 0h1m16 0h1m5 0h1m5 0h1m1 0h1m2 0h1m2 0h1m2 0h1m10 0h1m7 0h1m10 0h1m2 0h1m5 0h1m8 0h1m16 0h1m4 0h1m5 0h1m13 0h2m6 0h1m7 0h2m4 0h2m2 0h1m6 0h1m2 0h1m7 0h1m1 0h1m4 0h1m5 0h1m2 0h1m3 0h1m14 0h1m1 0h1m10 0h1m9 0h1m1 0h1m10 0h1m1 0h1m13 0h1M1123 386h1m1 0h1m13 0h1m2 0h1m2 0h1m7 0h1m6 0h1m2 0h1m7 0h2m5 0h1m17 0h2m9 0h1m2 0h1m1 0h1m2 0h1m6 0h1m14 0h1m7 0h1m8 0h1m4 0h1m10 0h2m12 0h1m6 0h1m14 0h1m2 0h1m4 0h1m9 0h2m3 0h1m19 0h1m21 0h1m1 0h2m5 0h1m10 0h1m5 0h1m9 0h1m18 0h1M1127 387h1m10 0h1m5 0h1m2 0h1m8 0h2m1 0h3m1 0h1m3 0h1m14 0h1m5 0h2m3 0h4m26 0h1m8 0h2m4 0h1m3 0h1m8 0h1m3 0h1m2 0h1m26 0h1m2 0h1m1 0h1m15 0h2m4 0h1m12 0h2m1 0h1m2 0h1m1 0h1m8 0h3m1 0h1m4 0h1m7 0h1m2 0h1m4 0h1m10 0h1m3 0h1m8 0h1m6 0h1m1 0h1m4 0h1m10 0h2m2 0h1M1126 388h1m10 0h2m2 0h2m4 0h1m1 0h1m3 0h1m16 0h1m2 0h1m7 0h1m1 0h1m40 0h1m4 0h2m9 0h1m3 0h1m1 0h2m7 0h1m22 0h1m4 0h2m9 0h1m14 0h1m5 0h1m10 0h1m17 0h1m4 0h1m7 0h2m4 0h2m1 0h1m10 0h1m19 0h2m6 0h1m8 0h1m2 0h1m3 0h1m1 0h1m2 0h1M1129 389h2m10 0h1m1 0h1m10 0h2m8 0h2m2 0h1m2 0h1m3 0h1m6 0h1m1 0h1m1 0h1m4 0h1m1 0h1m13 0h1m1 0h1m2 0h1m7 0h1m24 0h1m8 0h1m3 0h1m7 0h1m1 0h1m3 0h1m3 0h1m6 0h1m7 0h1m9 0h1m5 0h1m6 0h1m1 0h1m3 0h1m1 0h1m1 0h2m13 0h1m2 0h1m3 0h1m2 0h1m7 0h1m1 0h2m3 0h1m5 0h1m9 0h2m6 0h1m6 0h1m3 0h1m10 0h1m3 0h1m2 0h2m4 0h1m9 0h1M1124 390h1m10 0h1m3 0h1m2 0h1m1 0h2m5 0h1m9 0h1m3 0h1m12 0h1m1 0h1m2 0h1m18 0h3m3 0h2m6 0h1m7 0h1m6 0h1m19 0h1m6 0h1m5 0h1m3 0h1m8 0h1m7 0h1m8 0h2m8 0h1m3 0h1m2 0h5m13 0h2m5 0h2m5 0h1m4 0h1m2 0h1m16 0h1m3 0h1m2 0h1m5 0h1m26 0h1m9 0h1m6 0h1M1122 391h1m1 0h1m4 0h2m1 0h1m1 0h1m8 0h1m11 0h1m1 0h1m2 0h1m19 0h1m1 0h1m3 0h1m1 0h1m7 0h1m1 0h1m1 0h1m1 0h1m4 0h1m2 0h1m1 0h1m3 0h1m3 0h1m1 0h1m2 0h1m2 0h1m3 0h1m5 0h1m5 0h1m6 0h1m7 0h1m1 0h1m6 0h1m5 0h1m9 0h1m5 0h1m6 0h1m5 0h1m3 0h2m2 0h1m9 0h1m10 0h1m3 0h1m6 0h1m5 0h1m7 0h1m4 0h2m3 0h1m8 0h1m3 0h2m12 0h1m1 0h1m3 0h1m18 0h1m8 0h4M1123 392h1m1 0h1m4 0h1m3 0h1m2 0h1m6 0h1m1 0h1m3 0h2m9 0h1m12 0h2m1 0h1m2 0h1m1 0h1m8 0h1m1 0h1m5 0h1m2 0h1m2 0h1m3 0h1m3 0h3m1 0h1m7 0h1m4 0h2m3 0h4m2 0h1m14 0h3m2 0h1m11 0h1m4 0h3m5 0h1m10 0h4m1 0h1m3 0h1m4 0h2m4 0h1m6 0h2m4 0h1m6 0h1m1 0h2m3 0h1m3 0h1m3 0h1m11 0h1m3 0h1m1 0h2m11 0h1m7 0h2m6 0h4m7 0h1m3 0h1m2 0h1m3 0h1m1 0h1m2 0h1m3 0h1m1 0h1M1124 393h1m2 0h4m1 0h2m1 0h1m2 0h1m7 0h1m2 0h1m2 0h1m2 0h1m2 0h2m3 0h1m8 0h1m2 0h1m1 0h1m6 0h1m10 0h1m9 0h1m4 0h1m3 0h1m4 0h1m5 0h1m2 0h1m4 0h1m1 0h1m5 0h1m3 0h1m2 0h1m2 0h1m1 0h1m4 0h1m2 0h1m1 0h1m3 0h1m11 0h1m2 0h1m7 0h1m10 0h1m1 0h2m1 0h1m2 0h1m4 0h1m1 0h1m13 0h1m2 0h1m1 0h1m7 0h2m6 0h2m2 0h2m1 0h1m1 0h1m7 0h1m1 0h2m11 0h1m1 0h2m17 0h1m2 0h1m2 0h1m2 0h1m9 0h2m2 0h1m1 0h1m2 0h1M1126 394h1m3 0h1m2 0h1m1 0h2m1 0h1m1 0h1m3 0h1m9 0h1m3 0h1m2 0h1m4 0h2m1 0h3m2 0h3m1 0h1m2 0h2m6 0h1m1 0h1m2 0h2m1 0h1m1 0h1m3 0h1m5 0h1m7 0h1m3 0h1m3 0h2m7 0h1m4 0h3m3 0h1m2 0h1m3 0h3m1 0h1m1 0h2m5 0h3m4 0h1m10 0h1m3 0h1m4 0h1m7 0h1m15 0h1m1 0h1m6 0h2m18 0h1m2 0h1m9 0h1m1 0h1m2 0h1m10 0h1m4 0h1m7 0h1m4 0h2m13 0h1m1 0h1m2 0h1m7 0h2m7 0h1M1124 395h1m1 0h1m1 0h3m5 0h1m1 0h1m2 0h1m4 0h1m4 0h1m7 0h1m1 0h1m1 0h1m2 0h1m6 0h1m1 0h1m1 0h1m2 0h1m4 0h1m17 0h1m1 0h1m2 0h2m2 0h1m4 0h1m4 0h2m1 0h1m4 0h3m7 0h1m9 0h1m6 0h1m6 0h1m2 0h1m3 0h1m6 0h1m4 0h4m8 0h1m3 0h1m6 0h3m5 0h2m7 0h1m6 0h2m6 0h1m3 0h1m7 0h2m2 0h1m1 0h1m2 0h1m2 0h2m4 0h2m3 0h3m7 0h1m1 0h2m1 0h1m1 0h2m2 0h1m8 0h2m2 0h1m2 0h1m1 0h1m6 0h1m6 0h2m4 0h1M1126 396h1m3 0h1m2 0h1m2 0h1m8 0h1m1 0h1m3 0h2m7 0h1m5 0h2m1 0h1m2 0h1m1 0h3m3 0h1m1 0h3m2 0h3m5 0h1m3 0h1m1 0h1m2 0h2m9 0h1m5 0h1m15 0h1m3 0h1m8 0h1m4 0h1m1 0h1m1 0h1m2 0h3m4 0h1m3 0h2m2 0h1m2 0h1m3 0h1m4 0h2m3 0h2m2 0h1m6 0h1m1 0h2m1 0h2m3 0h1m1 0h1m5 0h2m4 0h1m4 0h1m3 0h1m2 0h1m3 0h2m5 0h2m1 0h2m2 0h3m1 0h2m1 0h2m1 0h1m9 0h1m4 0h2m3 0h1m2 0h1m2 0h1m1 0h2m2 0h1m2 0h1m6 0h1m4 0h1m2 0h1m7 0h2m1 0h3M1122 397h3m2 0h1m2 0h1m14 0h1m6 0h1m2 0h2m4 0h1m7 0h2m1 0h1m2 0h2m2 0h1m3 0h1m1 0h5m2 0h1m15 0h1m1 0h3m1 0h1m2 0h1m17 0h1m6 0h2m2 0h2m1 0h1m1 0h3m1 0h1m2 0h1m1 0h1m1 0h2m11 0h1m1 0h3m2 0h1m3 0h1m5 0h1m2 0h1m2 0h1m1 0h1m3 0h1m3 0h1m1 0h1m2 0h2m4 0h1m2 0h4m4 0h1m5 0h4m2 0h1m6 0h1m1 0h1m2 0h4m18 0h1m1 0h2m3 0h1m4 0h2m3 0h2m4 0h3m4 0h1m6 0h1m7 0h1m3 0h3M1123 398h1m2 0h1m3 0h1m1 0h1m1 0h2m3 0h2m5 0h1m1 0h1m5 0h1m3 0h2m3 0h2m2 0h2m7 0h1m2 0h1m1 0h1m2 0h3m7 0h1m7 0h1m2 0h1m1 0h2m3 0h5m5 0h1m3 0h2m3 0h2m8 0h1m4 0h1m1 0h2m2 0h1m3 0h1m1 0h1m1 0h1m2 0h1m2 0h3m5 0h4m1 0h1m1 0h1m6 0h1m4 0h1m2 0h1m1 0h2m7 0h2m2 0h3m2 0h2m1 0h1m1 0h3m3 0h3m8 0h1m2 0h1m4 0h1m2 0h1m1 0h2m7 0h1m2 0h2m5 0h1m4 0h1m8 0h4m3 0h2m3 0h1m1 0h1m4 0h1m2 0h1m5 0h1m2 0h2m1 0h1m2 0h1m1 0h1m1 0h1m3 0h1m1 0h1M1122 399h2m1 0h1m3 0h1m1 0h1m2 0h2m3 0h1m8 0h1m1 0h2m1 0h4m2 0h1m2 0h1m5 0h3m1 0h1m3 0h1m2 0h1m2 0h2m1 0h1m2 0h1m3 0h1m1 0h1m2 0h1m2 0h3m5 0h1m2 0h1m2 0h1m2 0h1m4 0h1m1 0h1m1 0h3m1 0h1m1 0h1m3 0h2m1 0h3m3 0h2m3 0h1m1 0h2m1 0h1m1 0h1m5 0h1m1 0h1m6 0h1m1 0h1m2 0h1m4 0h1m1 0h1m2 0h1m2 0h1m1 0h1m2 0h1m3 0h1m2 0h1m1 0h1m1 0h2m1 0h2m5 0h1m2 0h1m5 0h2m1 0h1m3 0h2m5 0h1m1 0h1m2 0h1m1 0h1m9 0h1m2 0h1m2 0h3m3 0h1m1 0h1m1 0h2m2 0h1m1 0h1m3 0h1m4 0h2m3 0h1m1 0h1m2 0h3m3 0h1m2 0h1m8 0h2m1 0h1m1 0h1m1 0h3m3 0h2m1 0h1M1122 400h1m1 0h3m3 0h1m1 0h1m1 0h1m5 0h1m6 0h1m2 0h1m1 0h1m1 0h3m2 0h1m6 0h2m1 0h3m3 0h1m1 0h1m2 0h1m3 0h1m1 0h1m3 0h1m8 0h1m1 0h2m1 0h3m5 0h2m2 0h2m1 0h1m1 0h1m1 0h1m2 0h1m4 0h2m1 0h1m2 0h2m2 0h1m4 0h1m5 0h1m3 0h1m1 0h3m7 0h1m4 0h1m2 0h3m1 0h1m3 0h3m1 0h1m10 0h1m3 0h2m1 0h1m3 0h1m1 0h2m3 0h2m1 0h1m4 0h1m2 0h2m1 0h4m2 0h1m1 0h3m4 0h1m4 0h4m1 0h1m1 0h1m3 0h1m1 0h1m5 0h1m1 0h1m3 0h1m1 0h1m2 0h1m1 0h1m3 0h2m2 0h1m1 0h1m1 0h1m1 0h1m2 0h1m2 0h3m2 0h2m4 0h1m1 0h2m7 0h1m3 0h3M1122 401h1m1 0h2m1 0h2m3 0h1m2 0h1m1 0h1m4 0h2m1 0h3m1 0h1m2 0h1m2 0h1m1 0h1m4 0h1m2 0h2m2 0h3m1 0h3m1 0h1m2 0h1m3 0h1m6 0h2m4 0h1m3 0h2m3 0h2m3 0h1m4 0h1m3 0h1m2 0h1m1 0h1m5 0h1m4 0h1m3 0h1m1 0h3m4 0h1m2 0h2m8 0h1m1 0h3m6 0h1m6 0h2m2 0h1m3 0h1m2 0h1m8 0h2m1 0h4m1 0h1m2 0h1m2 0h1m7 0h1m2 0h1m5 0h1m3 0h1m1 0h1m1 0h1m2 0h7m1 0h2m1 0h2m2 0h2m2 0h1m2 0h2m3 0h1m1 0h1m4 0h2m1 0h1m2 0h1m1 0h1m3 0h2m1 0h1m6 0h6m4 0h1m2 0h2m1 0h2m1 0h3m1 0h1m6 0h1m1 0h1M1124 402h3m3 0h2m1 0h1m2 0h1m2 0h1m5 0h1m2 0h1m1 0h2m6 0h1m3 0h4m2 0h1m2 0h2m4 0h1m1 0h1m2 0h1m1 0h1m5 0h3m2 0h1m1 0h2m1 0h1m5 0h1m1 0h4m4 0h1m1 0h1m3 0h1m3 0h1m7 0h1m4 0h1m1 0h1m1 0h4m2 0h2m4 0h1m3 0h3m1 0h1m3 0h1m1 0h1m1 0h1m4 0h1m2 0h2m4 0h1m1 0h2m3 0h1m1 0h1m1 0h1m1 0h1m2 0h2m3 0h1m2 0h1m1 0h1m1 0h1m2 0h1m5 0h1m3 0h1m4 0h3m4 0h3m1 0h2m8 0h1m4 0h2m3 0h1m1 0h1m5 0h1m1 0h1m2 0h1m4 0h3m4 0h1m1 0h6m2 0h1m2 0h2m4 0h3m3 0h2m6 0h1m1 0h3m1 0h2m2 0h3M1129 403h1m1 0h1m1 0h1m1 0h1m1 0h1m6 0h1m1 0h2m2 0h1m1 0h1m1 0h2m1 0h1m3 0h1m3 0h1m1 0h1m3 0h1m1 0h1m1 0h1m2 0h1m1 0h1m5 0h1m2 0h5m1 0h1m2 0h1m2 0h1m2 0h1m7 0h1m1 0h1m4 0h1m1 0h1m1 0h2m1 0h1m1 0h3m2 0h1m3 0h2m2 0h5m3 0h1m1 0h1m4 0h1m3 0h1m1 0h2m2 0h2m2 0h1m2 0h6m3 0h1m5 0h1m1 0h1m6 0h2m4 0h1m3 0h2m2 0h1m2 0h4m1 0h1m3 0h3m3 0h1m2 0h2m1 0h1m5 0h1m1 0h1m1 0h3m1 0h1m1 0h1m1 0h1m2 0h1m1 0h1m2 0h2m1 0h1m1 0h1m3 0h1m4 0h1m2 0h2m1 0h2m1 0h1m2 0h1m2 0h2m1 0h6m2 0h1m1 0h2m3 0h2m2 0h2m2 0h1m2 0h1m3 0h1m1 0h3m1 0h1m1 0h2M1124 404h1m7 0h4m1 0h1m1 0h2m2 0h1m1 0h3m1 0h3m1 0h3m4 0h3m1 0h1m1 0h1m1 0h1m1 0h2m1 0h2m2 0h1m1 0h2m2 0h1m2 0h1m7 0h1m3 0h1m7 0h1m2 0h1m5 0h1m1 0h1m1 0h1m1 0h1m1 0h6m1 0h3m2 0h1m2 0h3m1 0h1m1 0h1m1 0h1m1 0h1m3 0h3m5 0h1m1 0h2m3 0h4m4 0h1m1 0h1m7 0h3m2 0h1m1 0h1m1 0h1m4 0h1m1 0h1m2 0h1m1 0h4m6 0h8m1 0h1m1 0h5m2 0h2m1 0h5m2 0h2m4 0h1m4 0h1m1 0h1m1 0h1m6 0h1m1 0h3m1 0h1m2 0h1m1 0h2m2 0h1m1 0h3m4 0h1m1 0h1m1 0h2m3 0h5m2 0h4m1 0h2m2 0h1m1 0h1m1 0h2m2 0h2m2 0h1m4 0h1M1122 405h1m2 0h3m2 0h2m2 0h2m1 0h1m1 0h1m2 0h1m1 0h1m2 0h1m1 0h2m1 0h7m2 0h1m4 0h1m2 0h7m4 0h7m1 0h2m1 0h2m1 0h1m1 0h1m1 0h1m3 0h1m2 0h2m1 0h3m1 0h1m1 0h1m1 0h2m1 0h2m4 0h1m2 0h3m1 0h1m1 0h2m4 0h4m4 0h1m6 0h3m2 0h1m4 0h1m2 0h2m1 0h1m1 0h3m1 0h1m1 0h2m3 0h1m1 0h3m2 0h2m1 0h1m1 0h1m3 0h1m3 0h2m1 0h1m2 0h3m1 0h3m1 0h1m1 0h1m3 0h1m1 0h2m1 0h1m1 0h1m2 0h4m4 0h1m1 0h1m2 0h1m1 0h1m3 0h1m2 0h1m1 0h1m1 0h1m1 0h1m1 0h2m1 0h1m1 0h1m3 0h1m2 0h2m3 0h1m2 0h1m2 0h2m1 0h2m1 0h4m1 0h1m3 0h3m1 0h1m2 0h1m2 0h1m2 0h1m2 0h1m1 0h1m1 0h5m1 0h5M1123 406h1m1 0h2m1 0h2m2 0h3m3 0h1m3 0h2m2 0h1m1 0h1m1 0h1m2 0h1m2 0h2m2 0h1m1 0h2m1 0h1m1 0h1m2 0h2m2 0h2m1 0h3m1 0h2m6 0h4m2 0h2m2 0h2m1 0h4m1 0h1m1 0h2m4 0h3m4 0h3m3 0h2m1 0h2m3 0h6m4 0h3m1 0h1m1 0h1m3 0h1m1 0h1m2 0h2m1 0h3m1 0h2m2 0h3m5 0h1m2 0h2m1 0h2m2 0h3m4 0h2m1 0h2m1 0h4m3 0h2m1 0h4m4 0h1m1 0h1m2 0h4m1 0h2m2 0h1m2 0h1m1 0h1m1 0h2m1 0h1m1 0h2m1 0h1m1 0h1m1 0h2m6 0h3m2 0h1m1 0h1m1 0h1m2 0h2m3 0h2m4 0h4m2 0h4m1 0h2m2 0h3m2 0h2m2 0h1m3 0h2m1 0h4m1 0h1m2 0h2m2 0h1m2 0h2M1122 407h1m3 0h1m2 0h7m1 0h1m6 0h2m1 0h2m1 0h1m1 0h6m1 0h1m1 0h4m1 0h5m4 0h6m1 0h2m2 0h1m1 0h4m2 0h5m2 0h5m2 0h2m1 0h4m1 0h15m1 0h1m3 0h5m2 0h3m1 0h7m1 0h4m2 0h4m1 0h5m3 0h3m2 0h4m2 0h2m2 0h2m1 0h4m1 0h1m1 0h3m2 0h1m1 0h4m2 0h2m1 0h4m1 0h1m1 0h1m1 0h2m3 0h5m1 0h1m2 0h1m1 0h1m2 0h9m1 0h2m1 0h3m3 0h2m1 0h6m2 0h11m2 0h4m2 0h1m1 0h1m1 0h6m2 0h1m1 0h5m3 0h2m2 0h2m1 0h3m1 0h2m1 0h2m1 0h3M1122 408h1m1 0h6m2 0h1m1 0h1m2 0h1m3 0h3m3 0h4m1 0h3m2 0h2m4 0h1m1 0h1m2 0h2m1 0h3m1 0h6m1 0h3m1 0h1m1 0h8m1 0h1m2 0h3m3 0h4m1 0h3m1 0h2m1 0h7m1 0h11m1 0h2m2 0h2m1 0h3m1 0h1m4 0h6m1 0h1m2 0h5m1 0h5m2 0h1m1 0h1m1 0h4m1 0h1m1 0h4m1 0h1m1 0h5m1 0h2m1 0h5m1 0h1m1 0h6m3 0h4m1 0h5m1 0h3m1 0h1m3 0h3m1 0h5m1 0h4m2 0h17m1 0h3m1 0h3m3 0h5m3 0h15m1 0h2m1 0h1m1 0h1m1 0h2m1 0h1m4 0h3m1 0h4m1 0h1M1122 409h5m1 0h12m1 0h4m2 0h9m1 0h2m1 0h1m1 0h16m1 0h1m1 0h12m2 0h2m1 0h2m1 0h12m1 0h1m2 0h2m3 0h1m1 0h2m1 0h10m1 0h1m3 0h4m1 0h3m2 0h7m1 0h1m1 0h11m2 0h8m1 0h4m4 0h12m1 0h7m1 0h2m1 0h1m1 0h4m1 0h2m2 0h4m1 0h1m1 0h2m1 0h7m1 0h9m1 0h4m1 0h10m1 0h1m1 0h5m1 0h1m1 0h2m1 0h9m1 0h34m1 0h3m1 0h1M1124 410h2m1 0h2m1 0h2m1 0h4m1 0h1m1 0h29m1 0h4m1 0h10m1 0h4m1 0h4m1 0h3m2 0h4m1 0h5m1 0h6m1 0h2m3 0h1m1 0h2m1 0h18m2 0h2m1 0h1m1 0h4m1 0h29m1 0h3m1 0h17m1 0h15m1 0h14m1 0h6m1 0h33m1 0h9m1 0h1m1 0h1m1 0h18m1 0h17M1122 411h17m1 0h9m2 0h8m1 0h3m1 0h12m1 0h11m1 0h20m1 0h6m1 0h17m2 0h9m1 0h18m1 0h4m1 0h7m1 0h4m3 0h21m1 0h8m1 0h1m1 0h3m1 0h7m1 0h6m1 0h5m1 0h14m1 0h33m1 0h1m1 0h19m1 0h5m1 0h14M1122 412h4m1 0h33m1 0h21m1 0h18m1 0h16m1 0h18m1 0h2m1 0h6m1 0h5m1 0h8m1 0h20m1 0h23m1 0h7m1 0h5m1 0h16m2 0h10m1 0h33m1 0h4m1 0h18m1 0h2m1 0h5m2 0h9m2 0h4M1122 413h5m1 0h17m2 0h12m1 0h5m1 0h22m1 0h7m1 0h44m1 0h2m1 0h7m1 0h3m1 0h1m1 0h8m1 0h4m1 0h2m1 0h25m1 0h1m1 0h4m1 0h11m1 0h12m1 0h16m1 0h10m1 0h5m1 0h13m1 0h22m1 0h17m1 0h4m1 0h6M1122 414h1m1 0h17m1 0h6m1 0h32m1 0h5m1 0h3m1 0h17m1 0h7m1 0h13m1 0h2m1 0h9m1 0h3m1 0h13m1 0h2m1 0h9m1 0h2m1 0h12m1 0h25m1 0h6m1 0h3m1 0h17m1 0h8m1 0h11m1 0h30m1 0h14m1 0h20M1122 415h34m1 0h4m2 0h1m2 0h15m1 0h5m1 0h38m1 0h3m1 0h1m3 0h1m2 0h12m1 0h18m1 0h8m1 0h29m1 0h37m1 0h6m1 0h1m1 0h1m1 0h50m1 0h1m1 0h22M1122 416h18m1 0h7m1 0h7m1 0h7m1 0h6m1 0h16m1 0h1m1 0h7m1 0h14m1 0h2m1 0h5m2 0h15m1 0h14m1 0h27m1 0h51m1 0h8m2 0h1m1 0h9m1 0h9m1 0h31m1 0h35M1122 417h8m1 0h27m1 0h29m1 0h8m1 0h2m1 0h7m1 0h8m1 0h50m1 0h4m1 0h7m1 0h17m1 0h15m1 0h3m1 0h3m1 0h24m1 0h33m1 0h3m1 0h21m1 0h5m2 0h10m1 0h2m1 0h4M1122 418h13m1 0h13m1 0h2m1 0h4m1 0h1m1 0h11m1 0h36m1 0h18m1 0h2m1 0h5m1 0h19m2 0h4m1 0h3m1 0h21m1 0h2m1 0h9m1 0h22m1 0h2m1 0h1m1 0h27m1 0h7m1 0h1m1 0h2m1 0h1m1 0h1m1 0h10m1 0h5m2 0h1m1 0h39M1123 419h4m1 0h25m1 0h11m1 0h4m1 0h15m1 0h21m1 0h26m1 0h5m1 0h43m1 0h4m1 0h3m1 0h5m1 0h37m1 0h13m1 0h34m1 0h6m2 0h8m1 0h5m1 0h9m1 0h13M1123 420h9m1 0h11m1 0h1m1 0h13m1 0h9m1 0h6m1 0h8m1 0h44m1 0h1m1 0h25m1 0h86m1 0h2m1 0h5m1 0h3m1 0h2m1 0h6m1 0h3m1 0h6m1 0h24m1 0h1m1 0h26M1122 421h8m1 0h7m1 0h4m1 0h8m1 0h2m1 0h7m1 0h4m1 0h11m2 0h2m1 0h13m1 0h27m1 0h22m2 0h15m1 0h58m1 0h21m3 0h36m3 0h8m2 0h1m1 0h28m1 0h3M1122 422h6m1 0h1m1 0h2m1 0h18m1 0h7m1 0h7m1 0h6m1 0h3m1 0h6m2 0h4m1 0h9m1 0h1m3 0h16m1 0h1m1 0h12m1 0h9m1 0h3m1 0h22m1 0h5m1 0h3m1 0h3m1 0h3m1 0h2m1 0h5m1 0h14m1 0h13m1 0h3m1 0h3m2 0h4m1 0h7m1 0h6m1 0h17m1 0h7m1 0h1m3 0h7m1 0h11m1 0h6m1 0h5m1 0h3m1 0h2m1 0h3M1122 423h3m1 0h2m1 0h10m1 0h1m1 0h4m1 0h4m1 0h8m1 0h4m2 0h6m2 0h6m1 0h9m1 0h10m2 0h6m1 0h14m2 0h7m1 0h3m1 0h13m1 0h5m1 0h4m1 0h12m2 0h6m1 0h15m1 0h10m1 0h12m1 0h5m1 0h2m1 0h1m1 0h6m1 0h1m1 0h2m1 0h11m1 0h13m1 0h3m2 0h15m1 0h1m1 0h1m2 0h14m1 0h5m1 0h2m1 0h2m1 0h7M1122 424h3m1 0h18m1 0h2m1 0h4m1 0h1m2 0h7m1 0h2m1 0h1m1 0h1m2 0h1m1 0h5m2 0h1m1 0h6m2 0h2m2 0h5m1 0h8m1 0h7m1 0h1m1 0h4m1 0h1m1 0h2m1 0h2m1 0h4m2 0h4m1 0h1m1 0h4m1 0h2m2 0h3m1 0h1m2 0h8m1 0h3m1 0h1m1 0h4m1 0h1m1 0h2m1 0h1m2 0h1m1 0h1m3 0h23m1 0h5m1 0h2m1 0h4m1 0h3m1 0h6m1 0h1m1 0h1m1 0h2m1 0h8m1 0h7m2 0h2m1 0h3m1 0h1m1 0h3m1 0h13m1 0h3m1 0h1m1 0h3m1 0h8m2 0h2m1 0h8m1 0h2m2 0h1M1122 425h1m2 0h1m1 0h1m1 0h1m3 0h7m1 0h1m1 0h1m1 0h1m1 0h2m2 0h1m1 0h4m4 0h1m1 0h1m1 0h1m2 0h4m1 0h3m1 0h2m2 0h1m1 0h2m1 0h5m1 0h1m1 0h3m1 0h2m1 0h4m1 0h1m1 0h3m1 0h3m2 0h5m1 0h1m1 0h6m2 0h7m1 0h1m1 0h2m1 0h2m3 0h4m1 0h1m1 0h1m2 0h1m1 0h1m1 0h1m2 0h5m1 0h3m1 0h1m1 0h1m3 0h4m1 0h1m1 0h1m1 0h4m1 0h4m1 0h1m1 0h2m1 0h3m1 0h10m3 0h2m3 0h2m2 0h3m2 0h3m1 0h2m1 0h2m1 0h1m1 0h8m2 0h7m1 0h1m1 0h5m1 0h8m4 0h3m2 0h1m2 0h1m1 0h1m1 0h2m4 0h2m1 0h1m2 0h1m1 0h1m2 0h1m2 0h5m1 0h7M1122 426h2m2 0h1m1 0h2m1 0h1m1 0h1m1 0h5m2 0h4m2 0h4m3 0h1m1 0h3m1 0h2m1 0h1m1 0h1m1 0h1m2 0h4m1 0h6m2 0h2m1 0h4m1 0h1m2 0h1m1 0h1m1 0h7m1 0h2m1 0h1m2 0h2m1 0h1m1 0h1m1 0h2m2 0h6m1 0h1m1 0h3m3 0h2m4 0h2m1 0h1m1 0h1m2 0h1m1 0h1m1 0h3m3 0h4m2 0h1m3 0h1m2 0h1m1 0h1m1 0h7m2 0h2m4 0h4m2 0h3m2 0h2m2 0h2m1 0h3m1 0h6m1 0h1m1 0h2m1 0h5m2 0h1m1 0h6m3 0h5m1 0h1m1 0h1m1 0h5m1 0h1m1 0h1m1 0h1m1 0h5m1 0h1m6 0h1m1 0h1m3 0h1m3 0h3m1 0h1m1 0h1m1 0h5m1 0h2m4 0h1m1 0h1m2 0h1m4 0h2m2 0h1m1 0h1m3 0h2M1123 427h3m1 0h6m1 0h2m1 0h1m1 0h3m1 0h8m2 0h2m2 0h1m1 0h1m1 0h2m1 0h1m3 0h1m1 0h1m1 0h5m1 0h1m1 0h5m1 0h1m1 0h1m1 0h1m2 0h4m1 0h4m10 0h2m3 0h1m1 0h4m1 0h1m1 0h2m1 0h13m1 0h2m2 0h2m1 0h3m1 0h1m3 0h3m2 0h1m6 0h2m2 0h1m1 0h1m4 0h1m1 0h3m1 0h1m2 0h1m1 0h3m2 0h2m1 0h10m1 0h2m1 0h1m5 0h2m2 0h5m1 0h6m2 0h2m1 0h2m1 0h2m1 0h5m2 0h6m1 0h3m2 0h4m1 0h1m7 0h1m1 0h1m1 0h2m1 0h2m1 0h5m1 0h1m2 0h2m2 0h9m1 0h3m2 0h4m1 0h2m1 0h2m1 0h2m1 0h2M1124 428h1m2 0h1m2 0h1m2 0h1m2 0h1m2 0h5m1 0h1m2 0h1m1 0h1m1 0h5m1 0h6m2 0h2m6 0h4m2 0h2m3 0h1m1 0h2m1 0h2m1 0h1m4 0h2m2 0h3m1 0h1m2 0h1m1 0h2m1 0h4m6 0h1m2 0h2m1 0h2m3 0h2m2 0h1m2 0h2m1 0h3m1 0h1m2 0h1m1 0h1m5 0h3m1 0h3m1 0h2m2 0h1m4 0h1m2 0h1m1 0h1m4 0h1m1 0h1m4 0h3m3 0h1m1 0h2m1 0h3m1 0h1m2 0h1m1 0h3m4 0h1m1 0h3m1 0h2m2 0h2m1 0h1m3 0h3m1 0h2m9 0h3m1 0h2m3 0h2m2 0h1m1 0h1m4 0h5m2 0h2m1 0h2m1 0h1m2 0h2m2 0h2m3 0h1m2 0h2m1 0h3m1 0h1m1 0h1m1 0h2m2 0h1m1 0h6m2 0h2m3 0h1M1125 429h2m2 0h1m2 0h1m3 0h2m1 0h1m2 0h2m2 0h1m1 0h3m5 0h1m5 0h1m2 0h1m1 0h1m3 0h1m1 0h1m1 0h3m1 0h3m1 0h1m3 0h1m3 0h3m1 0h6m8 0h1m1 0h1m2 0h2m1 0h2m1 0h4m3 0h1m2 0h1m1 0h1m5 0h1m1 0h3m3 0h3m1 0h2m1 0h1m1 0h1m1 0h1m1 0h3m7 0h1m6 0h2m1 0h2m1 0h7m2 0h3m1 0h1m3 0h2m1 0h1m1 0h2m3 0h1m3 0h1m5 0h1m2 0h3m2 0h2m1 0h2m4 0h2m1 0h1m1 0h1m1 0h1m4 0h3m2 0h3m2 0h5m1 0h1m1 0h2m1 0h4m1 0h2m2 0h3m1 0h1m1 0h1m1 0h1m3 0h2m1 0h2m1 0h1m1 0h1m1 0h1m2 0h1m2 0h1m5 0h1m2 0h1m1 0h1m1 0h2m3 0h2m4 0h4M1122 430h2m1 0h1m1 0h1m1 0h5m1 0h1m1 0h2m3 0h1m5 0h3m4 0h1m3 0h1m1 0h1m4 0h1m1 0h1m3 0h1m2 0h1m2 0h1m5 0h1m3 0h2m1 0h2m2 0h2m1 0h2m3 0h1m1 0h2m1 0h1m2 0h1m1 0h2m2 0h2m3 0h3m1 0h3m1 0h1m3 0h1m1 0h3m1 0h6m1 0h1m6 0h4m2 0h1m1 0h4m5 0h1m1 0h1m3 0h1m6 0h1m3 0h1m1 0h1m1 0h3m1 0h1m3 0h1m2 0h2m2 0h3m4 0h1m1 0h1m1 0h5m1 0h1m3 0h1m3 0h2m1 0h1m1 0h3m3 0h1m6 0h2m1 0h1m1 0h1m1 0h2m2 0h1m1 0h4m1 0h3m3 0h1m1 0h2m1 0h1m6 0h1m1 0h1m2 0h1m2 0h2m1 0h1m1 0h1m1 0h4m1 0h1m2 0h2m4 0h1m2 0h2m6 0h2m1 0h2m2 0h1M1125 431h1m2 0h1m9 0h2m3 0h3m1 0h1m1 0h4m3 0h2m4 0h1m1 0h2m1 0h1m3 0h3m1 0h3m1 0h2m2 0h1m1 0h1m5 0h4m1 0h6m3 0h3m2 0h1m2 0h1m2 0h2m2 0h3m2 0h5m7 0h2m4 0h1m8 0h4m5 0h1m1 0h4m1 0h1m3 0h5m1 0h1m1 0h1m5 0h1m1 0h1m1 0h1m1 0h1m2 0h1m2 0h1m1 0h2m2 0h1m2 0h3m1 0h1m2 0h1m1 0h1m1 0h1m1 0h2m2 0h1m3 0h1m2 0h1m2 0h2m1 0h1m6 0h1m5 0h2m1 0h2m7 0h3m2 0h2m7 0h1m1 0h1m4 0h3m1 0h1m2 0h2m1 0h2m4 0h1m4 0h1m6 0h2m4 0h1m1 0h1m3 0h1m6 0h1m2 0h1M1123 432h3m1 0h1m2 0h1m1 0h1m4 0h1m1 0h1m2 0h2m1 0h1m1 0h2m2 0h1m2 0h1m1 0h1m1 0h1m1 0h1m1 0h1m2 0h1m2 0h1m3 0h2m1 0h2m1 0h1m1 0h1m2 0h1m1 0h2m5 0h1m2 0h1m1 0h1m3 0h1m2 0h1m2 0h4m8 0h2m7 0h1m7 0h3m7 0h1m1 0h2m2 0h1m2 0h1m2 0h1m1 0h1m1 0h1m8 0h2m4 0h1m2 0h2m3 0h1m1 0h1m2 0h1m17 0h2m7 0h1m3 0h2m1 0h1m1 0h1m1 0h1m1 0h1m1 0h1m1 0h1m1 0h1m2 0h2m5 0h1m2 0h2m6 0h1m2 0h1m3 0h1m2 0h1m2 0h1m1 0h1m5 0h1m1 0h1m3 0h2m9 0h1m2 0h3m1 0h1m2 0h1m1 0h1m3 0h2m1 0h1m1 0h1m2 0h2m2 0h2m1 0h1m5 0h2M1124 433h1m5 0h1m5 0h1m1 0h3m10 0h1m5 0h1m6 0h1m1 0h1m9 0h1m1 0h2m2 0h2m1 0h1m3 0h1m1 0h1m6 0h1m3 0h2m1 0h1m7 0h1m1 0h2m4 0h1m2 0h1m1 0h2m5 0h2m2 0h5m3 0h3m4 0h1m8 0h1m3 0h1m1 0h3m1 0h4m4 0h1m2 0h1m1 0h1m2 0h1m9 0h1m3 0h2m4 0h1m2 0h1m3 0h2m6 0h1m3 0h1m2 0h1m1 0h2m1 0h1m2 0h1m3 0h1m3 0h1m3 0h2m1 0h1m5 0h1m3 0h4m1 0h1m4 0h1m2 0h2m3 0h3m8 0h2m1 0h1m4 0h1m1 0h1m3 0h1m2 0h2m1 0h1m2 0h2m1 0h1m1 0h2m6 0h1M1122 434h2m2 0h2m2 0h1m2 0h1m3 0h1m10 0h1m1 0h1m1 0h1m10 0h1m1 0h2m2 0h2m2 0h1m4 0h2m4 0h1m1 0h4m1 0h1m3 0h2m5 0h1m8 0h1m2 0h1m2 0h1m2 0h1m3 0h2m1 0h1m7 0h1m4 0h1m2 0h1m5 0h2m2 0h2m2 0h1m4 0h7m2 0h1m6 0h1m2 0h2m1 0h1m1 0h4m1 0h1m5 0h1m3 0h1m4 0h1m1 0h1m2 0h1m2 0h1m6 0h2m1 0h3m3 0h2m6 0h1m3 0h1m1 0h2m2 0h1m1 0h1m5 0h1m1 0h2m1 0h1m1 0h1m1 0h1m3 0h1m5 0h1m1 0h1m7 0h1m2 0h1m2 0h1m1 0h1m1 0h2m8 0h3m1 0h1m2 0h1m1 0h1m3 0h2m6 0h3m1 0h1M1125 435h1m2 0h2m1 0h2m2 0h1m2 0h1m3 0h1m4 0h2m2 0h3m3 0h1m2 0h1m5 0h1m2 0h1m2 0h1m5 0h1m2 0h2m4 0h1m2 0h1m1 0h1m2 0h5m4 0h1m2 0h1m9 0h1m2 0h1m1 0h1m1 0h1m1 0h1m2 0h1m3 0h2m2 0h2m4 0h1m10 0h1m3 0h1m1 0h1m1 0h1m8 0h2m8 0h1m9 0h2m2 0h1m3 0h1m4 0h1m1 0h1m3 0h2m2 0h2m1 0h1m2 0h1m3 0h1m2 0h1m5 0h1m1 0h2m8 0h2m7 0h1m3 0h1m2 0h1m3 0h1m4 0h2m2 0h2m7 0h2m5 0h2m8 0h1m1 0h1m6 0h2m1 0h1m6 0h1m1 0h1m4 0h2m1 0h1m2 0h1M1123 436h1m2 0h2m3 0h1m3 0h1m2 0h1m4 0h1m2 0h1m1 0h2m3 0h4m1 0h1m1 0h2m3 0h1m1 0h2m1 0h1m4 0h3m4 0h2m4 0h2m2 0h2m1 0h1m1 0h1m3 0h1m5 0h1m7 0h1m2 0h1m4 0h1m5 0h2m1 0h4m3 0h1m2 0h1m2 0h1m2 0h1m1 0h3m4 0h2m2 0h1m1 0h1m3 0h1m2 0h1m3 0h1m3 0h1m5 0h1m4 0h2m3 0h4m8 0h1m4 0h1m1 0h1m4 0h1m10 0h1m4 0h1m4 0h1m3 0h1m3 0h1m4 0h1m9 0h1m7 0h1m5 0h2m6 0h1m3 0h1m3 0h1m1 0h1m1 0h1m2 0h2m2 0h1m1 0h2m3 0h1m5 0h1m1 0h2m3 0h1m1 0h2m1 0h1m4 0h1M1123 437h2m1 0h1m1 0h1m2 0h4m1 0h1m1 0h1m3 0h2m6 0h2m4 0h1m1 0h1m2 0h1m6 0h1m2 0h3m7 0h2m4 0h1m6 0h1m2 0h1m1 0h2m2 0h1m2 0h3m8 0h1m2 0h1m2 0h2m1 0h2m4 0h2m2 0h1m2 0h1m1 0h2m1 0h2m2 0h2m1 0h1m5 0h1m3 0h1m6 0h2m3 0h2m7 0h1m7 0h2m5 0h1m2 0h1m1 0h1m4 0h1m1 0h1m3 0h1m1 0h1m6 0h2m1 0h3m2 0h2m8 0h1m2 0h1m2 0h1m2 0h1m6 0h1m4 0h3m5 0h1m1 0h4m4 0h1m3 0h2m1 0h1m1 0h1m12 0h2m3 0h1m1 0h1m4 0h2m4 0h2m3 0h1m3 0h1M1125 438h1m3 0h2m1 0h1m2 0h1m1 0h1m2 0h1m1 0h1m3 0h1m2 0h1m1 0h1m1 0h2m1 0h1m3 0h1m5 0h1m2 0h1m5 0h1m4 0h1m1 0h1m7 0h3m1 0h1m5 0h1m5 0h2m3 0h1m1 0h2m2 0h1m2 0h1m4 0h2m9 0h1m9 0h1m4 0h1m3 0h1m1 0h1m3 0h3m3 0h3m4 0h2m2 0h1m3 0h1m6 0h2m1 0h1m5 0h2m2 0h1m5 0h1m1 0h1m1 0h1m1 0h1m2 0h1m5 0h1m2 0h2m2 0h3m4 0h1m2 0h2m4 0h1m1 0h1m2 0h2m2 0h2m5 0h1m1 0h1m1 0h1m2 0h1m5 0h1m3 0h1m2 0h1m10 0h1m2 0h1m5 0h1m2 0h1m4 0h2m5 0h1m1 0h1m2 0h1m2 0h1m1 0h1m1 0h1m1 0h1m1 0h1M1123 439h2m1 0h11m1 0h1m1 0h4m2 0h6m1 0h1m1 0h5m3 0h2m2 0h1m3 0h1m1 0h1m1 0h3m2 0h1m1 0h1m3 0h3m1 0h2m1 0h1m1 0h5m5 0h4m2 0h8m2 0h1m1 0h1m1 0h6m2 0h5m1 0h1m2 0h8m1 0h1m3 0h2m1 0h2m1 0h9m1 0h1m2 0h3m2 0h1m1 0h2m3 0h2m1 0h2m1 0h2m2 0h2m1 0h3m1 0h3m2 0h3m1 0h3m1 0h2m1 0h2m2 0h6m2 0h4m1 0h2m2 0h1m2 0h1m1 0h2m1 0h2m2 0h3m3 0h2m4 0h2m1 0h1m1 0h1m1 0h1m1 0h2m1 0h1m1 0h1m1 0h1m1 0h5m2 0h5m1 0h1m1 0h3m1 0h3m1 0h4m1 0h2m1 0h1m1 0h5m2 0h6m1 0h1m1 0h1m1 0h1M1122 440h3m1 0h66m1 0h1m2 0h16m1 0h72m1 0h29m1 0h29m1 0h4m1 0h15m1 0h60m1 0h2m1 0h3M1122 441h33m1 0h17m1 0h16m1 0h37m1 0h22m1 0h42m1 0h19m1 0h15m2 0h15m1 0h24m1 0h32m1 0h28M1384 52h1"/>
<use href="#d2" x="1" y="0" opacity="0.13"/>
<use href="#d2" x="-1" y="0" opacity="0.13"/>
<use href="#d2" x="0" y="1" opacity="0.13"/>
<use href="#d2" x="0" y="-1" opacity="0.13"/>
</g>
<path d="M1082.5 32.0V462.0M1082.0 461.5H1472.9" stroke="#000" stroke-width="1.1" fill="none"/>
<path d="M1077.1 442.5H1082.0M1077.1 363.5H1082.0M1077.1 283.5H1082.0M1077.1 204.5H1082.0M1077.1 125.5H1082.0M1077.1 46.5H1082.0M1278.5 461.5v5.4" stroke="#000" stroke-width="1.1" fill="none"/>
<g opacity=".999"><text x="83.1" y="451.1" font-size="19.8" text-anchor="end" textLength="12.2" lengthAdjust="spacingAndGlyphs">0</text><text x="83.1" y="359.1" font-size="19.8" text-anchor="end" textLength="48.9" lengthAdjust="spacingAndGlyphs">2000</text><text x="83.1" y="266.1" font-size="19.8" text-anchor="end" textLength="48.9" lengthAdjust="spacingAndGlyphs">4000</text><text x="83.1" y="174.1" font-size="19.8" text-anchor="end" textLength="48.9" lengthAdjust="spacingAndGlyphs">6000</text><text x="83.1" y="81.1" font-size="19.8" text-anchor="end" textLength="48.9" lengthAdjust="spacingAndGlyphs">8000</text><text x="194.7" y="25.0" font-size="20.4" textLength="187.5" lengthAdjust="spacingAndGlyphs">n_genes_by_counts</text><text transform="translate(24.9,274.4) rotate(-90)" font-size="20.4" textLength="50.8" lengthAdjust="spacingAndGlyphs">value</text><text x="577.1" y="451.1" font-size="19.8" text-anchor="end" textLength="12.2" lengthAdjust="spacingAndGlyphs">0</text><text x="577.1" y="399.1" font-size="19.8" text-anchor="end" textLength="61.1" lengthAdjust="spacingAndGlyphs">20000</text><text x="577.1" y="347.1" font-size="19.8" text-anchor="end" textLength="61.1" lengthAdjust="spacingAndGlyphs">40000</text><text x="577.1" y="295.1" font-size="19.8" text-anchor="end" textLength="61.1" lengthAdjust="spacingAndGlyphs">60000</text><text x="577.1" y="243.1" font-size="19.8" text-anchor="end" textLength="61.1" lengthAdjust="spacingAndGlyphs">80000</text><text x="577.1" y="191.1" font-size="19.8" text-anchor="end" textLength="73.3" lengthAdjust="spacingAndGlyphs">100000</text><text x="577.1" y="140.1" font-size="19.8" text-anchor="end" textLength="73.3" lengthAdjust="spacingAndGlyphs">120000</text><text x="577.1" y="88.1" font-size="19.8" text-anchor="end" textLength="73.3" lengthAdjust="spacingAndGlyphs">140000</text><text x="723.4" y="25.0" font-size="20.4" textLength="117.6" lengthAdjust="spacingAndGlyphs">total_counts</text><text transform="translate(494.2,274.4) rotate(-90)" font-size="20.4" textLength="50.8" lengthAdjust="spacingAndGlyphs">value</text><text x="1071.4" y="450.1" font-size="19.8" text-anchor="end" textLength="12.2" lengthAdjust="spacingAndGlyphs">0</text><text x="1071.4" y="371.1" font-size="19.8" text-anchor="end" textLength="24.4" lengthAdjust="spacingAndGlyphs">20</text><text x="1071.4" y="291.1" font-size="19.8" text-anchor="end" textLength="24.4" lengthAdjust="spacingAndGlyphs">40</text><text x="1071.4" y="212.1" font-size="19.8" text-anchor="end" textLength="24.4" lengthAdjust="spacingAndGlyphs">60</text><text x="1071.4" y="133.1" font-size="19.8" text-anchor="end" textLength="24.4" lengthAdjust="spacingAndGlyphs">80</text><text x="1071.4" y="54.1" font-size="19.8" text-anchor="end" textLength="36.7" lengthAdjust="spacingAndGlyphs">100</text><text x="1207.9" y="25.0" font-size="20.4" textLength="140.0" lengthAdjust="spacingAndGlyphs">pct_counts_mt</text><text transform="translate(1025.6,274.4) rotate(-90)" font-size="20.4" textLength="50.8" lengthAdjust="spacingAndGlyphs">value</text></g>
</svg></body></html>
